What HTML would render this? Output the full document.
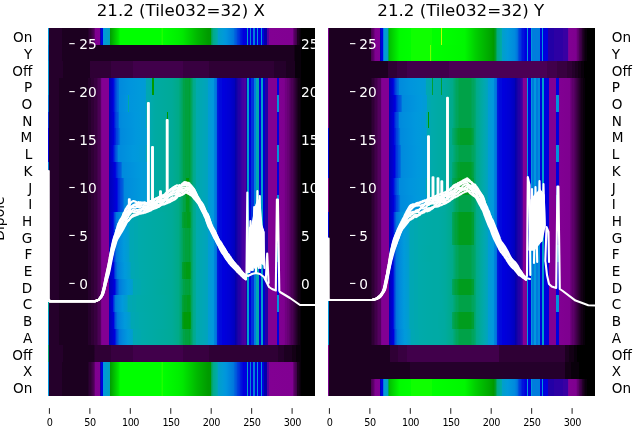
<!DOCTYPE html><html><head><meta charset="utf-8"><style>html,body{margin:0;padding:0;background:#fff;width:640px;height:440px;overflow:hidden;position:relative}#hm div{position:absolute}svg{position:absolute;left:0;top:0;display:block}text{font-family:"DejaVu Sans","Liberation Sans",sans-serif}</style></head><body>
<div id="hm"><div style="left:47.90px;top:28.00px;width:267.10px;height:17.00px;background:linear-gradient(90deg,#0098dd 0.00px,#0098dd 0.75px,#25002b 1.00px,#25002b 14.00px,#1c0020 14.25px,#1c0020 40.25px,#25002b 40.50px,#25002b 41.00px,#2f0035 41.25px,#2f0035 42.50px,#380040 42.75px,#380040 44.00px,#41004b 44.25px,#41004b 45.00px,#4b0055 45.25px,#4b0055 45.50px,#540060 45.75px,#540060 46.00px,#5d006b 46.25px,#5d006b 46.50px,#700080 47.00px,#700080 47.25px,#7f0090 47.50px,#820093 51.50px,#870098 51.75px,#3800a3 52.00px,#2300a6 52.25px,#0d00a8 52.75px,#0000c1 53.00px,#0000dd 53.25px,#0000dd 54.75px,#0078dd 55.00px,#0098dd 55.25px,#00a0c7 60.00px,#00a3bf 61.50px,#00a668 61.75px,#009a00 62.00px,#00e700 70.75px,#00ff00 72.25px,#00ff00 113.25px,#1dff00 113.75px,#1dff00 114.50px,#00ff00 115.00px,#00ef00 130.75px,#00e700 135.00px,#00b700 149.25px,#009a00 160.25px,#009a00 163.00px,#009a08 163.25px,#00a353 163.50px,#00a668 164.00px,#00a668 164.25px,#00aa88 165.00px,#00aaa8 169.25px,#00a8af 169.50px,#009fcb 169.75px,#009fcb 171.00px,#009ecf 172.00px,#009bd7 175.00px,#0095dd 178.00px,#0078dd 185.50px,#0070dd 185.75px,#0070dd 186.25px,#0067dd 186.50px,#0067dd 187.00px,#005ddd 187.25px,#005ddd 187.75px,#0054dd 188.00px,#0054dd 188.50px,#004bdd 188.75px,#004bdd 189.25px,#0041dd 189.50px,#0041dd 190.00px,#0038dd 190.25px,#0038dd 190.75px,#002fdd 191.00px,#002fdd 191.50px,#0025dd 191.75px,#0025dd 192.25px,#001cdd 192.50px,#001cdd 193.00px,#0013dd 193.25px,#0013dd 194.00px,#0009dd 194.25px,#0009dd 194.75px,#0000dd 195.00px,#0000dd 198.75px,#009fcb 199.00px,#009fcb 199.50px,#0000dd 199.75px,#0000dd 202.25px,#0085dd 202.50px,#0085dd 203.00px,#0000dd 203.25px,#0000dd 205.00px,#007ddd 205.25px,#007ddd 206.50px,#0000dd 206.75px,#0000dd 208.50px,#0098dd 208.75px,#0098dd 210.00px,#0000dd 210.25px,#0000dd 212.75px,#0098dd 213.00px,#0098dd 214.25px,#0000dd 214.50px,#0000dd 216.25px,#0300aa 216.50px,#0300aa 219.25px,#58009f 219.50px,#58009f 220.50px,#820093 220.75px,#810092 244.50px,#770088 245.00px,#670075 245.25px,#670075 245.50px,#5d006b 245.75px,#5d006b 246.25px,#540060 246.50px,#540060 247.00px,#4b0055 247.25px,#4b0055 248.00px,#41004b 248.25px,#41004b 248.75px,#1c0020 249.25px,#1c0020 250.50px,#130015 250.75px,#130015 252.00px,#09000b 252.25px,#09000b 253.00px,#000000 253.25px,#000000 267.00px)"></div><div style="left:47.90px;top:44.70px;width:267.10px;height:17.00px;background:linear-gradient(90deg,#008add 0.00px,#008add 0.75px,#25002b 1.00px,#25002b 14.00px,#1c0020 14.25px,#1c0020 246.00px,#130015 246.25px,#130015 246.50px,#09000b 246.75px,#09000b 253.00px,#000000 253.25px,#000000 267.00px)"></div><div style="left:47.90px;top:61.41px;width:267.10px;height:17.00px;background:linear-gradient(90deg,#0098dd 0.00px,#0098dd 0.75px,#25002b 1.00px,#25002b 14.50px,#1c0020 14.75px,#1c0020 42.00px,#2f0035 42.25px,#2f0035 62.50px,#380040 62.75px,#380040 84.50px,#41004b 84.75px,#41004b 134.50px,#380040 134.75px,#380040 160.75px,#2f0035 161.00px,#2f0035 225.50px,#25002b 225.75px,#25002b 238.00px,#1c0020 238.25px,#1c0020 246.50px,#09000b 247.00px,#09000b 253.00px,#000000 253.25px,#000000 267.00px)"></div><div style="left:47.90px;top:78.11px;width:267.10px;height:17.00px;background:linear-gradient(90deg,#0098dd 0.00px,#0098dd 0.75px,#25002b 1.00px,#25002b 11.00px,#1c0020 11.25px,#1c0020 40.00px,#25002b 40.25px,#25002b 43.25px,#2f0035 43.50px,#2f0035 46.25px,#380040 46.50px,#380040 48.75px,#41004b 49.00px,#41004b 50.25px,#4b0055 50.50px,#4b0055 52.00px,#540060 52.25px,#540060 53.25px,#7a008b 53.50px,#820093 53.75px,#820093 61.00px,#78009b 61.25px,#0000b9 61.50px,#0000d5 64.50px,#0000dd 65.25px,#0013dd 65.75px,#0013dd 66.00px,#0038dd 67.00px,#0038dd 67.25px,#0041dd 67.50px,#0041dd 67.75px,#004bdd 68.00px,#004bdd 68.25px,#0054dd 68.50px,#0054dd 68.75px,#005ddd 69.00px,#005ddd 69.25px,#0067dd 69.50px,#0067dd 70.00px,#0070dd 70.25px,#0070dd 70.50px,#0085dd 70.75px,#008add 71.25px,#0095dd 82.50px,#009adb 91.75px,#009bd7 92.75px,#009bd7 96.25px,#009cd3 97.25px,#009ecf 98.00px,#00a7b3 98.25px,#00a7b3 100.25px,#00a8af 101.25px,#00a8af 102.50px,#00aaab 103.50px,#00aaab 104.25px,#009a00 104.50px,#009a00 105.75px,#00aaa3 106.00px,#00aa98 124.00px,#00aa88 130.25px,#00aa88 130.50px,#00a97d 130.75px,#00a97d 131.75px,#00a773 132.00px,#00a773 133.00px,#00a668 133.25px,#00a668 133.75px,#00a55d 134.00px,#00a55d 134.50px,#00a353 134.75px,#00a353 135.25px,#00a248 135.50px,#00a248 136.75px,#00a13d 137.00px,#00a13d 141.00px,#009f33 141.25px,#009f33 141.50px,#00a13d 141.75px,#00a13d 142.00px,#00a248 142.25px,#00a248 142.50px,#00a353 142.75px,#00a353 143.00px,#00a55d 143.25px,#00a55d 143.50px,#00a668 143.75px,#00a668 144.00px,#00a773 144.25px,#00a773 144.50px,#00aa88 145.00px,#00aa95 147.50px,#00aaa5 147.75px,#00aaab 148.25px,#00a8af 151.50px,#00a7b3 152.50px,#00a7b3 153.75px,#00a6b7 154.75px,#00a6b7 156.00px,#00a4bb 157.00px,#00a4bb 158.25px,#00a3bf 159.25px,#00a3bf 159.50px,#009cd3 160.00px,#009bd7 162.75px,#009adb 163.75px,#0098dd 165.50px,#0085dd 165.75px,#0078dd 168.00px,#0070dd 168.25px,#0070dd 168.50px,#0067dd 168.75px,#0067dd 169.00px,#005ddd 169.25px,#001cdd 169.50px,#0013dd 169.75px,#0013dd 171.25px,#0009dd 171.50px,#0009dd 173.75px,#0000dd 174.00px,#0000dd 176.25px,#0000d9 177.25px,#0000d9 178.75px,#0000d5 179.75px,#0000d5 181.00px,#0000d1 182.00px,#0000bd 187.00px,#0300aa 187.25px,#0300aa 187.50px,#0d00a8 187.75px,#0d00a8 189.00px,#1800a7 189.25px,#1800a7 190.25px,#2300a6 190.50px,#2300a6 191.50px,#2d00a4 191.75px,#2d00a4 192.75px,#3800a3 193.00px,#3800a3 194.25px,#4300a2 194.50px,#4300a2 196.00px,#4d00a0 196.25px,#4d00a0 197.75px,#58009f 198.00px,#58009f 198.25px,#2300a6 198.50px,#2300a6 199.25px,#009fcb 199.50px,#009fcb 201.00px,#0000dd 201.25px,#0000dd 203.00px,#002fdd 203.25px,#002fdd 205.75px,#007ddd 206.00px,#007ddd 208.25px,#00a7b3 208.50px,#00a7b3 210.50px,#0000dd 210.75px,#0000dd 212.50px,#009fcb 212.75px,#009fcb 214.50px,#0000d1 214.75px,#0000d1 217.25px,#2300a6 217.50px,#2300a6 220.00px,#820093 220.25px,#820093 228.50px,#0000dd 228.75px,#0000dd 230.75px,#810092 231.00px,#7e008f 236.25px,#770088 237.00px,#700080 237.25px,#700080 238.75px,#670075 239.00px,#670075 240.50px,#5d006b 240.75px,#5d006b 242.25px,#540060 242.50px,#540060 243.25px,#4b0055 243.50px,#4b0055 244.50px,#41004b 244.75px,#41004b 245.50px,#380040 245.75px,#380040 246.50px,#2f0035 246.75px,#2f0035 247.75px,#25002b 248.00px,#25002b 249.00px,#1c0020 249.25px,#1c0020 250.00px,#130015 250.25px,#130015 251.50px,#09000b 251.75px,#09000b 253.00px,#000000 253.25px,#000000 267.00px)"></div><div style="left:47.90px;top:94.82px;width:267.10px;height:17.00px;background:linear-gradient(90deg,#0078dd 0.00px,#0078dd 0.75px,#25002b 1.00px,#25002b 11.00px,#1c0020 11.25px,#1c0020 40.00px,#25002b 40.25px,#25002b 43.25px,#2f0035 43.50px,#2f0035 46.25px,#380040 46.50px,#380040 48.75px,#41004b 49.00px,#41004b 50.25px,#4b0055 50.50px,#4b0055 52.00px,#540060 52.25px,#540060 53.25px,#7a008b 53.50px,#820093 53.75px,#820093 61.00px,#78009b 61.25px,#0000b9 61.50px,#0000d5 64.50px,#0000dd 65.25px,#0013dd 65.75px,#0013dd 66.00px,#0038dd 67.00px,#0038dd 67.25px,#0041dd 67.50px,#0041dd 67.75px,#004bdd 68.00px,#004bdd 68.25px,#0054dd 68.50px,#0054dd 68.75px,#005ddd 69.00px,#005ddd 69.25px,#0067dd 69.50px,#0067dd 70.00px,#0070dd 70.25px,#0070dd 70.50px,#0085dd 70.75px,#008add 71.25px,#0095dd 79.75px,#00aaa3 80.00px,#00aaa3 81.25px,#0095dd 81.50px,#009adb 91.75px,#009bd7 92.75px,#009bd7 96.25px,#009cd3 97.25px,#009ecf 98.00px,#00a7b3 98.25px,#00a7b3 100.25px,#00a8af 101.25px,#00a8af 102.50px,#00aaab 103.50px,#00aaa3 107.00px,#00aa98 124.00px,#00aa88 130.25px,#00aa88 130.50px,#00a97d 130.75px,#00a97d 131.75px,#00a773 132.00px,#00a773 133.00px,#00a668 133.25px,#00a668 133.75px,#00a55d 134.00px,#00a55d 134.50px,#00a353 134.75px,#00a353 135.25px,#00a248 135.50px,#00a248 136.75px,#00a13d 137.00px,#00a13d 141.00px,#009f33 141.25px,#009f33 141.50px,#00a13d 141.75px,#00a13d 142.00px,#00a248 142.25px,#00a248 142.50px,#00a353 142.75px,#00a353 143.00px,#00a55d 143.25px,#00a55d 143.50px,#00a668 143.75px,#00a668 144.00px,#00a773 144.25px,#00a773 144.50px,#00aa88 145.00px,#00aa95 147.50px,#00aaa5 147.75px,#00aaab 148.25px,#00a8af 151.50px,#00a7b3 152.50px,#00a7b3 153.75px,#00a6b7 154.75px,#00a6b7 156.00px,#00a4bb 157.00px,#00a4bb 158.25px,#00a3bf 159.25px,#00a3bf 159.50px,#009cd3 160.00px,#009bd7 162.75px,#009adb 163.75px,#0098dd 165.50px,#0085dd 165.75px,#0078dd 168.00px,#0070dd 168.25px,#0070dd 168.50px,#0067dd 168.75px,#0067dd 169.00px,#005ddd 169.25px,#001cdd 169.50px,#0013dd 169.75px,#0013dd 171.25px,#0009dd 171.50px,#0009dd 173.75px,#0000dd 174.00px,#0000dd 176.25px,#0000d9 177.25px,#0000d9 178.75px,#0000d5 179.75px,#0000d5 181.00px,#0000d1 182.00px,#0000bd 187.00px,#0300aa 187.25px,#0300aa 187.50px,#0d00a8 187.75px,#0d00a8 189.00px,#1800a7 189.25px,#1800a7 190.25px,#2300a6 190.50px,#2300a6 191.50px,#2d00a4 191.75px,#2d00a4 192.75px,#3800a3 193.00px,#3800a3 194.25px,#4300a2 194.50px,#4300a2 196.00px,#4d00a0 196.25px,#4d00a0 197.75px,#58009f 198.00px,#58009f 198.25px,#2300a6 198.50px,#2300a6 199.25px,#009fcb 199.50px,#009fcb 201.00px,#0000dd 201.25px,#0000dd 203.00px,#002fdd 203.25px,#002fdd 205.75px,#007ddd 206.00px,#007ddd 208.25px,#00a7b3 208.50px,#00a7b3 210.50px,#0000dd 210.75px,#0000dd 212.50px,#009fcb 212.75px,#009fcb 214.50px,#0000d1 214.75px,#0000d1 217.25px,#2300a6 217.50px,#2300a6 220.00px,#820093 220.25px,#820093 228.50px,#0092dd 228.75px,#0092dd 230.75px,#810092 231.00px,#7e008f 236.25px,#770088 237.00px,#700080 237.25px,#700080 238.75px,#670075 239.00px,#670075 240.50px,#5d006b 240.75px,#5d006b 242.25px,#540060 242.50px,#540060 243.25px,#4b0055 243.50px,#4b0055 244.50px,#41004b 244.75px,#41004b 245.50px,#380040 245.75px,#380040 246.50px,#2f0035 246.75px,#2f0035 247.75px,#25002b 248.00px,#25002b 249.00px,#1c0020 249.25px,#1c0020 250.00px,#130015 250.25px,#130015 251.50px,#09000b 251.75px,#09000b 253.00px,#000000 253.25px,#000000 267.00px)"></div><div style="left:47.90px;top:111.52px;width:267.10px;height:17.00px;background:linear-gradient(90deg,#002fdd 0.00px,#002fdd 0.75px,#25002b 1.00px,#25002b 11.00px,#1c0020 11.25px,#1c0020 40.00px,#25002b 40.25px,#25002b 43.25px,#2f0035 43.50px,#2f0035 46.25px,#380040 46.50px,#380040 48.75px,#41004b 49.00px,#41004b 50.25px,#4b0055 50.50px,#4b0055 52.00px,#540060 52.25px,#540060 53.25px,#7a008b 53.50px,#820093 53.75px,#820093 61.00px,#78009b 61.25px,#0000b9 61.50px,#0000d5 64.75px,#0000dd 65.75px,#0025dd 66.75px,#0025dd 67.00px,#0038dd 67.50px,#0038dd 67.75px,#0041dd 68.00px,#0041dd 68.25px,#004bdd 68.50px,#004bdd 68.75px,#0054dd 69.00px,#0054dd 69.50px,#005ddd 69.75px,#005ddd 70.00px,#0067dd 70.25px,#0067dd 70.50px,#0070dd 70.75px,#0070dd 71.25px,#0088dd 71.50px,#008ddd 74.00px,#0098dd 87.75px,#009adb 92.50px,#009bd7 93.50px,#009bd7 96.50px,#009cd3 97.50px,#009cd3 98.25px,#00a7b3 98.50px,#00a7b3 100.50px,#00a8af 101.50px,#00a8af 102.50px,#00aaab 103.50px,#00aaa3 107.00px,#00aa9d 118.50px,#009a00 118.75px,#009a00 119.75px,#00aa9b 120.00px,#00aa98 124.00px,#00aa88 130.25px,#00aa88 130.50px,#00a97d 130.75px,#00a97d 131.75px,#00a773 132.00px,#00a773 133.00px,#00a668 133.25px,#00a668 133.75px,#00a55d 134.00px,#00a55d 134.50px,#00a353 134.75px,#00a353 135.25px,#00a248 135.50px,#00a248 136.75px,#00a13d 137.00px,#00a13d 141.00px,#009f33 141.25px,#009f33 141.50px,#00a13d 141.75px,#00a13d 142.00px,#00a248 142.25px,#00a248 142.50px,#00a353 142.75px,#00a353 143.00px,#00a55d 143.25px,#00a55d 143.50px,#00a668 143.75px,#00a668 144.00px,#00a773 144.25px,#00a773 144.50px,#00aa88 145.00px,#00aa95 147.50px,#00aaa5 147.75px,#00aaab 148.25px,#00a8af 151.50px,#00a7b3 152.50px,#00a7b3 153.75px,#00a6b7 154.75px,#00a6b7 156.00px,#00a4bb 157.00px,#00a4bb 158.25px,#00a3bf 159.25px,#00a3bf 159.50px,#009cd3 160.00px,#009bd7 162.75px,#009adb 163.75px,#0098dd 165.50px,#0085dd 165.75px,#0078dd 168.00px,#0070dd 168.25px,#0070dd 168.50px,#0067dd 168.75px,#0067dd 169.00px,#005ddd 169.25px,#001cdd 169.50px,#0013dd 169.75px,#0013dd 171.25px,#0009dd 171.50px,#0009dd 173.75px,#0000dd 174.00px,#0000dd 176.25px,#0000d9 177.25px,#0000d9 178.75px,#0000d5 179.75px,#0000d5 181.00px,#0000d1 182.00px,#0000bd 187.00px,#0300aa 187.25px,#0300aa 187.50px,#0d00a8 187.75px,#0d00a8 189.00px,#1800a7 189.25px,#1800a7 190.25px,#2300a6 190.50px,#2300a6 191.50px,#2d00a4 191.75px,#2d00a4 192.75px,#3800a3 193.00px,#3800a3 194.25px,#4300a2 194.50px,#4300a2 196.00px,#4d00a0 196.25px,#4d00a0 197.75px,#58009f 198.00px,#58009f 198.25px,#2300a6 198.50px,#2300a6 199.25px,#009fcb 199.50px,#009fcb 201.00px,#0000dd 201.25px,#0000dd 203.00px,#002fdd 203.25px,#002fdd 205.75px,#007ddd 206.00px,#007ddd 208.25px,#00a7b3 208.50px,#00a7b3 210.50px,#0000dd 210.75px,#0000dd 212.50px,#009fcb 212.75px,#009fcb 214.50px,#0000d1 214.75px,#0000d1 217.25px,#2300a6 217.50px,#2300a6 220.00px,#820093 220.25px,#820093 228.50px,#0000dd 228.75px,#0000dd 230.75px,#810092 231.00px,#7e008f 236.25px,#770088 237.00px,#700080 237.25px,#700080 238.75px,#670075 239.00px,#670075 240.50px,#5d006b 240.75px,#5d006b 242.25px,#540060 242.50px,#540060 243.25px,#4b0055 243.50px,#4b0055 244.50px,#41004b 244.75px,#41004b 245.50px,#380040 245.75px,#380040 246.50px,#2f0035 246.75px,#2f0035 247.75px,#25002b 248.00px,#25002b 249.00px,#1c0020 249.25px,#1c0020 250.00px,#130015 250.25px,#130015 251.50px,#09000b 251.75px,#09000b 253.00px,#000000 253.25px,#000000 267.00px)"></div><div style="left:47.90px;top:128.23px;width:267.10px;height:17.00px;background:linear-gradient(90deg,#0000dd 0.00px,#0000dd 0.75px,#25002b 1.00px,#25002b 11.00px,#1c0020 11.25px,#1c0020 40.00px,#25002b 40.25px,#25002b 43.25px,#2f0035 43.50px,#2f0035 46.25px,#380040 46.50px,#380040 48.75px,#41004b 49.00px,#41004b 50.25px,#4b0055 50.50px,#4b0055 52.00px,#540060 52.25px,#540060 53.25px,#7a008b 53.50px,#820093 53.75px,#820093 61.00px,#78009b 61.25px,#0000b9 61.50px,#0000dd 66.00px,#0013dd 66.50px,#0013dd 66.75px,#0025dd 67.25px,#0025dd 67.50px,#0038dd 68.00px,#0038dd 68.25px,#0041dd 68.50px,#0041dd 68.75px,#004bdd 69.00px,#004bdd 69.50px,#0054dd 69.75px,#0054dd 70.00px,#005ddd 70.25px,#005ddd 70.75px,#0067dd 71.00px,#0067dd 71.25px,#0070dd 71.50px,#0070dd 72.00px,#0085dd 72.25px,#008add 72.75px,#0098dd 88.00px,#009adb 93.00px,#009bd7 94.00px,#009bd7 97.00px,#009cd3 98.00px,#009ecf 98.50px,#00a7b3 98.75px,#00a7b3 100.50px,#00a8af 101.50px,#00a8af 102.50px,#00aaab 103.50px,#00aaa3 107.00px,#00aa98 124.00px,#00aa88 130.25px,#00aa88 130.50px,#00a97d 130.75px,#00a97d 131.75px,#00a773 132.00px,#00a773 133.00px,#00a668 133.25px,#00a668 133.75px,#00a55d 134.00px,#00a55d 134.50px,#00a353 134.75px,#00a353 135.25px,#00a248 135.50px,#00a248 136.75px,#00a13d 137.00px,#00a13d 141.00px,#009f33 141.25px,#009f33 141.50px,#00a13d 141.75px,#00a13d 142.00px,#00a248 142.25px,#00a248 142.50px,#00a353 142.75px,#00a353 143.00px,#00a55d 143.25px,#00a55d 143.50px,#00a668 143.75px,#00a668 144.00px,#00a773 144.25px,#00a773 144.50px,#00aa88 145.00px,#00aa95 147.50px,#00aaa5 147.75px,#00aaab 148.25px,#00a8af 151.50px,#00a7b3 152.50px,#00a7b3 153.75px,#00a6b7 154.75px,#00a6b7 156.00px,#00a4bb 157.00px,#00a4bb 158.25px,#00a3bf 159.25px,#00a3bf 159.50px,#009cd3 160.00px,#009bd7 162.75px,#009adb 163.75px,#0098dd 165.50px,#0085dd 165.75px,#0078dd 168.00px,#0070dd 168.25px,#0070dd 168.50px,#0067dd 168.75px,#0067dd 169.00px,#005ddd 169.25px,#001cdd 169.50px,#0013dd 169.75px,#0013dd 171.25px,#0009dd 171.50px,#0009dd 173.75px,#0000dd 174.00px,#0000dd 176.25px,#0000d9 177.25px,#0000d9 178.75px,#0000d5 179.75px,#0000d5 181.00px,#0000d1 182.00px,#0000bd 187.00px,#0300aa 187.25px,#0300aa 187.50px,#0d00a8 187.75px,#0d00a8 189.00px,#1800a7 189.25px,#1800a7 190.25px,#2300a6 190.50px,#2300a6 191.50px,#2d00a4 191.75px,#2d00a4 192.75px,#3800a3 193.00px,#3800a3 194.25px,#4300a2 194.50px,#4300a2 196.00px,#4d00a0 196.25px,#4d00a0 197.75px,#58009f 198.00px,#58009f 198.25px,#2300a6 198.50px,#2300a6 199.25px,#009fcb 199.50px,#009fcb 201.00px,#0000dd 201.25px,#0000dd 203.00px,#002fdd 203.25px,#002fdd 205.75px,#007ddd 206.00px,#007ddd 208.25px,#00a7b3 208.50px,#00a7b3 210.50px,#0000dd 210.75px,#0000dd 212.50px,#009fcb 212.75px,#009fcb 214.50px,#0000d1 214.75px,#0000d1 217.25px,#2300a6 217.50px,#2300a6 220.00px,#820093 220.25px,#820093 228.50px,#0000dd 228.75px,#0000dd 230.75px,#810092 231.00px,#7e008f 236.25px,#770088 237.00px,#700080 237.25px,#700080 238.75px,#670075 239.00px,#670075 240.50px,#5d006b 240.75px,#5d006b 242.25px,#540060 242.50px,#540060 243.25px,#4b0055 243.50px,#4b0055 244.50px,#41004b 244.75px,#41004b 245.50px,#380040 245.75px,#380040 246.50px,#2f0035 246.75px,#2f0035 247.75px,#25002b 248.00px,#25002b 249.00px,#1c0020 249.25px,#1c0020 250.00px,#130015 250.25px,#130015 251.50px,#09000b 251.75px,#09000b 253.00px,#000000 253.25px,#000000 267.00px)"></div><div style="left:47.90px;top:144.93px;width:267.10px;height:17.00px;background:linear-gradient(90deg,#0000dd 0.00px,#0000dd 0.75px,#25002b 1.00px,#25002b 11.00px,#1c0020 11.25px,#1c0020 40.00px,#25002b 40.25px,#25002b 43.25px,#2f0035 43.50px,#2f0035 46.25px,#380040 46.50px,#380040 48.75px,#41004b 49.00px,#41004b 50.25px,#4b0055 50.50px,#4b0055 52.00px,#540060 52.25px,#540060 53.25px,#7a008b 53.50px,#820093 53.75px,#820093 61.00px,#78009b 61.25px,#0000b9 61.50px,#0000dd 65.00px,#0025dd 66.00px,#0025dd 66.25px,#0041dd 67.00px,#0041dd 67.25px,#004bdd 67.50px,#004bdd 67.75px,#0054dd 68.00px,#0054dd 68.25px,#005ddd 68.50px,#005ddd 68.75px,#0067dd 69.00px,#0067dd 69.25px,#0070dd 69.50px,#0070dd 69.75px,#008add 70.25px,#0098dd 85.00px,#009adb 91.00px,#009bd7 92.00px,#009bd7 95.75px,#009cd3 96.75px,#009cd3 97.50px,#009fcb 97.75px,#00a7b3 98.00px,#00a7b3 100.25px,#00a8af 101.25px,#00a8af 102.50px,#00aaab 103.50px,#00aaa3 107.00px,#00aa98 124.00px,#00aa88 130.25px,#00aa88 130.50px,#00a97d 130.75px,#00a97d 131.75px,#00a773 132.00px,#00a773 133.00px,#00a668 133.25px,#00a668 133.75px,#00a55d 134.00px,#00a55d 134.50px,#00a353 134.75px,#00a353 135.25px,#00a248 135.50px,#00a248 136.75px,#00a13d 137.00px,#00a13d 141.00px,#009f33 141.25px,#009f33 141.50px,#00a13d 141.75px,#00a13d 142.00px,#00a248 142.25px,#00a248 142.50px,#00a353 142.75px,#00a353 143.00px,#00a55d 143.25px,#00a55d 143.50px,#00a668 143.75px,#00a668 144.00px,#00a773 144.25px,#00a773 144.50px,#00aa88 145.00px,#00aa95 147.50px,#00aaa5 147.75px,#00aaab 148.25px,#00a8af 151.50px,#00a7b3 152.50px,#00a7b3 153.75px,#00a6b7 154.75px,#00a6b7 156.00px,#00a4bb 157.00px,#00a4bb 158.25px,#00a3bf 159.25px,#00a3bf 159.50px,#009cd3 160.00px,#009bd7 162.75px,#009adb 163.75px,#0098dd 165.50px,#0085dd 165.75px,#0078dd 168.00px,#0070dd 168.25px,#0070dd 168.50px,#0067dd 168.75px,#0067dd 169.00px,#005ddd 169.25px,#001cdd 169.50px,#0013dd 169.75px,#0013dd 171.25px,#0009dd 171.50px,#0009dd 173.75px,#0000dd 174.00px,#0000dd 176.25px,#0000d9 177.25px,#0000d9 178.75px,#0000d5 179.75px,#0000d5 181.00px,#0000d1 182.00px,#0000bd 187.00px,#0300aa 187.25px,#0300aa 187.50px,#0d00a8 187.75px,#0d00a8 189.00px,#1800a7 189.25px,#1800a7 190.25px,#2300a6 190.50px,#2300a6 191.50px,#2d00a4 191.75px,#2d00a4 192.75px,#3800a3 193.00px,#3800a3 194.25px,#4300a2 194.50px,#4300a2 196.00px,#4d00a0 196.25px,#4d00a0 197.75px,#58009f 198.00px,#58009f 198.25px,#2300a6 198.50px,#2300a6 199.25px,#009fcb 199.50px,#009fcb 201.00px,#0000dd 201.25px,#0000dd 203.00px,#002fdd 203.25px,#002fdd 205.75px,#007ddd 206.00px,#007ddd 208.25px,#00a7b3 208.50px,#00a7b3 210.50px,#0000dd 210.75px,#0000dd 212.50px,#009fcb 212.75px,#009fcb 214.50px,#0000d1 214.75px,#0000d1 217.25px,#2300a6 217.50px,#2300a6 220.00px,#820093 220.25px,#820093 228.50px,#0092dd 228.75px,#0092dd 230.75px,#810092 231.00px,#7e008f 236.25px,#770088 237.00px,#700080 237.25px,#700080 238.75px,#670075 239.00px,#670075 240.50px,#5d006b 240.75px,#5d006b 242.25px,#540060 242.50px,#540060 243.25px,#4b0055 243.50px,#4b0055 244.50px,#41004b 244.75px,#41004b 245.50px,#380040 245.75px,#380040 246.50px,#2f0035 246.75px,#2f0035 247.75px,#25002b 248.00px,#25002b 249.00px,#1c0020 249.25px,#1c0020 250.00px,#130015 250.25px,#130015 251.50px,#09000b 251.75px,#09000b 253.00px,#000000 253.25px,#000000 267.00px)"></div><div style="left:47.90px;top:161.64px;width:267.10px;height:17.00px;background:linear-gradient(90deg,#0078dd 0.00px,#0078dd 0.75px,#25002b 1.00px,#25002b 11.00px,#1c0020 11.25px,#1c0020 40.00px,#25002b 40.25px,#25002b 43.25px,#2f0035 43.50px,#2f0035 46.25px,#380040 46.50px,#380040 48.75px,#41004b 49.00px,#41004b 50.25px,#4b0055 50.50px,#4b0055 52.00px,#540060 52.25px,#540060 53.25px,#7a008b 53.50px,#820093 53.75px,#820093 61.00px,#78009b 61.25px,#0000b9 61.50px,#0000d9 66.50px,#0000dd 67.00px,#0009dd 67.25px,#0009dd 67.50px,#001cdd 68.00px,#001cdd 68.25px,#0025dd 68.50px,#0025dd 68.75px,#0038dd 69.25px,#0038dd 69.50px,#0041dd 69.75px,#0041dd 70.25px,#004bdd 70.50px,#004bdd 71.00px,#0054dd 71.25px,#0054dd 71.75px,#005ddd 72.00px,#005ddd 72.50px,#0067dd 72.75px,#0067dd 73.00px,#0070dd 73.25px,#0070dd 73.75px,#008add 74.25px,#0098dd 90.00px,#009adb 94.00px,#009bd7 95.00px,#009bd7 97.50px,#009cd3 98.50px,#009cd3 98.75px,#00a4bb 99.00px,#00a7b3 99.25px,#00a7b3 100.50px,#00a8af 101.50px,#00a8af 102.50px,#00aaab 103.50px,#00aaa3 107.00px,#00aa98 124.00px,#00aa88 130.25px,#00aa88 130.50px,#00a97d 130.75px,#00a97d 131.75px,#00a773 132.00px,#00a773 133.00px,#00a668 133.25px,#00a668 133.75px,#00a55d 134.00px,#00a55d 134.50px,#00a353 134.75px,#00a353 135.25px,#00a248 135.50px,#00a248 136.75px,#00a13d 137.00px,#00a13d 141.00px,#009f33 141.25px,#009f33 141.50px,#00a13d 141.75px,#00a13d 142.00px,#00a248 142.25px,#00a248 142.50px,#00a353 142.75px,#00a353 143.00px,#00a55d 143.25px,#00a55d 143.50px,#00a668 143.75px,#00a668 144.00px,#00a773 144.25px,#00a773 144.50px,#00aa88 145.00px,#00aa95 147.50px,#00aaa5 147.75px,#00aaab 148.25px,#00a8af 151.50px,#00a7b3 152.50px,#00a7b3 153.75px,#00a6b7 154.75px,#00a6b7 156.00px,#00a4bb 157.00px,#00a4bb 158.25px,#00a3bf 159.25px,#00a3bf 159.50px,#009cd3 160.00px,#009bd7 162.75px,#009adb 163.75px,#0098dd 165.50px,#0085dd 165.75px,#0078dd 168.00px,#0070dd 168.25px,#0070dd 168.50px,#0067dd 168.75px,#0067dd 169.00px,#005ddd 169.25px,#001cdd 169.50px,#0013dd 169.75px,#0013dd 171.25px,#0009dd 171.50px,#0009dd 173.75px,#0000dd 174.00px,#0000dd 176.25px,#0000d9 177.25px,#0000d9 178.75px,#0000d5 179.75px,#0000d5 181.00px,#0000d1 182.00px,#0000bd 187.00px,#0300aa 187.25px,#0300aa 187.50px,#0d00a8 187.75px,#0d00a8 189.00px,#1800a7 189.25px,#1800a7 190.25px,#2300a6 190.50px,#2300a6 191.50px,#2d00a4 191.75px,#2d00a4 192.75px,#3800a3 193.00px,#3800a3 194.25px,#4300a2 194.50px,#4300a2 196.00px,#4d00a0 196.25px,#4d00a0 197.75px,#58009f 198.00px,#58009f 198.25px,#2300a6 198.50px,#2300a6 199.25px,#009fcb 199.50px,#009fcb 201.00px,#0000dd 201.25px,#0000dd 203.00px,#002fdd 203.25px,#002fdd 205.75px,#007ddd 206.00px,#007ddd 208.25px,#00a7b3 208.50px,#00a7b3 210.50px,#0000dd 210.75px,#0000dd 212.50px,#009fcb 212.75px,#009fcb 214.50px,#0000d1 214.75px,#0000d1 217.25px,#2300a6 217.50px,#2300a6 220.00px,#820093 220.25px,#820093 228.50px,#0000dd 228.75px,#0000dd 230.75px,#810092 231.00px,#7e008f 236.25px,#770088 237.00px,#700080 237.25px,#700080 238.75px,#670075 239.00px,#670075 240.50px,#5d006b 240.75px,#5d006b 242.25px,#540060 242.50px,#540060 243.25px,#4b0055 243.50px,#4b0055 244.50px,#41004b 244.75px,#41004b 245.50px,#380040 245.75px,#380040 246.50px,#2f0035 246.75px,#2f0035 247.75px,#25002b 248.00px,#25002b 249.00px,#1c0020 249.25px,#1c0020 250.00px,#130015 250.25px,#130015 251.50px,#09000b 251.75px,#09000b 253.00px,#000000 253.25px,#000000 267.00px)"></div><div style="left:47.90px;top:178.34px;width:267.10px;height:17.00px;background:linear-gradient(90deg,#0098dd 0.00px,#0098dd 0.75px,#25002b 1.00px,#25002b 11.00px,#1c0020 11.25px,#1c0020 40.00px,#25002b 40.25px,#25002b 43.25px,#2f0035 43.50px,#2f0035 46.25px,#380040 46.50px,#380040 48.75px,#41004b 49.00px,#41004b 50.25px,#4b0055 50.50px,#4b0055 52.00px,#540060 52.25px,#540060 53.25px,#7a008b 53.50px,#820093 53.75px,#820093 61.00px,#78009b 61.25px,#0000b9 61.50px,#0000dd 68.50px,#0009dd 68.75px,#0009dd 69.00px,#0013dd 69.25px,#0013dd 69.50px,#001cdd 69.75px,#001cdd 70.00px,#002fdd 70.50px,#002fdd 70.75px,#0038dd 71.00px,#0038dd 71.50px,#0041dd 71.75px,#0041dd 72.25px,#004bdd 72.50px,#004bdd 73.00px,#0054dd 73.25px,#0054dd 73.75px,#005ddd 74.00px,#005ddd 74.50px,#0067dd 74.75px,#0067dd 75.25px,#0070dd 75.50px,#0070dd 76.00px,#0088dd 76.25px,#008ddd 79.25px,#009adb 93.75px,#009adb 94.75px,#009bd7 95.75px,#009bd7 98.00px,#009cd3 99.00px,#00a3bf 99.25px,#00a7b3 99.50px,#00a7b3 100.75px,#00a8af 101.75px,#00aaa8 105.00px,#00aaa3 106.75px,#00aa98 124.00px,#00aa88 130.25px,#00aa88 130.50px,#00a97d 130.75px,#00a97d 131.75px,#00a773 132.00px,#00a773 133.00px,#00a668 133.25px,#00a668 133.75px,#00a55d 134.00px,#00a55d 134.50px,#00a353 134.75px,#00a353 135.25px,#00a248 135.50px,#00a248 136.75px,#00a13d 137.00px,#00a13d 138.00px,#009a00 138.25px,#009a00 140.75px,#00a13d 141.00px,#009f33 141.25px,#009f33 141.50px,#00a13d 141.75px,#00a13d 142.00px,#00a248 142.25px,#00a248 142.50px,#00a353 142.75px,#00a353 143.00px,#00a55d 143.25px,#00a55d 143.50px,#00a668 143.75px,#00a668 144.00px,#00a773 144.25px,#00a773 144.50px,#00aa88 145.00px,#00aa95 147.50px,#00aaa5 147.75px,#00aaab 148.25px,#00a8af 151.50px,#00a7b3 152.50px,#00a7b3 153.75px,#00a6b7 154.75px,#00a6b7 156.00px,#00a4bb 157.00px,#00a4bb 158.25px,#00a3bf 159.25px,#00a3bf 159.50px,#009cd3 160.00px,#009bd7 162.75px,#009adb 163.75px,#0098dd 165.50px,#0085dd 165.75px,#0078dd 168.00px,#0070dd 168.25px,#0070dd 168.50px,#0067dd 168.75px,#0067dd 169.00px,#005ddd 169.25px,#001cdd 169.50px,#0013dd 169.75px,#0013dd 171.25px,#0009dd 171.50px,#0009dd 173.75px,#0000dd 174.00px,#0000dd 176.25px,#0000d9 177.25px,#0000d9 178.75px,#0000d5 179.75px,#0000d5 181.00px,#0000d1 182.00px,#0000bd 187.00px,#0300aa 187.25px,#0300aa 187.50px,#0d00a8 187.75px,#0d00a8 189.00px,#1800a7 189.25px,#1800a7 190.25px,#2300a6 190.50px,#2300a6 191.50px,#2d00a4 191.75px,#2d00a4 192.75px,#3800a3 193.00px,#3800a3 194.25px,#4300a2 194.50px,#4300a2 196.00px,#4d00a0 196.25px,#4d00a0 197.75px,#58009f 198.00px,#58009f 198.25px,#2300a6 198.50px,#2300a6 199.25px,#009fcb 199.50px,#009fcb 201.00px,#0000dd 201.25px,#0000dd 203.00px,#002fdd 203.25px,#002fdd 205.75px,#007ddd 206.00px,#007ddd 208.25px,#00a7b3 208.50px,#00a7b3 210.50px,#0000dd 210.75px,#0000dd 212.50px,#009fcb 212.75px,#009fcb 214.50px,#0000d1 214.75px,#0000d1 217.25px,#2300a6 217.50px,#2300a6 220.00px,#820093 220.25px,#820093 228.50px,#0000dd 228.75px,#0000dd 230.75px,#810092 231.00px,#7e008f 236.25px,#770088 237.00px,#700080 237.25px,#700080 238.75px,#670075 239.00px,#670075 240.50px,#5d006b 240.75px,#5d006b 242.25px,#540060 242.50px,#540060 243.25px,#4b0055 243.50px,#4b0055 244.50px,#41004b 244.75px,#41004b 245.50px,#380040 245.75px,#380040 246.50px,#2f0035 246.75px,#2f0035 247.75px,#25002b 248.00px,#25002b 249.00px,#1c0020 249.25px,#1c0020 250.00px,#130015 250.25px,#130015 251.50px,#09000b 251.75px,#09000b 253.00px,#000000 253.25px,#000000 267.00px)"></div><div style="left:47.90px;top:195.05px;width:267.10px;height:17.00px;background:linear-gradient(90deg,#0098dd 0.00px,#0098dd 0.75px,#25002b 1.00px,#25002b 11.00px,#1c0020 11.25px,#1c0020 40.00px,#25002b 40.25px,#25002b 43.25px,#2f0035 43.50px,#2f0035 46.25px,#380040 46.50px,#380040 48.75px,#41004b 49.00px,#41004b 50.25px,#4b0055 50.50px,#4b0055 52.00px,#540060 52.25px,#540060 53.25px,#7a008b 53.50px,#820093 53.75px,#820093 61.00px,#78009b 61.25px,#0000b9 61.50px,#0000dd 68.50px,#0009dd 68.75px,#0009dd 69.00px,#0013dd 69.25px,#0013dd 69.50px,#001cdd 69.75px,#001cdd 70.00px,#002fdd 70.50px,#002fdd 70.75px,#0038dd 71.00px,#0038dd 71.50px,#0041dd 71.75px,#0041dd 72.25px,#004bdd 72.50px,#004bdd 73.00px,#0054dd 73.25px,#0054dd 73.75px,#005ddd 74.00px,#005ddd 74.50px,#0067dd 74.75px,#0067dd 75.25px,#0070dd 75.50px,#0070dd 76.00px,#0088dd 76.25px,#008ddd 79.25px,#009adb 93.75px,#009adb 94.75px,#009bd7 95.75px,#009bd7 98.00px,#009cd3 99.00px,#00a3bf 99.25px,#00a7b3 99.50px,#00a7b3 100.75px,#00a8af 101.75px,#00aaa8 105.00px,#00aaa3 106.75px,#00aa98 124.00px,#00aa88 130.25px,#00aa88 130.50px,#00a97d 130.75px,#00a97d 131.75px,#00a773 132.00px,#00a773 133.00px,#00a668 133.25px,#00a668 133.75px,#00a55d 134.00px,#00a55d 134.50px,#00a353 134.75px,#00a353 135.25px,#00a248 135.50px,#00a248 136.75px,#00a13d 137.00px,#00a13d 138.00px,#009d1d 138.25px,#009d1d 140.75px,#00a13d 141.00px,#009f33 141.25px,#009f33 141.50px,#00a13d 141.75px,#00a13d 142.00px,#00a248 142.25px,#00a248 142.50px,#00a353 142.75px,#00a353 143.00px,#00a55d 143.25px,#00a55d 143.50px,#00a668 143.75px,#00a668 144.00px,#00a773 144.25px,#00a773 144.50px,#00aa88 145.00px,#00aa95 147.50px,#00aaa5 147.75px,#00aaab 148.25px,#00a8af 151.50px,#00a7b3 152.50px,#00a7b3 153.75px,#00a6b7 154.75px,#00a6b7 156.00px,#00a4bb 157.00px,#00a4bb 158.25px,#00a3bf 159.25px,#00a3bf 159.50px,#009cd3 160.00px,#009bd7 162.75px,#009adb 163.75px,#0098dd 165.50px,#0085dd 165.75px,#0078dd 168.00px,#0070dd 168.25px,#0070dd 168.50px,#0067dd 168.75px,#0067dd 169.00px,#005ddd 169.25px,#001cdd 169.50px,#0013dd 169.75px,#0013dd 171.25px,#0009dd 171.50px,#0009dd 173.75px,#0000dd 174.00px,#0000dd 176.25px,#0000d9 177.25px,#0000d9 178.75px,#0000d5 179.75px,#0000d5 181.00px,#0000d1 182.00px,#0000bd 187.00px,#0300aa 187.25px,#0300aa 187.50px,#0d00a8 187.75px,#0d00a8 189.00px,#1800a7 189.25px,#1800a7 190.25px,#2300a6 190.50px,#2300a6 191.50px,#2d00a4 191.75px,#2d00a4 192.75px,#3800a3 193.00px,#3800a3 194.25px,#4300a2 194.50px,#4300a2 196.00px,#4d00a0 196.25px,#4d00a0 197.75px,#58009f 198.00px,#58009f 198.25px,#2300a6 198.50px,#2300a6 199.25px,#009fcb 199.50px,#009fcb 201.00px,#0000dd 201.25px,#0000dd 203.00px,#002fdd 203.25px,#002fdd 205.75px,#007ddd 206.00px,#007ddd 208.25px,#00a7b3 208.50px,#00a7b3 210.50px,#0000dd 210.75px,#0000dd 212.50px,#009fcb 212.75px,#009fcb 214.50px,#0000d1 214.75px,#0000d1 217.25px,#2300a6 217.50px,#2300a6 220.00px,#820093 220.25px,#820093 228.50px,#0092dd 228.75px,#0092dd 230.75px,#810092 231.00px,#7e008f 236.25px,#770088 237.00px,#700080 237.25px,#700080 238.75px,#670075 239.00px,#670075 240.50px,#5d006b 240.75px,#5d006b 242.25px,#540060 242.50px,#540060 243.25px,#4b0055 243.50px,#4b0055 244.50px,#41004b 244.75px,#41004b 245.50px,#380040 245.75px,#380040 246.50px,#2f0035 246.75px,#2f0035 247.75px,#25002b 248.00px,#25002b 249.00px,#1c0020 249.25px,#1c0020 250.00px,#130015 250.25px,#130015 251.50px,#09000b 251.75px,#09000b 253.00px,#000000 253.25px,#000000 267.00px)"></div><div style="left:47.90px;top:211.75px;width:267.10px;height:17.00px;background:linear-gradient(90deg,#0000dd 0.00px,#0000dd 0.75px,#25002b 1.00px,#25002b 11.00px,#1c0020 11.25px,#1c0020 40.00px,#25002b 40.25px,#25002b 43.25px,#2f0035 43.50px,#2f0035 46.25px,#380040 46.50px,#380040 48.75px,#41004b 49.00px,#41004b 50.25px,#4b0055 50.50px,#4b0055 52.00px,#540060 52.25px,#540060 53.25px,#7a008b 53.50px,#820093 53.75px,#820093 61.00px,#78009b 61.25px,#0000b9 61.50px,#0000d1 64.00px,#0000dd 65.25px,#0013dd 65.50px,#0025dd 66.00px,#0038dd 66.25px,#0054dd 67.00px,#0054dd 67.25px,#0067dd 67.75px,#0067dd 68.00px,#0078dd 68.50px,#008add 71.50px,#009adb 76.00px,#009cd3 79.00px,#009fcb 81.00px,#009fcb 81.25px,#00a7b3 81.75px,#00a7b3 85.50px,#00a8af 86.50px,#00a8af 89.50px,#00aaab 90.50px,#00aaa0 114.00px,#00aa98 124.00px,#00aa88 130.25px,#00aa88 130.50px,#00a97d 130.75px,#00a97d 131.75px,#00a773 132.00px,#00a773 133.00px,#00a668 133.25px,#00a668 133.75px,#00a55d 134.00px,#00a248 134.25px,#00a13d 134.50px,#00a13d 135.00px,#009f33 135.25px,#009f33 135.75px,#009e28 136.00px,#009e28 138.75px,#009d1d 139.00px,#009d1d 141.75px,#009e28 142.00px,#009e28 142.25px,#009f33 142.50px,#009f33 142.75px,#00a13d 143.00px,#00a55d 143.25px,#00a55d 143.50px,#00a668 143.75px,#00a668 144.00px,#00a773 144.25px,#00a773 144.50px,#00aa88 145.00px,#00aa95 147.50px,#00aaa5 147.75px,#00aaab 148.25px,#00a8af 151.50px,#00a7b3 152.50px,#00a7b3 153.75px,#00a6b7 154.75px,#00a6b7 156.00px,#00a4bb 157.00px,#00a4bb 158.25px,#00a3bf 159.25px,#00a3bf 159.50px,#009cd3 160.00px,#009bd7 162.75px,#009adb 163.75px,#0098dd 165.50px,#0085dd 165.75px,#0078dd 168.00px,#0070dd 168.25px,#0070dd 168.50px,#0067dd 168.75px,#0067dd 169.00px,#005ddd 169.25px,#001cdd 169.50px,#0013dd 169.75px,#0013dd 171.25px,#0009dd 171.50px,#0009dd 173.75px,#0000dd 174.00px,#0000dd 176.25px,#0000d9 177.25px,#0000d9 178.75px,#0000d5 179.75px,#0000d5 181.00px,#0000d1 182.00px,#0000bd 187.00px,#0300aa 187.25px,#0300aa 187.50px,#0d00a8 187.75px,#0d00a8 189.00px,#1800a7 189.25px,#1800a7 190.25px,#2300a6 190.50px,#2300a6 191.50px,#2d00a4 191.75px,#2d00a4 192.75px,#3800a3 193.00px,#3800a3 194.25px,#4300a2 194.50px,#4300a2 196.00px,#4d00a0 196.25px,#4d00a0 197.75px,#58009f 198.00px,#58009f 198.25px,#2300a6 198.50px,#2300a6 199.25px,#009fcb 199.50px,#009fcb 201.00px,#0000dd 201.25px,#0000dd 203.00px,#002fdd 203.25px,#002fdd 205.75px,#007ddd 206.00px,#007ddd 208.25px,#00a7b3 208.50px,#00a7b3 210.50px,#0000dd 210.75px,#0000dd 212.50px,#009fcb 212.75px,#009fcb 214.50px,#0000d1 214.75px,#0000d1 217.25px,#2300a6 217.50px,#2300a6 220.00px,#820093 220.25px,#820093 228.50px,#0000dd 228.75px,#0000dd 230.75px,#810092 231.00px,#7e008f 236.25px,#770088 237.00px,#700080 237.25px,#700080 238.75px,#670075 239.00px,#670075 240.50px,#5d006b 240.75px,#5d006b 242.25px,#540060 242.50px,#540060 243.25px,#4b0055 243.50px,#4b0055 244.50px,#41004b 244.75px,#41004b 245.50px,#380040 245.75px,#380040 246.50px,#2f0035 246.75px,#2f0035 247.75px,#25002b 248.00px,#25002b 249.00px,#1c0020 249.25px,#1c0020 250.00px,#130015 250.25px,#130015 251.50px,#09000b 251.75px,#09000b 253.00px,#000000 253.25px,#000000 267.00px)"></div><div style="left:47.90px;top:228.45px;width:267.10px;height:17.00px;background:linear-gradient(90deg,#0000dd 0.00px,#0000dd 0.75px,#25002b 1.00px,#25002b 11.00px,#1c0020 11.25px,#1c0020 40.00px,#25002b 40.25px,#25002b 43.25px,#2f0035 43.50px,#2f0035 46.25px,#380040 46.50px,#380040 48.75px,#41004b 49.00px,#41004b 50.25px,#4b0055 50.50px,#4b0055 52.00px,#540060 52.25px,#540060 53.25px,#7a008b 53.50px,#820093 53.75px,#820093 61.00px,#78009b 61.25px,#0000b9 61.50px,#0000d1 64.00px,#0000dd 65.25px,#0013dd 65.50px,#0025dd 66.00px,#0038dd 66.25px,#0054dd 67.00px,#0054dd 67.25px,#0067dd 67.75px,#0067dd 68.00px,#0078dd 68.50px,#008add 71.50px,#009adb 76.00px,#009cd3 79.00px,#009fcb 81.00px,#009fcb 81.25px,#00a7b3 81.75px,#00a7b3 85.50px,#00a8af 86.50px,#00a8af 89.50px,#00aaab 90.50px,#00aaa0 114.00px,#00aa98 124.00px,#00aa88 130.25px,#00aa88 130.50px,#00a97d 130.75px,#00a97d 131.75px,#00a773 132.00px,#00a773 133.00px,#00a668 133.25px,#00a668 133.75px,#00a55d 134.00px,#00a55d 134.50px,#00a353 134.75px,#00a353 135.25px,#00a248 135.50px,#00a248 136.75px,#00a13d 137.00px,#00a13d 141.00px,#009f33 141.25px,#009f33 141.50px,#00a13d 141.75px,#00a13d 142.00px,#00a248 142.25px,#00a248 142.50px,#00a353 142.75px,#00a353 143.00px,#00a55d 143.25px,#00a55d 143.50px,#00a668 143.75px,#00a668 144.00px,#00a773 144.25px,#00a773 144.50px,#00aa88 145.00px,#00aa95 147.50px,#00aaa5 147.75px,#00aaab 148.25px,#00a8af 151.50px,#00a7b3 152.50px,#00a7b3 153.75px,#00a6b7 154.75px,#00a6b7 156.00px,#00a4bb 157.00px,#00a4bb 158.25px,#00a3bf 159.25px,#00a3bf 159.50px,#009cd3 160.00px,#009bd7 162.75px,#009adb 163.75px,#0098dd 165.50px,#0085dd 165.75px,#0078dd 168.00px,#0070dd 168.25px,#0070dd 168.50px,#0067dd 168.75px,#0067dd 169.00px,#005ddd 169.25px,#001cdd 169.50px,#0013dd 169.75px,#0013dd 171.25px,#0009dd 171.50px,#0009dd 173.75px,#0000dd 174.00px,#0000dd 176.25px,#0000d9 177.25px,#0000d9 178.75px,#0000d5 179.75px,#0000d5 181.00px,#0000d1 182.00px,#0000bd 187.00px,#0300aa 187.25px,#0300aa 187.50px,#0d00a8 187.75px,#0d00a8 189.00px,#1800a7 189.25px,#1800a7 190.25px,#2300a6 190.50px,#2300a6 191.50px,#2d00a4 191.75px,#2d00a4 192.75px,#3800a3 193.00px,#3800a3 194.25px,#4300a2 194.50px,#4300a2 196.00px,#4d00a0 196.25px,#4d00a0 197.75px,#58009f 198.00px,#58009f 198.25px,#2300a6 198.50px,#2300a6 199.25px,#009fcb 199.50px,#009fcb 201.00px,#0000dd 201.25px,#0000dd 203.00px,#002fdd 203.25px,#002fdd 205.75px,#007ddd 206.00px,#007ddd 208.25px,#00a7b3 208.50px,#00a7b3 210.50px,#0000dd 210.75px,#0000dd 212.50px,#009fcb 212.75px,#009fcb 214.50px,#0000d1 214.75px,#0000d1 217.25px,#2300a6 217.50px,#2300a6 220.00px,#820093 220.25px,#820093 228.50px,#0000dd 228.75px,#0000dd 230.75px,#810092 231.00px,#7e008f 236.25px,#770088 237.00px,#700080 237.25px,#700080 238.75px,#670075 239.00px,#670075 240.50px,#5d006b 240.75px,#5d006b 242.25px,#540060 242.50px,#540060 243.25px,#4b0055 243.50px,#4b0055 244.50px,#41004b 244.75px,#41004b 245.50px,#380040 245.75px,#380040 246.50px,#2f0035 246.75px,#2f0035 247.75px,#25002b 248.00px,#25002b 249.00px,#1c0020 249.25px,#1c0020 250.00px,#130015 250.25px,#130015 251.50px,#09000b 251.75px,#09000b 253.00px,#000000 253.25px,#000000 267.00px)"></div><div style="left:47.90px;top:245.16px;width:267.10px;height:17.00px;background:linear-gradient(90deg,#0078dd 0.00px,#0078dd 0.75px,#25002b 1.00px,#25002b 11.00px,#1c0020 11.25px,#1c0020 40.00px,#25002b 40.25px,#25002b 43.25px,#2f0035 43.50px,#2f0035 46.25px,#380040 46.50px,#380040 48.75px,#41004b 49.00px,#41004b 50.25px,#4b0055 50.50px,#4b0055 52.00px,#540060 52.25px,#540060 53.25px,#7a008b 53.50px,#820093 53.75px,#820093 61.00px,#78009b 61.25px,#0000b9 61.50px,#0000d1 64.00px,#0000dd 65.25px,#0013dd 65.50px,#0025dd 66.00px,#0038dd 66.25px,#0054dd 67.00px,#0054dd 67.25px,#0067dd 67.75px,#0067dd 68.00px,#0078dd 68.50px,#008add 71.50px,#009adb 76.00px,#009cd3 79.00px,#009fcb 81.00px,#009fcb 81.25px,#00a7b3 81.75px,#00a7b3 85.50px,#00a8af 86.50px,#00a8af 89.50px,#00aaab 90.50px,#00aaa0 114.00px,#00aa98 124.00px,#00aa88 130.25px,#00aa88 130.50px,#00a97d 130.75px,#00a97d 131.75px,#00a773 132.00px,#00a773 133.00px,#00a668 133.25px,#00a668 133.75px,#00a55d 134.00px,#00a55d 134.50px,#00a353 134.75px,#00a353 135.25px,#00a248 135.50px,#00a248 136.75px,#00a13d 137.00px,#00a13d 141.00px,#009f33 141.25px,#009f33 141.50px,#00a13d 141.75px,#00a13d 142.00px,#00a248 142.25px,#00a248 142.50px,#00a353 142.75px,#00a353 143.00px,#00a55d 143.25px,#00a55d 143.50px,#00a668 143.75px,#00a668 144.00px,#00a773 144.25px,#00a773 144.50px,#00aa88 145.00px,#00aa95 147.50px,#00aaa5 147.75px,#00aaab 148.25px,#00a8af 151.50px,#00a7b3 152.50px,#00a7b3 153.75px,#00a6b7 154.75px,#00a6b7 156.00px,#00a4bb 157.00px,#00a4bb 158.25px,#00a3bf 159.25px,#00a3bf 159.50px,#009cd3 160.00px,#009bd7 162.75px,#009adb 163.75px,#0098dd 165.50px,#0085dd 165.75px,#0078dd 168.00px,#0070dd 168.25px,#0070dd 168.50px,#0067dd 168.75px,#0067dd 169.00px,#005ddd 169.25px,#001cdd 169.50px,#0013dd 169.75px,#0013dd 171.25px,#0009dd 171.50px,#0009dd 173.75px,#0000dd 174.00px,#0000dd 176.25px,#0000d9 177.25px,#0000d9 178.75px,#0000d5 179.75px,#0000d5 181.00px,#0000d1 182.00px,#0000bd 187.00px,#0300aa 187.25px,#0300aa 187.50px,#0d00a8 187.75px,#0d00a8 189.00px,#1800a7 189.25px,#1800a7 190.25px,#2300a6 190.50px,#2300a6 191.50px,#2d00a4 191.75px,#2d00a4 192.75px,#3800a3 193.00px,#3800a3 194.25px,#4300a2 194.50px,#4300a2 196.00px,#4d00a0 196.25px,#4d00a0 197.75px,#58009f 198.00px,#58009f 198.25px,#2300a6 198.50px,#2300a6 199.25px,#009fcb 199.50px,#009fcb 201.00px,#0000dd 201.25px,#0000dd 203.00px,#002fdd 203.25px,#002fdd 205.75px,#007ddd 206.00px,#007ddd 208.25px,#00a7b3 208.50px,#00a7b3 210.50px,#0000dd 210.75px,#0000dd 212.50px,#009fcb 212.75px,#009fcb 214.50px,#0000d1 214.75px,#0000d1 217.25px,#2300a6 217.50px,#2300a6 220.00px,#820093 220.25px,#820093 228.50px,#0092dd 228.75px,#0092dd 230.75px,#810092 231.00px,#7e008f 236.25px,#770088 237.00px,#700080 237.25px,#700080 238.75px,#670075 239.00px,#670075 240.50px,#5d006b 240.75px,#5d006b 242.25px,#540060 242.50px,#540060 243.25px,#4b0055 243.50px,#4b0055 244.50px,#41004b 244.75px,#41004b 245.50px,#380040 245.75px,#380040 246.50px,#2f0035 246.75px,#2f0035 247.75px,#25002b 248.00px,#25002b 249.00px,#1c0020 249.25px,#1c0020 250.00px,#130015 250.25px,#130015 251.50px,#09000b 251.75px,#09000b 253.00px,#000000 253.25px,#000000 267.00px)"></div><div style="left:47.90px;top:261.86px;width:267.10px;height:17.00px;background:linear-gradient(90deg,#0098dd 0.00px,#0098dd 0.75px,#25002b 1.00px,#25002b 11.00px,#1c0020 11.25px,#1c0020 40.00px,#25002b 40.25px,#25002b 43.25px,#2f0035 43.50px,#2f0035 46.25px,#380040 46.50px,#380040 48.75px,#41004b 49.00px,#41004b 50.25px,#4b0055 50.50px,#4b0055 52.00px,#540060 52.25px,#540060 53.25px,#7a008b 53.50px,#820093 53.75px,#820093 61.00px,#78009b 61.25px,#0000b9 61.50px,#0000d1 64.25px,#0000dd 65.50px,#0009dd 65.75px,#001cdd 66.00px,#0054dd 67.50px,#0054dd 67.75px,#0067dd 68.25px,#0067dd 68.50px,#0078dd 69.00px,#0088dd 71.75px,#009adb 76.75px,#009bd7 78.75px,#009cd3 79.75px,#009fcb 82.00px,#009fcb 82.25px,#00a7b3 82.75px,#00a7b3 86.25px,#00a8af 87.25px,#00a8af 90.25px,#00aaab 91.25px,#00aaa0 114.00px,#00aa98 124.00px,#00aa88 130.25px,#00aa88 130.50px,#00a97d 130.75px,#00a97d 131.75px,#00a773 132.00px,#00a773 133.00px,#00a668 133.25px,#00a668 133.75px,#00a55d 134.00px,#009f33 134.25px,#009f33 134.75px,#009e28 135.00px,#009e28 135.50px,#009d1d 135.75px,#009d1d 137.50px,#009b13 137.75px,#009b13 141.75px,#009d1d 142.00px,#009d1d 142.25px,#009e28 142.50px,#009e28 142.75px,#009f33 143.00px,#00a55d 143.25px,#00a55d 143.50px,#00a668 143.75px,#00a668 144.00px,#00a773 144.25px,#00a773 144.50px,#00aa88 145.00px,#00aa95 147.50px,#00aaa5 147.75px,#00aaab 148.25px,#00a8af 151.50px,#00a7b3 152.50px,#00a7b3 153.75px,#00a6b7 154.75px,#00a6b7 156.00px,#00a4bb 157.00px,#00a4bb 158.25px,#00a3bf 159.25px,#00a3bf 159.50px,#009cd3 160.00px,#009bd7 162.75px,#009adb 163.75px,#0098dd 165.50px,#0085dd 165.75px,#0078dd 168.00px,#0070dd 168.25px,#0070dd 168.50px,#0067dd 168.75px,#0067dd 169.00px,#005ddd 169.25px,#001cdd 169.50px,#0013dd 169.75px,#0013dd 171.25px,#0009dd 171.50px,#0009dd 173.75px,#0000dd 174.00px,#0000dd 176.25px,#0000d9 177.25px,#0000d9 178.75px,#0000d5 179.75px,#0000d5 181.00px,#0000d1 182.00px,#0000bd 187.00px,#0300aa 187.25px,#0300aa 187.50px,#0d00a8 187.75px,#0d00a8 189.00px,#1800a7 189.25px,#1800a7 190.25px,#2300a6 190.50px,#2300a6 191.50px,#2d00a4 191.75px,#2d00a4 192.75px,#3800a3 193.00px,#3800a3 194.25px,#4300a2 194.50px,#4300a2 196.00px,#4d00a0 196.25px,#4d00a0 197.75px,#58009f 198.00px,#58009f 198.25px,#2300a6 198.50px,#2300a6 199.25px,#009fcb 199.50px,#009fcb 201.00px,#0000dd 201.25px,#0000dd 203.00px,#002fdd 203.25px,#002fdd 205.75px,#007ddd 206.00px,#007ddd 208.25px,#00a7b3 208.50px,#00a7b3 210.50px,#0000dd 210.75px,#0000dd 212.50px,#009fcb 212.75px,#009fcb 214.50px,#0000d1 214.75px,#0000d1 217.25px,#2300a6 217.50px,#2300a6 220.00px,#820093 220.25px,#820093 228.50px,#0000dd 228.75px,#0000dd 230.75px,#810092 231.00px,#7e008f 236.25px,#770088 237.00px,#700080 237.25px,#700080 238.75px,#670075 239.00px,#670075 240.50px,#5d006b 240.75px,#5d006b 242.25px,#540060 242.50px,#540060 243.25px,#4b0055 243.50px,#4b0055 244.50px,#41004b 244.75px,#41004b 245.50px,#380040 245.75px,#380040 246.50px,#2f0035 246.75px,#2f0035 247.75px,#25002b 248.00px,#25002b 249.00px,#1c0020 249.25px,#1c0020 250.00px,#130015 250.25px,#130015 251.50px,#09000b 251.75px,#09000b 253.00px,#000000 253.25px,#000000 267.00px)"></div><div style="left:47.90px;top:278.57px;width:267.10px;height:17.00px;background:linear-gradient(90deg,#0098dd 0.00px,#0098dd 0.75px,#25002b 1.00px,#25002b 11.00px,#1c0020 11.25px,#1c0020 40.00px,#25002b 40.25px,#25002b 43.25px,#2f0035 43.50px,#2f0035 46.25px,#380040 46.50px,#380040 48.75px,#41004b 49.00px,#41004b 50.25px,#4b0055 50.50px,#4b0055 52.00px,#540060 52.25px,#540060 53.25px,#7a008b 53.50px,#820093 53.75px,#820093 61.00px,#78009b 61.25px,#0000b9 61.50px,#0000d1 65.25px,#0000d9 66.25px,#0000dd 66.75px,#0041dd 68.50px,#0041dd 68.75px,#0054dd 69.25px,#0054dd 69.50px,#005ddd 69.75px,#005ddd 70.00px,#0067dd 70.25px,#0067dd 70.50px,#0070dd 70.75px,#0070dd 71.00px,#007add 71.50px,#0088dd 74.50px,#009adb 80.00px,#009ecf 84.00px,#00a0c7 85.25px,#00a7b3 85.50px,#00a7b3 88.75px,#00a8af 89.75px,#00a8af 92.25px,#00aaab 93.25px,#00aa98 124.00px,#00aa88 130.25px,#00aa88 130.50px,#00a97d 130.75px,#00a97d 131.75px,#00a773 132.00px,#00a773 133.00px,#00a668 133.25px,#00a668 133.75px,#00a55d 134.00px,#00a55d 134.50px,#00a353 134.75px,#00a353 135.25px,#00a248 135.50px,#00a248 136.75px,#00a13d 137.00px,#00a13d 141.00px,#009f33 141.25px,#009f33 141.50px,#00a13d 141.75px,#00a13d 142.00px,#00a248 142.25px,#00a248 142.50px,#00a353 142.75px,#00a353 143.00px,#00a55d 143.25px,#00a55d 143.50px,#00a668 143.75px,#00a668 144.00px,#00a773 144.25px,#00a773 144.50px,#00aa88 145.00px,#00aa95 147.50px,#00aaa5 147.75px,#00aaab 148.25px,#00a8af 151.50px,#00a7b3 152.50px,#00a7b3 153.75px,#00a6b7 154.75px,#00a6b7 156.00px,#00a4bb 157.00px,#00a4bb 158.25px,#00a3bf 159.25px,#00a3bf 159.50px,#009cd3 160.00px,#009bd7 162.75px,#009adb 163.75px,#0098dd 165.50px,#0085dd 165.75px,#0078dd 168.00px,#0070dd 168.25px,#0070dd 168.50px,#0067dd 168.75px,#0067dd 169.00px,#005ddd 169.25px,#001cdd 169.50px,#0013dd 169.75px,#0013dd 171.25px,#0009dd 171.50px,#0009dd 173.75px,#0000dd 174.00px,#0000dd 176.25px,#0000d9 177.25px,#0000d9 178.75px,#0000d5 179.75px,#0000d5 181.00px,#0000d1 182.00px,#0000bd 187.00px,#0300aa 187.25px,#0300aa 187.50px,#0d00a8 187.75px,#0d00a8 189.00px,#1800a7 189.25px,#1800a7 190.25px,#2300a6 190.50px,#2300a6 191.50px,#2d00a4 191.75px,#2d00a4 192.75px,#3800a3 193.00px,#3800a3 194.25px,#4300a2 194.50px,#4300a2 196.00px,#4d00a0 196.25px,#4d00a0 197.75px,#58009f 198.00px,#58009f 198.25px,#2300a6 198.50px,#2300a6 199.25px,#009fcb 199.50px,#009fcb 201.00px,#0000dd 201.25px,#0000dd 203.00px,#002fdd 203.25px,#002fdd 205.75px,#007ddd 206.00px,#007ddd 208.25px,#00a7b3 208.50px,#00a7b3 210.50px,#0000dd 210.75px,#0000dd 212.50px,#009fcb 212.75px,#009fcb 214.50px,#0000d1 214.75px,#0000d1 217.25px,#2300a6 217.50px,#2300a6 220.00px,#820093 220.25px,#820093 228.50px,#0000dd 228.75px,#0000dd 230.75px,#810092 231.00px,#7e008f 236.25px,#770088 237.00px,#700080 237.25px,#700080 238.75px,#670075 239.00px,#670075 240.50px,#5d006b 240.75px,#5d006b 242.25px,#540060 242.50px,#540060 243.25px,#4b0055 243.50px,#4b0055 244.50px,#41004b 244.75px,#41004b 245.50px,#380040 245.75px,#380040 246.50px,#2f0035 246.75px,#2f0035 247.75px,#25002b 248.00px,#25002b 249.00px,#1c0020 249.25px,#1c0020 250.00px,#130015 250.25px,#130015 251.50px,#09000b 251.75px,#09000b 253.00px,#000000 253.25px,#000000 267.00px)"></div><div style="left:47.90px;top:295.27px;width:267.10px;height:17.00px;background:linear-gradient(90deg,#00aaab 0.00px,#00aaab 0.75px,#25002b 1.00px,#25002b 11.00px,#1c0020 11.25px,#1c0020 40.00px,#25002b 40.25px,#25002b 43.25px,#2f0035 43.50px,#2f0035 46.25px,#380040 46.50px,#380040 48.75px,#41004b 49.00px,#41004b 50.25px,#4b0055 50.50px,#4b0055 52.00px,#540060 52.25px,#540060 53.25px,#7a008b 53.50px,#820093 53.75px,#820093 61.00px,#78009b 61.25px,#0000b9 61.50px,#0000d5 64.00px,#0000dd 64.75px,#0013dd 65.00px,#001cdd 65.25px,#002fdd 65.50px,#0038dd 65.75px,#004bdd 66.00px,#004bdd 66.25px,#0078dd 67.50px,#0085dd 69.25px,#009adb 74.50px,#009cd3 76.75px,#009fcb 79.25px,#00a2c3 79.50px,#00a7b3 79.75px,#00a7b3 83.50px,#00a8af 84.50px,#00a8af 87.75px,#00aaab 88.75px,#00aaa0 114.00px,#00aa98 124.00px,#00aa88 130.25px,#00aa88 130.50px,#00a97d 130.75px,#00a97d 131.75px,#00a773 132.00px,#00a773 133.00px,#00a668 133.25px,#00a668 133.75px,#00a55d 134.00px,#00a248 134.25px,#00a13d 134.50px,#00a13d 135.00px,#009f33 135.25px,#009f33 135.75px,#009e28 136.00px,#009e28 138.75px,#009d1d 139.00px,#009d1d 141.75px,#009e28 142.00px,#009e28 142.25px,#009f33 142.50px,#009f33 142.75px,#00a13d 143.00px,#00a55d 143.25px,#00a55d 143.50px,#00a668 143.75px,#00a668 144.00px,#00a773 144.25px,#00a773 144.50px,#00aa88 145.00px,#00aa95 147.50px,#00aaa5 147.75px,#00aaab 148.25px,#00a8af 151.50px,#00a7b3 152.50px,#00a7b3 153.75px,#00a6b7 154.75px,#00a6b7 156.00px,#00a4bb 157.00px,#00a4bb 158.25px,#00a3bf 159.25px,#00a3bf 159.50px,#009cd3 160.00px,#009bd7 162.75px,#009adb 163.75px,#0098dd 165.50px,#0085dd 165.75px,#0078dd 168.00px,#0070dd 168.25px,#0070dd 168.50px,#0067dd 168.75px,#0067dd 169.00px,#005ddd 169.25px,#001cdd 169.50px,#0013dd 169.75px,#0013dd 171.25px,#0009dd 171.50px,#0009dd 173.75px,#0000dd 174.00px,#0000dd 176.25px,#0000d9 177.25px,#0000d9 178.75px,#0000d5 179.75px,#0000d5 181.00px,#0000d1 182.00px,#0000bd 187.00px,#0300aa 187.25px,#0300aa 187.50px,#0d00a8 187.75px,#0d00a8 189.00px,#1800a7 189.25px,#1800a7 190.25px,#2300a6 190.50px,#2300a6 191.50px,#2d00a4 191.75px,#2d00a4 192.75px,#3800a3 193.00px,#3800a3 194.25px,#4300a2 194.50px,#4300a2 196.00px,#4d00a0 196.25px,#4d00a0 197.75px,#58009f 198.00px,#58009f 198.25px,#2300a6 198.50px,#2300a6 199.25px,#009fcb 199.50px,#009fcb 201.00px,#0000dd 201.25px,#0000dd 203.00px,#002fdd 203.25px,#002fdd 205.75px,#007ddd 206.00px,#007ddd 208.25px,#00a7b3 208.50px,#00a7b3 210.50px,#0000dd 210.75px,#0000dd 212.50px,#009fcb 212.75px,#009fcb 214.50px,#0000d1 214.75px,#0000d1 217.25px,#2300a6 217.50px,#2300a6 220.00px,#820093 220.25px,#820093 228.50px,#0092dd 228.75px,#0092dd 230.75px,#810092 231.00px,#7e008f 236.25px,#770088 237.00px,#700080 237.25px,#700080 238.75px,#670075 239.00px,#670075 240.50px,#5d006b 240.75px,#5d006b 242.25px,#540060 242.50px,#540060 243.25px,#4b0055 243.50px,#4b0055 244.50px,#41004b 244.75px,#41004b 245.50px,#380040 245.75px,#380040 246.50px,#2f0035 246.75px,#2f0035 247.75px,#25002b 248.00px,#25002b 249.00px,#1c0020 249.25px,#1c0020 250.00px,#130015 250.25px,#130015 251.50px,#09000b 251.75px,#09000b 253.00px,#000000 253.25px,#000000 267.00px)"></div><div style="left:47.90px;top:311.98px;width:267.10px;height:17.00px;background:linear-gradient(90deg,#009fcb 0.00px,#009fcb 0.75px,#25002b 1.00px,#25002b 11.00px,#1c0020 11.25px,#1c0020 40.00px,#25002b 40.25px,#25002b 43.25px,#2f0035 43.50px,#2f0035 46.25px,#380040 46.50px,#380040 48.75px,#41004b 49.00px,#41004b 50.25px,#4b0055 50.50px,#4b0055 52.00px,#540060 52.25px,#540060 53.25px,#7a008b 53.50px,#820093 53.75px,#820093 61.00px,#78009b 61.25px,#0000b9 61.50px,#0000d1 64.25px,#0000dd 65.50px,#0009dd 65.75px,#001cdd 66.00px,#0054dd 67.50px,#0054dd 67.75px,#0067dd 68.25px,#0067dd 68.50px,#0078dd 69.00px,#0088dd 71.75px,#009adb 76.75px,#009bd7 78.75px,#009cd3 79.75px,#009fcb 82.00px,#009fcb 82.25px,#00a7b3 82.75px,#00a7b3 86.25px,#00a8af 87.25px,#00a8af 90.25px,#00aaab 91.25px,#00aaa0 114.00px,#00aa98 124.00px,#00aa88 130.25px,#00aa88 130.50px,#00a97d 130.75px,#00a97d 131.75px,#00a773 132.00px,#00a773 133.00px,#00a668 133.25px,#00a668 133.75px,#00a55d 134.00px,#009e28 134.25px,#009e28 134.50px,#009d1d 134.75px,#009d1d 135.25px,#009b13 135.50px,#009b13 136.25px,#009a08 136.50px,#009a08 140.50px,#009a00 140.75px,#009a00 141.50px,#009a08 141.75px,#009a08 142.00px,#009b13 142.25px,#009b13 142.50px,#009d1d 142.75px,#009d1d 143.00px,#00a55d 143.25px,#00a55d 143.50px,#00a668 143.75px,#00a668 144.00px,#00a773 144.25px,#00a773 144.50px,#00aa88 145.00px,#00aa95 147.50px,#00aaa5 147.75px,#00aaab 148.25px,#00a8af 151.50px,#00a7b3 152.50px,#00a7b3 153.75px,#00a6b7 154.75px,#00a6b7 156.00px,#00a4bb 157.00px,#00a4bb 158.25px,#00a3bf 159.25px,#00a3bf 159.50px,#009cd3 160.00px,#009bd7 162.75px,#009adb 163.75px,#0098dd 165.50px,#0085dd 165.75px,#0078dd 168.00px,#0070dd 168.25px,#0070dd 168.50px,#0067dd 168.75px,#0067dd 169.00px,#005ddd 169.25px,#001cdd 169.50px,#0013dd 169.75px,#0013dd 171.25px,#0009dd 171.50px,#0009dd 173.75px,#0000dd 174.00px,#0000dd 176.25px,#0000d9 177.25px,#0000d9 178.75px,#0000d5 179.75px,#0000d5 181.00px,#0000d1 182.00px,#0000bd 187.00px,#0300aa 187.25px,#0300aa 187.50px,#0d00a8 187.75px,#0d00a8 189.00px,#1800a7 189.25px,#1800a7 190.25px,#2300a6 190.50px,#2300a6 191.50px,#2d00a4 191.75px,#2d00a4 192.75px,#3800a3 193.00px,#3800a3 194.25px,#4300a2 194.50px,#4300a2 196.00px,#4d00a0 196.25px,#4d00a0 197.75px,#58009f 198.00px,#58009f 198.25px,#2300a6 198.50px,#2300a6 199.25px,#009fcb 199.50px,#009fcb 201.00px,#0000dd 201.25px,#0000dd 203.00px,#002fdd 203.25px,#002fdd 205.75px,#007ddd 206.00px,#007ddd 208.25px,#00a7b3 208.50px,#00a7b3 210.50px,#0000dd 210.75px,#0000dd 212.50px,#009fcb 212.75px,#009fcb 214.50px,#0000d1 214.75px,#0000d1 217.25px,#2300a6 217.50px,#2300a6 220.00px,#820093 220.25px,#820093 228.50px,#0000dd 228.75px,#0000dd 230.75px,#810092 231.00px,#7e008f 236.25px,#770088 237.00px,#700080 237.25px,#700080 238.75px,#670075 239.00px,#670075 240.50px,#5d006b 240.75px,#5d006b 242.25px,#540060 242.50px,#540060 243.25px,#4b0055 243.50px,#4b0055 244.50px,#41004b 244.75px,#41004b 245.50px,#380040 245.75px,#380040 246.50px,#2f0035 246.75px,#2f0035 247.75px,#25002b 248.00px,#25002b 249.00px,#1c0020 249.25px,#1c0020 250.00px,#130015 250.25px,#130015 251.50px,#09000b 251.75px,#09000b 253.00px,#000000 253.25px,#000000 267.00px)"></div><div style="left:47.90px;top:328.68px;width:267.10px;height:17.00px;background:linear-gradient(90deg,#0098dd 0.00px,#0098dd 0.75px,#25002b 1.00px,#25002b 11.00px,#1c0020 11.25px,#1c0020 40.00px,#25002b 40.25px,#25002b 43.25px,#2f0035 43.50px,#2f0035 46.25px,#380040 46.50px,#380040 48.75px,#41004b 49.00px,#41004b 50.25px,#4b0055 50.50px,#4b0055 52.00px,#540060 52.25px,#540060 53.25px,#7a008b 53.50px,#820093 53.75px,#820093 61.00px,#78009b 61.25px,#0000b9 61.50px,#0000d1 65.25px,#0000d9 66.25px,#0000dd 66.75px,#0041dd 68.50px,#0041dd 68.75px,#0054dd 69.25px,#0054dd 69.50px,#005ddd 69.75px,#005ddd 70.00px,#0067dd 70.25px,#0067dd 70.50px,#0070dd 70.75px,#0070dd 71.00px,#007add 71.50px,#0088dd 74.50px,#009adb 80.00px,#009ecf 84.00px,#00a0c7 85.25px,#00a7b3 85.50px,#00a7b3 88.75px,#00a8af 89.75px,#00a8af 92.25px,#00aaab 93.25px,#00aa98 124.00px,#00aa88 130.25px,#00aa88 130.50px,#00a97d 130.75px,#00a97d 131.75px,#00a773 132.00px,#00a773 133.00px,#00a668 133.25px,#00a668 133.75px,#00a55d 134.00px,#00a55d 134.50px,#00a353 134.75px,#00a353 135.25px,#00a248 135.50px,#00a248 136.75px,#00a13d 137.00px,#00a13d 141.00px,#009f33 141.25px,#009f33 141.50px,#00a13d 141.75px,#00a13d 142.00px,#00a248 142.25px,#00a248 142.50px,#00a353 142.75px,#00a353 143.00px,#00a55d 143.25px,#00a55d 143.50px,#00a668 143.75px,#00a668 144.00px,#00a773 144.25px,#00a773 144.50px,#00aa88 145.00px,#00aa95 147.50px,#00aaa5 147.75px,#00aaab 148.25px,#00a8af 151.50px,#00a7b3 152.50px,#00a7b3 153.75px,#00a6b7 154.75px,#00a6b7 156.00px,#00a4bb 157.00px,#00a4bb 158.25px,#00a3bf 159.25px,#00a3bf 159.50px,#009cd3 160.00px,#009bd7 162.75px,#009adb 163.75px,#0098dd 165.50px,#0085dd 165.75px,#0078dd 168.00px,#0070dd 168.25px,#0070dd 168.50px,#0067dd 168.75px,#0067dd 169.00px,#005ddd 169.25px,#001cdd 169.50px,#0013dd 169.75px,#0013dd 171.25px,#0009dd 171.50px,#0009dd 173.75px,#0000dd 174.00px,#0000dd 176.25px,#0000d9 177.25px,#0000d9 178.75px,#0000d5 179.75px,#0000d5 181.00px,#0000d1 182.00px,#0000bd 187.00px,#0300aa 187.25px,#0300aa 187.50px,#0d00a8 187.75px,#0d00a8 189.00px,#1800a7 189.25px,#1800a7 190.25px,#2300a6 190.50px,#2300a6 191.50px,#2d00a4 191.75px,#2d00a4 192.75px,#3800a3 193.00px,#3800a3 194.25px,#4300a2 194.50px,#4300a2 196.00px,#4d00a0 196.25px,#4d00a0 197.75px,#58009f 198.00px,#58009f 198.25px,#2300a6 198.50px,#2300a6 199.25px,#009fcb 199.50px,#009fcb 201.00px,#0000dd 201.25px,#0000dd 203.00px,#002fdd 203.25px,#002fdd 205.75px,#007ddd 206.00px,#007ddd 208.25px,#00a7b3 208.50px,#00a7b3 210.50px,#0000dd 210.75px,#0000dd 212.50px,#009fcb 212.75px,#009fcb 214.50px,#0000d1 214.75px,#0000d1 217.25px,#2300a6 217.50px,#2300a6 220.00px,#820093 220.25px,#820093 228.50px,#0000dd 228.75px,#0000dd 230.75px,#810092 231.00px,#7e008f 236.25px,#770088 237.00px,#700080 237.25px,#700080 238.75px,#670075 239.00px,#670075 240.50px,#5d006b 240.75px,#5d006b 242.25px,#540060 242.50px,#540060 243.25px,#4b0055 243.50px,#4b0055 244.50px,#41004b 244.75px,#41004b 245.50px,#380040 245.75px,#380040 246.50px,#2f0035 246.75px,#2f0035 247.75px,#25002b 248.00px,#25002b 249.00px,#1c0020 249.25px,#1c0020 250.00px,#130015 250.25px,#130015 251.50px,#09000b 251.75px,#09000b 253.00px,#000000 253.25px,#000000 267.00px)"></div><div style="left:47.90px;top:345.39px;width:267.10px;height:17.00px;background:linear-gradient(90deg,#00aa88 0.00px,#00aa88 0.75px,#25002b 1.00px,#25002b 14.50px,#1c0020 14.75px,#1c0020 46.25px,#2f0035 46.75px,#2f0035 62.50px,#380040 62.75px,#380040 84.50px,#41004b 84.75px,#41004b 134.50px,#380040 134.75px,#380040 160.75px,#2f0035 161.00px,#2f0035 229.75px,#25002b 230.00px,#25002b 235.50px,#1c0020 235.75px,#1c0020 244.25px,#130015 244.50px,#130015 248.25px,#09000b 248.50px,#09000b 252.50px,#000000 252.75px,#000000 267.00px)"></div><div style="left:47.90px;top:362.09px;width:267.10px;height:17.00px;background:linear-gradient(90deg,#0098dd 0.00px,#0098dd 0.75px,#25002b 1.00px,#25002b 14.00px,#1c0020 14.25px,#1c0020 40.25px,#25002b 40.50px,#25002b 41.00px,#2f0035 41.25px,#2f0035 42.50px,#380040 42.75px,#380040 44.00px,#41004b 44.25px,#41004b 45.00px,#4b0055 45.25px,#4b0055 45.50px,#540060 45.75px,#540060 46.00px,#5d006b 46.25px,#5d006b 46.50px,#700080 47.00px,#700080 47.25px,#7f0090 47.50px,#820093 51.50px,#870098 51.75px,#3800a3 52.00px,#2300a6 52.25px,#0d00a8 52.75px,#0000c1 53.00px,#0000dd 53.25px,#0000dd 54.75px,#0078dd 55.00px,#0098dd 55.25px,#00a0c7 60.00px,#00a3bf 61.50px,#00a668 61.75px,#009a00 62.00px,#00e700 70.75px,#00ff00 72.25px,#00ff00 113.25px,#1dff00 113.75px,#1dff00 114.50px,#00ff00 115.00px,#00ef00 130.75px,#00e700 135.00px,#00b700 149.25px,#009a00 160.25px,#009a00 163.00px,#009a08 163.25px,#00a353 163.50px,#00a668 164.00px,#00a668 164.25px,#00aa88 165.00px,#00aaa8 169.25px,#00a8af 169.50px,#009fcb 169.75px,#009fcb 171.00px,#009ecf 172.00px,#009bd7 175.00px,#0095dd 178.00px,#0078dd 185.50px,#0070dd 185.75px,#0070dd 186.25px,#0067dd 186.50px,#0067dd 187.00px,#005ddd 187.25px,#005ddd 187.75px,#0054dd 188.00px,#0054dd 188.50px,#004bdd 188.75px,#004bdd 189.25px,#0041dd 189.50px,#0041dd 190.00px,#0038dd 190.25px,#0038dd 190.75px,#002fdd 191.00px,#002fdd 191.50px,#0025dd 191.75px,#0025dd 192.25px,#001cdd 192.50px,#001cdd 193.00px,#0013dd 193.25px,#0013dd 194.00px,#0009dd 194.25px,#0009dd 194.75px,#0000dd 195.00px,#0000dd 198.75px,#009fcb 199.00px,#009fcb 199.50px,#0000dd 199.75px,#0000dd 202.25px,#0085dd 202.50px,#0085dd 203.00px,#0000dd 203.25px,#0000dd 205.00px,#007ddd 205.25px,#007ddd 206.50px,#0000dd 206.75px,#0000dd 208.50px,#0098dd 208.75px,#0098dd 210.00px,#0000dd 210.25px,#0000dd 212.75px,#0098dd 213.00px,#0098dd 214.25px,#0000dd 214.50px,#0000dd 216.25px,#0300aa 216.50px,#0300aa 219.25px,#58009f 219.50px,#58009f 220.50px,#820093 220.75px,#810092 244.50px,#770088 245.00px,#670075 245.25px,#670075 245.50px,#5d006b 245.75px,#5d006b 246.25px,#540060 246.50px,#540060 247.00px,#4b0055 247.25px,#4b0055 248.00px,#41004b 248.25px,#41004b 248.75px,#1c0020 249.25px,#1c0020 250.50px,#130015 250.75px,#130015 252.00px,#09000b 252.25px,#09000b 253.00px,#000000 253.25px,#000000 267.00px)"></div><div style="left:47.90px;top:378.80px;width:267.10px;height:17.00px;background:linear-gradient(90deg,#0098dd 0.00px,#0098dd 0.75px,#25002b 1.00px,#25002b 14.00px,#1c0020 14.25px,#1c0020 40.25px,#25002b 40.50px,#25002b 41.00px,#2f0035 41.25px,#2f0035 42.50px,#380040 42.75px,#380040 44.00px,#41004b 44.25px,#41004b 45.00px,#4b0055 45.25px,#4b0055 45.50px,#540060 45.75px,#540060 46.00px,#5d006b 46.25px,#5d006b 46.50px,#700080 47.00px,#700080 47.25px,#7f0090 47.50px,#820093 51.50px,#870098 51.75px,#3800a3 52.00px,#2300a6 52.25px,#0d00a8 52.75px,#0000c1 53.00px,#0000dd 53.25px,#0000dd 54.75px,#0078dd 55.00px,#0098dd 55.25px,#00a0c7 60.00px,#00a3bf 61.50px,#00a668 61.75px,#009a00 62.00px,#00e700 70.75px,#00ff00 72.25px,#00ff00 113.25px,#1dff00 113.75px,#1dff00 114.50px,#00ff00 115.00px,#00ef00 130.75px,#00e700 135.00px,#00b700 149.25px,#009a00 160.25px,#009a00 163.00px,#009a08 163.25px,#00a353 163.50px,#00a668 164.00px,#00a668 164.25px,#00aa88 165.00px,#00aaa8 169.25px,#00a8af 169.50px,#009fcb 169.75px,#009fcb 171.00px,#009ecf 172.00px,#009bd7 175.00px,#0095dd 178.00px,#0078dd 185.50px,#0070dd 185.75px,#0070dd 186.25px,#0067dd 186.50px,#0067dd 187.00px,#005ddd 187.25px,#005ddd 187.75px,#0054dd 188.00px,#0054dd 188.50px,#004bdd 188.75px,#004bdd 189.25px,#0041dd 189.50px,#0041dd 190.00px,#0038dd 190.25px,#0038dd 190.75px,#002fdd 191.00px,#002fdd 191.50px,#0025dd 191.75px,#0025dd 192.25px,#001cdd 192.50px,#001cdd 193.00px,#0013dd 193.25px,#0013dd 194.00px,#0009dd 194.25px,#0009dd 194.75px,#0000dd 195.00px,#0000dd 198.75px,#009fcb 199.00px,#009fcb 199.50px,#0000dd 199.75px,#0000dd 202.25px,#0085dd 202.50px,#0085dd 203.00px,#0000dd 203.25px,#0000dd 205.00px,#007ddd 205.25px,#007ddd 206.50px,#0000dd 206.75px,#0000dd 208.50px,#0098dd 208.75px,#0098dd 210.00px,#0000dd 210.25px,#0000dd 212.75px,#0098dd 213.00px,#0098dd 214.25px,#0000dd 214.50px,#0000dd 216.25px,#0300aa 216.50px,#0300aa 219.25px,#58009f 219.50px,#58009f 220.50px,#820093 220.75px,#810092 244.50px,#770088 245.00px,#670075 245.25px,#670075 245.50px,#5d006b 245.75px,#5d006b 246.25px,#540060 246.50px,#540060 247.00px,#4b0055 247.25px,#4b0055 248.00px,#41004b 248.25px,#41004b 248.75px,#1c0020 249.25px,#1c0020 250.50px,#130015 250.75px,#130015 252.00px,#09000b 252.25px,#09000b 253.00px,#000000 253.25px,#000000 267.00px)"></div><div style="left:327.90px;top:28.00px;width:267.10px;height:17.00px;background:linear-gradient(90deg,#7a008b 0.00px,#7a008b 0.75px,#540060 1.00px,#1c0020 1.25px,#1c0020 43.00px,#41004b 43.25px,#4b0055 43.50px,#4b0055 44.00px,#540060 44.25px,#540060 44.75px,#5d006b 45.00px,#5d006b 45.50px,#670075 45.75px,#670075 46.00px,#700080 46.25px,#700080 46.75px,#7f0090 47.00px,#830094 51.50px,#3800a3 51.75px,#1800a7 52.00px,#0000b1 52.25px,#0000dd 53.25px,#0000dd 55.25px,#0078dd 55.50px,#009adb 55.75px,#009bd7 56.75px,#00a2c3 59.75px,#00a3bf 60.25px,#00a55d 60.50px,#00bc00 60.75px,#00fa00 71.50px,#00ff00 82.50px,#0fff00 82.75px,#0fff00 104.25px,#00ff00 104.50px,#00ff00 112.50px,#bcff00 112.75px,#bcff00 113.50px,#00ff00 113.75px,#00f700 136.75px,#00cf00 147.50px,#00c200 151.75px,#00a400 162.75px,#009a00 165.50px,#009a08 165.75px,#009a08 166.00px,#009b13 166.25px,#009b13 166.75px,#009d1d 167.00px,#009d1d 167.25px,#009e28 167.50px,#00a13d 167.75px,#00aa88 169.50px,#00aaa8 173.75px,#00a8af 174.00px,#009fcb 174.25px,#009fcb 175.25px,#009ecf 176.25px,#009adb 179.75px,#008add 186.75px,#0078dd 189.00px,#0070dd 189.25px,#0070dd 189.50px,#005ddd 190.00px,#005ddd 190.25px,#0054dd 190.50px,#0054dd 190.75px,#004bdd 191.00px,#004bdd 191.25px,#0041dd 191.50px,#0041dd 191.75px,#0038dd 192.00px,#0038dd 192.50px,#002fdd 192.75px,#002fdd 193.00px,#0025dd 193.25px,#0025dd 193.50px,#001cdd 193.75px,#001cdd 194.00px,#0013dd 194.25px,#0013dd 195.50px,#0009dd 195.75px,#0009dd 197.25px,#0000dd 197.50px,#0000dd 198.50px,#0098dd 198.75px,#0098dd 199.75px,#0000dd 200.00px,#0000dd 203.00px,#0098dd 203.25px,#0098dd 204.00px,#007ddd 204.25px,#007ddd 211.75px,#0000dd 212.00px,#0000dd 214.00px,#0098dd 214.25px,#0098dd 215.00px,#0000dd 215.25px,#0000dd 219.50px,#2300a6 219.75px,#2300a6 226.25px,#2d00a4 226.50px,#2d00a4 234.50px,#3800a3 234.75px,#3800a3 240.25px,#78009b 240.50px,#820093 240.75px,#7e008f 248.25px,#700080 248.75px,#700080 249.00px,#670075 249.25px,#670075 249.75px,#5d006b 250.00px,#5d006b 250.50px,#540060 250.75px,#540060 251.00px,#4b0055 251.25px,#4b0055 251.75px,#41004b 252.00px,#41004b 252.50px,#380040 252.75px,#380040 253.50px,#2f0035 253.75px,#2f0035 254.25px,#25002b 254.50px,#25002b 255.00px,#1c0020 255.25px,#1c0020 256.00px,#130015 256.25px,#130015 257.25px,#09000b 257.50px,#09000b 258.75px,#000000 259.00px,#000000 267.00px)"></div><div style="left:327.90px;top:44.70px;width:267.10px;height:17.00px;background:linear-gradient(90deg,#7a008b 0.00px,#7a008b 0.75px,#540060 1.00px,#1c0020 1.25px,#1c0020 43.00px,#41004b 43.25px,#4b0055 43.50px,#4b0055 44.00px,#540060 44.25px,#540060 44.75px,#5d006b 45.00px,#5d006b 45.50px,#670075 45.75px,#670075 46.00px,#700080 46.25px,#700080 46.75px,#7f0090 47.00px,#830094 51.50px,#3800a3 51.75px,#1800a7 52.00px,#0000b1 52.25px,#0000dd 53.25px,#0000dd 55.25px,#0078dd 55.50px,#009adb 55.75px,#009bd7 56.75px,#00a2c3 59.75px,#00a3bf 60.25px,#00a55d 60.50px,#00bc00 60.75px,#00fa00 71.50px,#00ff00 82.50px,#0fff00 82.75px,#0fff00 102.00px,#75ff00 102.25px,#75ff00 103.00px,#0fff00 103.25px,#0fff00 104.25px,#00ff00 104.50px,#00f700 136.75px,#00cf00 147.50px,#00c200 151.75px,#00a400 162.75px,#009a00 165.50px,#009a08 165.75px,#009a08 166.00px,#009b13 166.25px,#009b13 166.75px,#009d1d 167.00px,#009d1d 167.25px,#009e28 167.50px,#00a13d 167.75px,#00aa88 169.50px,#00aaa8 173.75px,#00a8af 174.00px,#009fcb 174.25px,#009fcb 175.25px,#009ecf 176.25px,#009adb 179.75px,#008add 186.75px,#0078dd 189.00px,#0070dd 189.25px,#0070dd 189.50px,#005ddd 190.00px,#005ddd 190.25px,#0054dd 190.50px,#0054dd 190.75px,#004bdd 191.00px,#004bdd 191.25px,#0041dd 191.50px,#0041dd 191.75px,#0038dd 192.00px,#0038dd 192.50px,#002fdd 192.75px,#002fdd 193.00px,#0025dd 193.25px,#0025dd 193.50px,#001cdd 193.75px,#001cdd 194.00px,#0013dd 194.25px,#0013dd 195.50px,#0009dd 195.75px,#0009dd 197.25px,#0000dd 197.50px,#0000dd 198.50px,#0098dd 198.75px,#0098dd 199.75px,#0000dd 200.00px,#0000dd 203.00px,#0098dd 203.25px,#0098dd 204.00px,#007ddd 204.25px,#007ddd 211.75px,#0000dd 212.00px,#0000dd 214.00px,#0098dd 214.25px,#0098dd 215.00px,#0000dd 215.25px,#0000dd 219.50px,#2300a6 219.75px,#2300a6 226.25px,#2d00a4 226.50px,#2d00a4 234.50px,#3800a3 234.75px,#3800a3 240.25px,#78009b 240.50px,#820093 240.75px,#7e008f 248.25px,#700080 248.75px,#700080 249.00px,#670075 249.25px,#670075 249.75px,#5d006b 250.00px,#5d006b 250.50px,#540060 250.75px,#540060 251.00px,#4b0055 251.25px,#4b0055 251.75px,#41004b 252.00px,#41004b 252.50px,#380040 252.75px,#380040 253.50px,#2f0035 253.75px,#2f0035 254.25px,#25002b 254.50px,#25002b 255.00px,#1c0020 255.25px,#1c0020 256.00px,#130015 256.25px,#130015 257.25px,#09000b 257.50px,#09000b 258.75px,#000000 259.00px,#000000 267.00px)"></div><div style="left:327.90px;top:61.41px;width:267.10px;height:17.00px;background:linear-gradient(90deg,#7a008b 0.00px,#7a008b 0.75px,#540060 1.00px,#1c0020 1.25px,#1c0020 60.00px,#2f0035 60.25px,#2f0035 69.00px,#380040 69.25px,#380040 79.00px,#41004b 79.25px,#41004b 120.50px,#4b0055 120.75px,#4b0055 218.75px,#41004b 219.00px,#41004b 228.50px,#380040 228.75px,#380040 238.50px,#2f0035 238.75px,#2f0035 244.00px,#25002b 244.25px,#25002b 247.00px,#1c0020 247.25px,#1c0020 250.25px,#130015 250.50px,#130015 253.00px,#09000b 253.25px,#09000b 256.00px,#000000 256.25px,#000000 267.00px)"></div><div style="left:327.90px;top:78.11px;width:267.10px;height:17.00px;background:linear-gradient(90deg,#7a008b 0.00px,#7a008b 0.75px,#78009b 1.00px,#1c0020 1.25px,#1c0020 42.50px,#25002b 42.75px,#25002b 44.00px,#2f0035 44.25px,#2f0035 45.50px,#380040 45.75px,#380040 47.00px,#41004b 47.25px,#41004b 48.50px,#4b0055 48.75px,#4b0055 50.00px,#540060 50.25px,#540060 52.75px,#5d006b 53.00px,#5d006b 53.25px,#7b008c 53.50px,#820093 53.75px,#820093 61.00px,#78009b 61.25px,#0000b9 61.50px,#0000d5 64.50px,#0000dd 65.25px,#0013dd 65.75px,#0013dd 66.00px,#0038dd 67.00px,#0038dd 67.25px,#0041dd 67.50px,#0041dd 67.75px,#004bdd 68.00px,#004bdd 68.25px,#0054dd 68.50px,#0054dd 68.75px,#005ddd 69.00px,#005ddd 69.25px,#0067dd 69.50px,#0067dd 70.00px,#0070dd 70.25px,#0070dd 70.50px,#0085dd 70.75px,#008add 71.25px,#0095dd 82.50px,#009adb 91.75px,#009bd7 92.75px,#009bd7 96.25px,#009cd3 97.25px,#009ecf 98.00px,#00a7b3 98.25px,#00a7b3 100.25px,#00a8af 101.25px,#00a8af 102.50px,#00aaab 103.50px,#00aaab 104.00px,#009f33 104.25px,#009f33 104.75px,#00aaa8 105.00px,#00aaa3 113.00px,#009f33 113.25px,#009f33 113.75px,#00aaa3 114.00px,#00aa98 119.25px,#00aa88 125.00px,#00a97d 125.25px,#00a97d 126.00px,#00a773 126.25px,#00a773 127.00px,#00a668 127.25px,#00a668 128.25px,#00a55d 128.50px,#00a55d 129.75px,#00a353 130.00px,#00a353 131.00px,#00a248 131.25px,#00a248 143.00px,#00a353 143.25px,#00a353 144.25px,#00a55d 144.50px,#00a55d 145.50px,#00a668 145.75px,#00a668 147.00px,#00a773 147.25px,#00a773 147.50px,#00a97d 147.75px,#00a97d 148.00px,#00aa88 148.25px,#00a8af 156.25px,#00a3bf 159.50px,#009cd3 160.00px,#009bd7 162.75px,#009adb 163.75px,#0098dd 165.50px,#0085dd 165.75px,#0078dd 168.00px,#0070dd 168.25px,#0070dd 168.50px,#0067dd 168.75px,#0067dd 169.00px,#005ddd 169.25px,#001cdd 169.50px,#0013dd 169.75px,#0013dd 171.25px,#0009dd 171.50px,#0009dd 173.75px,#0000dd 174.00px,#0000dd 176.25px,#0000d9 177.25px,#0000d9 178.75px,#0000d5 179.75px,#0000d5 181.00px,#0000d1 182.00px,#0000bd 187.00px,#0300aa 187.25px,#0300aa 187.50px,#0d00a8 187.75px,#0d00a8 189.00px,#1800a7 189.25px,#1800a7 190.25px,#2300a6 190.50px,#2300a6 191.50px,#2d00a4 191.75px,#2d00a4 192.75px,#3800a3 193.00px,#3800a3 193.75px,#83009a 194.00px,#4d00a0 194.25px,#4d00a0 194.75px,#58009f 195.00px,#58009f 195.25px,#850096 195.50px,#820093 198.50px,#0098dd 198.75px,#0098dd 199.75px,#0000dd 200.00px,#0000dd 203.00px,#0098dd 203.25px,#0098dd 204.00px,#0078dd 204.25px,#0078dd 206.00px,#0098dd 206.25px,#0098dd 207.50px,#0078dd 207.75px,#0078dd 209.50px,#008add 209.75px,#008add 211.75px,#0000dd 212.00px,#0000dd 214.00px,#009fcb 214.25px,#009fcb 216.25px,#0000dd 216.50px,#0000dd 220.50px,#820093 220.75px,#820093 228.25px,#0000dd 228.50px,#0000dd 230.50px,#820093 230.75px,#7e008f 241.75px,#700080 242.25px,#700080 243.00px,#670075 243.25px,#670075 244.25px,#5d006b 244.50px,#5d006b 245.50px,#540060 245.75px,#540060 246.75px,#4b0055 247.00px,#4b0055 247.50px,#41004b 247.75px,#41004b 248.50px,#380040 248.75px,#380040 249.50px,#2f0035 249.75px,#2f0035 250.50px,#25002b 250.75px,#25002b 252.00px,#1c0020 252.25px,#1c0020 253.25px,#130015 253.50px,#130015 255.00px,#09000b 255.25px,#09000b 256.50px,#000000 256.75px,#000000 267.00px)"></div><div style="left:327.90px;top:94.82px;width:267.10px;height:17.00px;background:linear-gradient(90deg,#7a008b 0.00px,#7a008b 0.75px,#78009b 1.00px,#1c0020 1.25px,#1c0020 42.50px,#25002b 42.75px,#25002b 44.00px,#2f0035 44.25px,#2f0035 45.50px,#380040 45.75px,#380040 47.00px,#41004b 47.25px,#41004b 48.50px,#4b0055 48.75px,#4b0055 50.00px,#540060 50.25px,#540060 52.75px,#5d006b 53.00px,#5d006b 53.25px,#7b008c 53.50px,#820093 53.75px,#820093 61.00px,#78009b 61.25px,#0000b9 61.50px,#0000d9 66.50px,#0000dd 67.00px,#0009dd 67.25px,#0009dd 67.50px,#001cdd 68.00px,#001cdd 68.25px,#0025dd 68.50px,#0025dd 68.75px,#0038dd 69.25px,#0038dd 69.50px,#0041dd 69.75px,#0041dd 70.25px,#004bdd 70.50px,#004bdd 71.00px,#0054dd 71.25px,#0054dd 71.75px,#005ddd 72.00px,#005ddd 72.50px,#0067dd 72.75px,#0067dd 73.00px,#0070dd 73.25px,#0070dd 73.75px,#008add 74.25px,#0098dd 90.00px,#009adb 94.00px,#009bd7 95.00px,#009bd7 97.50px,#009cd3 98.50px,#009cd3 98.75px,#00a4bb 99.00px,#00a7b3 99.25px,#00a7b3 100.50px,#00a8af 101.50px,#00a8af 102.50px,#00aaab 103.50px,#00aaa5 109.50px,#00aaa0 116.50px,#00aa88 125.00px,#00a97d 125.25px,#00a97d 126.00px,#00a773 126.25px,#00a773 127.00px,#00a668 127.25px,#00a668 128.25px,#00a55d 128.50px,#00a55d 129.75px,#00a353 130.00px,#00a353 131.00px,#00a248 131.25px,#00a248 143.00px,#00a353 143.25px,#00a353 144.25px,#00a55d 144.50px,#00a55d 145.50px,#00a668 145.75px,#00a668 147.00px,#00a773 147.25px,#00a773 147.50px,#00a97d 147.75px,#00a97d 148.00px,#00aa88 148.25px,#00a8af 156.25px,#00a3bf 159.50px,#009cd3 160.00px,#009bd7 162.75px,#009adb 163.75px,#0098dd 165.50px,#0085dd 165.75px,#0078dd 168.00px,#0070dd 168.25px,#0070dd 168.50px,#0067dd 168.75px,#0067dd 169.00px,#005ddd 169.25px,#001cdd 169.50px,#0013dd 169.75px,#0013dd 171.25px,#0009dd 171.50px,#0009dd 173.75px,#0000dd 174.00px,#0000dd 176.25px,#0000d9 177.25px,#0000d9 178.75px,#0000d5 179.75px,#0000d5 181.00px,#0000d1 182.00px,#0000bd 187.00px,#0300aa 187.25px,#0300aa 187.50px,#0d00a8 187.75px,#0d00a8 189.00px,#1800a7 189.25px,#1800a7 190.25px,#2300a6 190.50px,#2300a6 191.50px,#2d00a4 191.75px,#2d00a4 192.75px,#3800a3 193.00px,#3800a3 193.75px,#83009a 194.00px,#4d00a0 194.25px,#4d00a0 194.75px,#58009f 195.00px,#58009f 195.25px,#850096 195.50px,#820093 198.50px,#0098dd 198.75px,#0098dd 199.75px,#0000dd 200.00px,#0000dd 203.00px,#0098dd 203.25px,#0098dd 204.00px,#0078dd 204.25px,#0078dd 206.00px,#0098dd 206.25px,#0098dd 207.50px,#0078dd 207.75px,#0078dd 209.50px,#008add 209.75px,#008add 211.75px,#0000dd 212.00px,#0000dd 214.00px,#009fcb 214.25px,#009fcb 216.25px,#0000dd 216.50px,#0000dd 220.50px,#820093 220.75px,#820093 228.25px,#0092dd 228.50px,#0092dd 230.50px,#820093 230.75px,#7e008f 241.75px,#700080 242.25px,#700080 243.00px,#670075 243.25px,#670075 244.25px,#5d006b 244.50px,#5d006b 245.50px,#540060 245.75px,#540060 246.75px,#4b0055 247.00px,#4b0055 247.50px,#41004b 247.75px,#41004b 248.50px,#380040 248.75px,#380040 249.50px,#2f0035 249.75px,#2f0035 250.50px,#25002b 250.75px,#25002b 252.00px,#1c0020 252.25px,#1c0020 253.25px,#130015 253.50px,#130015 255.00px,#09000b 255.25px,#09000b 256.50px,#000000 256.75px,#000000 267.00px)"></div><div style="left:327.90px;top:111.52px;width:267.10px;height:17.00px;background:linear-gradient(90deg,#7a008b 0.00px,#7a008b 0.75px,#78009b 1.00px,#1c0020 1.25px,#1c0020 42.50px,#25002b 42.75px,#25002b 44.00px,#2f0035 44.25px,#2f0035 45.50px,#380040 45.75px,#380040 47.00px,#41004b 47.25px,#41004b 48.50px,#4b0055 48.75px,#4b0055 50.00px,#540060 50.25px,#540060 52.75px,#5d006b 53.00px,#5d006b 53.25px,#7b008c 53.50px,#820093 53.75px,#820093 61.00px,#78009b 61.25px,#0000b9 61.50px,#0000d5 64.75px,#0000dd 65.75px,#0025dd 66.75px,#0025dd 67.00px,#0038dd 67.50px,#0038dd 67.75px,#0041dd 68.00px,#0041dd 68.25px,#004bdd 68.50px,#004bdd 68.75px,#0054dd 69.00px,#0054dd 69.50px,#005ddd 69.75px,#005ddd 70.00px,#0067dd 70.25px,#0067dd 70.50px,#0070dd 70.75px,#0070dd 71.25px,#0088dd 71.50px,#008ddd 74.00px,#0098dd 87.75px,#009adb 92.50px,#009bd7 93.50px,#009bd7 96.50px,#009cd3 97.50px,#009cd3 98.25px,#00a7b3 98.50px,#00a7b3 100.00px,#009a00 100.25px,#009a00 100.75px,#00a8af 101.00px,#00a8af 102.50px,#00aaab 103.50px,#00aaa5 109.50px,#00aaa0 116.50px,#00aa88 125.00px,#00a97d 125.25px,#00a97d 126.00px,#00a773 126.25px,#00a773 127.00px,#00a668 127.25px,#00a668 128.25px,#00a55d 128.50px,#00a55d 129.75px,#00a353 130.00px,#00a353 131.00px,#00a248 131.25px,#00a248 143.00px,#00a353 143.25px,#00a353 144.25px,#00a55d 144.50px,#00a55d 145.50px,#00a668 145.75px,#00a668 147.00px,#00a773 147.25px,#00a773 147.50px,#00a97d 147.75px,#00a97d 148.00px,#00aa88 148.25px,#00a8af 156.25px,#00a3bf 159.50px,#009cd3 160.00px,#009bd7 162.75px,#009adb 163.75px,#0098dd 165.50px,#0085dd 165.75px,#0078dd 168.00px,#0070dd 168.25px,#0070dd 168.50px,#0067dd 168.75px,#0067dd 169.00px,#005ddd 169.25px,#001cdd 169.50px,#0013dd 169.75px,#0013dd 171.25px,#0009dd 171.50px,#0009dd 173.75px,#0000dd 174.00px,#0000dd 176.25px,#0000d9 177.25px,#0000d9 178.75px,#0000d5 179.75px,#0000d5 181.00px,#0000d1 182.00px,#0000bd 187.00px,#0300aa 187.25px,#0300aa 187.50px,#0d00a8 187.75px,#0d00a8 189.00px,#1800a7 189.25px,#1800a7 190.25px,#2300a6 190.50px,#2300a6 191.50px,#2d00a4 191.75px,#2d00a4 192.75px,#3800a3 193.00px,#3800a3 193.75px,#83009a 194.00px,#4d00a0 194.25px,#4d00a0 194.75px,#58009f 195.00px,#58009f 195.25px,#850096 195.50px,#820093 198.50px,#0098dd 198.75px,#0098dd 199.75px,#0000dd 200.00px,#0000dd 203.00px,#0098dd 203.25px,#0098dd 204.00px,#0078dd 204.25px,#0078dd 206.00px,#0098dd 206.25px,#0098dd 207.50px,#0078dd 207.75px,#0078dd 209.50px,#008add 209.75px,#008add 211.75px,#0000dd 212.00px,#0000dd 214.00px,#009fcb 214.25px,#009fcb 216.25px,#0000dd 216.50px,#0000dd 220.50px,#820093 220.75px,#820093 228.25px,#0000dd 228.50px,#0000dd 230.50px,#820093 230.75px,#7e008f 241.75px,#700080 242.25px,#700080 243.00px,#670075 243.25px,#670075 244.25px,#5d006b 244.50px,#5d006b 245.50px,#540060 245.75px,#540060 246.75px,#4b0055 247.00px,#4b0055 247.50px,#41004b 247.75px,#41004b 248.50px,#380040 248.75px,#380040 249.50px,#2f0035 249.75px,#2f0035 250.50px,#25002b 250.75px,#25002b 252.00px,#1c0020 252.25px,#1c0020 253.25px,#130015 253.50px,#130015 255.00px,#09000b 255.25px,#09000b 256.50px,#000000 256.75px,#000000 267.00px)"></div><div style="left:327.90px;top:128.23px;width:267.10px;height:17.00px;background:linear-gradient(90deg,#0000dd 0.00px,#0000dd 0.75px,#78009b 1.00px,#1c0020 1.25px,#1c0020 42.50px,#25002b 42.75px,#25002b 44.00px,#2f0035 44.25px,#2f0035 45.50px,#380040 45.75px,#380040 47.00px,#41004b 47.25px,#41004b 48.50px,#4b0055 48.75px,#4b0055 50.00px,#540060 50.25px,#540060 52.75px,#5d006b 53.00px,#5d006b 53.25px,#7b008c 53.50px,#820093 53.75px,#820093 61.00px,#78009b 61.25px,#0000b9 61.50px,#0000dd 66.00px,#0013dd 66.50px,#0013dd 66.75px,#0025dd 67.25px,#0025dd 67.50px,#0038dd 68.00px,#0038dd 68.25px,#0041dd 68.50px,#0041dd 68.75px,#004bdd 69.00px,#004bdd 69.50px,#0054dd 69.75px,#0054dd 70.00px,#005ddd 70.25px,#005ddd 70.75px,#0067dd 71.00px,#0067dd 71.25px,#0070dd 71.50px,#0070dd 72.00px,#0085dd 72.25px,#008add 72.75px,#0098dd 88.00px,#009adb 93.00px,#009bd7 94.00px,#009bd7 97.00px,#009cd3 98.00px,#009ecf 98.50px,#00a7b3 98.75px,#00a7b3 100.50px,#00a8af 101.50px,#00a8af 102.50px,#00aaab 103.50px,#00aaa5 109.50px,#00aaa0 116.50px,#00aa8b 124.00px,#00a773 124.25px,#00a773 124.50px,#00a668 124.75px,#00a668 125.50px,#00a55d 125.75px,#00a55d 126.50px,#00a353 126.75px,#00a353 127.50px,#00a248 127.75px,#00a248 129.00px,#00a13d 129.25px,#00a13d 130.25px,#009f33 130.50px,#009f33 131.50px,#009e28 131.75px,#009e28 142.50px,#009f33 142.75px,#009f33 143.75px,#00a13d 144.00px,#00a13d 145.00px,#00a248 145.25px,#00a248 146.00px,#00a668 146.25px,#00a668 147.00px,#00a773 147.25px,#00a773 147.50px,#00a97d 147.75px,#00a97d 148.00px,#00aa88 148.25px,#00a8af 156.25px,#00a3bf 159.50px,#009cd3 160.00px,#009bd7 162.75px,#009adb 163.75px,#0098dd 165.50px,#0085dd 165.75px,#0078dd 168.00px,#0070dd 168.25px,#0070dd 168.50px,#0067dd 168.75px,#0067dd 169.00px,#005ddd 169.25px,#001cdd 169.50px,#0013dd 169.75px,#0013dd 171.25px,#0009dd 171.50px,#0009dd 173.75px,#0000dd 174.00px,#0000dd 176.25px,#0000d9 177.25px,#0000d9 178.75px,#0000d5 179.75px,#0000d5 181.00px,#0000d1 182.00px,#0000bd 187.00px,#0300aa 187.25px,#0300aa 187.50px,#0d00a8 187.75px,#0d00a8 189.00px,#1800a7 189.25px,#1800a7 190.25px,#2300a6 190.50px,#2300a6 191.50px,#2d00a4 191.75px,#2d00a4 192.75px,#3800a3 193.00px,#3800a3 193.75px,#83009a 194.00px,#4d00a0 194.25px,#4d00a0 194.75px,#58009f 195.00px,#58009f 195.25px,#850096 195.50px,#820093 198.50px,#0098dd 198.75px,#0098dd 199.75px,#0000dd 200.00px,#0000dd 203.00px,#0098dd 203.25px,#0098dd 204.00px,#0078dd 204.25px,#0078dd 206.00px,#0098dd 206.25px,#0098dd 207.50px,#0078dd 207.75px,#0078dd 209.50px,#008add 209.75px,#008add 211.75px,#0000dd 212.00px,#0000dd 214.00px,#009fcb 214.25px,#009fcb 216.25px,#0000dd 216.50px,#0000dd 220.50px,#820093 220.75px,#820093 228.25px,#0000dd 228.50px,#0000dd 230.50px,#820093 230.75px,#7e008f 241.75px,#700080 242.25px,#700080 243.00px,#670075 243.25px,#670075 244.25px,#5d006b 244.50px,#5d006b 245.50px,#540060 245.75px,#540060 246.75px,#4b0055 247.00px,#4b0055 247.50px,#41004b 247.75px,#41004b 248.50px,#380040 248.75px,#380040 249.50px,#2f0035 249.75px,#2f0035 250.50px,#25002b 250.75px,#25002b 252.00px,#1c0020 252.25px,#1c0020 253.25px,#130015 253.50px,#130015 255.00px,#09000b 255.25px,#09000b 256.50px,#000000 256.75px,#000000 267.00px)"></div><div style="left:327.90px;top:144.93px;width:267.10px;height:17.00px;background:linear-gradient(90deg,#0000dd 0.00px,#0000dd 0.75px,#78009b 1.00px,#1c0020 1.25px,#1c0020 42.50px,#25002b 42.75px,#25002b 44.00px,#2f0035 44.25px,#2f0035 45.50px,#380040 45.75px,#380040 47.00px,#41004b 47.25px,#41004b 48.50px,#4b0055 48.75px,#4b0055 50.00px,#540060 50.25px,#540060 52.75px,#5d006b 53.00px,#5d006b 53.25px,#7b008c 53.50px,#820093 53.75px,#820093 61.00px,#78009b 61.25px,#0000b9 61.50px,#0000d5 65.50px,#0000dd 66.50px,#0013dd 67.00px,#0013dd 67.25px,#0025dd 67.75px,#0025dd 68.00px,#0038dd 68.50px,#0038dd 68.75px,#0041dd 69.00px,#0041dd 69.50px,#004bdd 69.75px,#004bdd 70.25px,#0054dd 70.50px,#0054dd 70.75px,#005ddd 71.00px,#005ddd 71.50px,#0067dd 71.75px,#0067dd 72.25px,#0070dd 72.50px,#0070dd 72.75px,#008add 73.25px,#0098dd 89.25px,#009adb 93.50px,#009bd7 94.50px,#009bd7 97.25px,#009cd3 98.25px,#009cd3 98.50px,#00a0c7 98.75px,#00a7b3 99.00px,#00a7b3 100.50px,#00a8af 101.50px,#00a8af 102.50px,#00aaab 103.50px,#00aaa5 109.50px,#00aaa0 116.50px,#00aa88 125.00px,#00a97d 125.25px,#00a97d 126.00px,#00a773 126.25px,#00a773 127.00px,#00a668 127.25px,#00a668 128.25px,#00a55d 128.50px,#00a55d 129.75px,#00a353 130.00px,#00a353 131.00px,#00a248 131.25px,#00a248 143.00px,#00a353 143.25px,#00a353 144.25px,#00a55d 144.50px,#00a55d 145.50px,#00a668 145.75px,#00a668 147.00px,#00a773 147.25px,#00a773 147.50px,#00a97d 147.75px,#00a97d 148.00px,#00aa88 148.25px,#00a8af 156.25px,#00a3bf 159.50px,#009cd3 160.00px,#009bd7 162.75px,#009adb 163.75px,#0098dd 165.50px,#0085dd 165.75px,#0078dd 168.00px,#0070dd 168.25px,#0070dd 168.50px,#0067dd 168.75px,#0067dd 169.00px,#005ddd 169.25px,#001cdd 169.50px,#0013dd 169.75px,#0013dd 171.25px,#0009dd 171.50px,#0009dd 173.75px,#0000dd 174.00px,#0000dd 176.25px,#0000d9 177.25px,#0000d9 178.75px,#0000d5 179.75px,#0000d5 181.00px,#0000d1 182.00px,#0000bd 187.00px,#0300aa 187.25px,#0300aa 187.50px,#0d00a8 187.75px,#0d00a8 189.00px,#1800a7 189.25px,#1800a7 190.25px,#2300a6 190.50px,#2300a6 191.50px,#2d00a4 191.75px,#2d00a4 192.75px,#3800a3 193.00px,#3800a3 193.75px,#83009a 194.00px,#4d00a0 194.25px,#4d00a0 194.75px,#58009f 195.00px,#58009f 195.25px,#850096 195.50px,#820093 198.50px,#0098dd 198.75px,#0098dd 199.75px,#0000dd 200.00px,#0000dd 203.00px,#0098dd 203.25px,#0098dd 204.00px,#0078dd 204.25px,#0078dd 206.00px,#0098dd 206.25px,#0098dd 207.50px,#0078dd 207.75px,#0078dd 209.50px,#008add 209.75px,#008add 211.75px,#0000dd 212.00px,#0000dd 214.00px,#009fcb 214.25px,#009fcb 216.25px,#0000dd 216.50px,#0000dd 220.50px,#820093 220.75px,#820093 228.25px,#0092dd 228.50px,#0092dd 230.50px,#820093 230.75px,#7e008f 241.75px,#700080 242.25px,#700080 243.00px,#670075 243.25px,#670075 244.25px,#5d006b 244.50px,#5d006b 245.50px,#540060 245.75px,#540060 246.75px,#4b0055 247.00px,#4b0055 247.50px,#41004b 247.75px,#41004b 248.50px,#380040 248.75px,#380040 249.50px,#2f0035 249.75px,#2f0035 250.50px,#25002b 250.75px,#25002b 252.00px,#1c0020 252.25px,#1c0020 253.25px,#130015 253.50px,#130015 255.00px,#09000b 255.25px,#09000b 256.50px,#000000 256.75px,#000000 267.00px)"></div><div style="left:327.90px;top:161.64px;width:267.10px;height:17.00px;background:linear-gradient(90deg,#0000dd 0.00px,#0000dd 0.75px,#78009b 1.00px,#1c0020 1.25px,#1c0020 42.50px,#25002b 42.75px,#25002b 44.00px,#2f0035 44.25px,#2f0035 45.50px,#380040 45.75px,#380040 47.00px,#41004b 47.25px,#41004b 48.50px,#4b0055 48.75px,#4b0055 50.00px,#540060 50.25px,#540060 52.75px,#5d006b 53.00px,#5d006b 53.25px,#7b008c 53.50px,#820093 53.75px,#820093 61.00px,#78009b 61.25px,#0000b9 61.50px,#0000d5 65.50px,#0000dd 66.50px,#0013dd 67.00px,#0013dd 67.25px,#0025dd 67.75px,#0025dd 68.00px,#0038dd 68.50px,#0038dd 68.75px,#0041dd 69.00px,#0041dd 69.50px,#004bdd 69.75px,#004bdd 70.25px,#0054dd 70.50px,#0054dd 70.75px,#005ddd 71.00px,#005ddd 71.50px,#0067dd 71.75px,#0067dd 72.25px,#0070dd 72.50px,#0070dd 72.75px,#008add 73.25px,#0098dd 89.25px,#009adb 93.50px,#009bd7 94.50px,#009bd7 97.25px,#009cd3 98.25px,#009cd3 98.50px,#00a0c7 98.75px,#00a7b3 99.00px,#00a7b3 100.50px,#00a8af 101.50px,#00a8af 102.50px,#00aaab 103.50px,#00aaa5 109.50px,#00aaa0 116.50px,#00aa8b 124.00px,#00a773 124.25px,#00a773 124.50px,#00a668 124.75px,#00a668 125.50px,#00a55d 125.75px,#00a55d 126.50px,#00a353 126.75px,#00a353 127.50px,#00a248 127.75px,#00a248 129.00px,#00a13d 129.25px,#00a13d 130.25px,#009f33 130.50px,#009f33 131.50px,#009e28 131.75px,#009e28 142.50px,#009f33 142.75px,#009f33 143.75px,#00a13d 144.00px,#00a13d 145.00px,#00a248 145.25px,#00a248 146.00px,#00a668 146.25px,#00a668 147.00px,#00a773 147.25px,#00a773 147.50px,#00a97d 147.75px,#00a97d 148.00px,#00aa88 148.25px,#00a8af 156.25px,#00a3bf 159.50px,#009cd3 160.00px,#009bd7 162.75px,#009adb 163.75px,#0098dd 165.50px,#0085dd 165.75px,#0078dd 168.00px,#0070dd 168.25px,#0070dd 168.50px,#0067dd 168.75px,#0067dd 169.00px,#005ddd 169.25px,#001cdd 169.50px,#0013dd 169.75px,#0013dd 171.25px,#0009dd 171.50px,#0009dd 173.75px,#0000dd 174.00px,#0000dd 176.25px,#0000d9 177.25px,#0000d9 178.75px,#0000d5 179.75px,#0000d5 181.00px,#0000d1 182.00px,#0000bd 187.00px,#0300aa 187.25px,#0300aa 187.50px,#0d00a8 187.75px,#0d00a8 189.00px,#1800a7 189.25px,#1800a7 190.25px,#2300a6 190.50px,#2300a6 191.50px,#2d00a4 191.75px,#2d00a4 192.75px,#3800a3 193.00px,#3800a3 193.75px,#83009a 194.00px,#4d00a0 194.25px,#4d00a0 194.75px,#58009f 195.00px,#58009f 195.25px,#850096 195.50px,#820093 198.50px,#0098dd 198.75px,#0098dd 199.75px,#0000dd 200.00px,#0000dd 203.00px,#0098dd 203.25px,#0098dd 204.00px,#0078dd 204.25px,#0078dd 206.00px,#0098dd 206.25px,#0098dd 207.50px,#0078dd 207.75px,#0078dd 209.50px,#008add 209.75px,#008add 211.75px,#0000dd 212.00px,#0000dd 214.00px,#009fcb 214.25px,#009fcb 216.25px,#0000dd 216.50px,#0000dd 220.50px,#820093 220.75px,#820093 228.25px,#0000dd 228.50px,#0000dd 230.50px,#820093 230.75px,#7e008f 241.75px,#700080 242.25px,#700080 243.00px,#670075 243.25px,#670075 244.25px,#5d006b 244.50px,#5d006b 245.50px,#540060 245.75px,#540060 246.75px,#4b0055 247.00px,#4b0055 247.50px,#41004b 247.75px,#41004b 248.50px,#380040 248.75px,#380040 249.50px,#2f0035 249.75px,#2f0035 250.50px,#25002b 250.75px,#25002b 252.00px,#1c0020 252.25px,#1c0020 253.25px,#130015 253.50px,#130015 255.00px,#09000b 255.25px,#09000b 256.50px,#000000 256.75px,#000000 267.00px)"></div><div style="left:327.90px;top:178.34px;width:267.10px;height:17.00px;background:linear-gradient(90deg,#7a008b 0.00px,#7a008b 0.75px,#78009b 1.00px,#1c0020 1.25px,#1c0020 42.50px,#25002b 42.75px,#25002b 44.00px,#2f0035 44.25px,#2f0035 45.50px,#380040 45.75px,#380040 47.00px,#41004b 47.25px,#41004b 48.50px,#4b0055 48.75px,#4b0055 50.00px,#540060 50.25px,#540060 52.75px,#5d006b 53.00px,#5d006b 53.25px,#7b008c 53.50px,#820093 53.75px,#820093 61.00px,#78009b 61.25px,#0000b9 61.50px,#0000d5 64.50px,#0000dd 65.25px,#0013dd 65.75px,#0013dd 66.00px,#0038dd 67.00px,#0038dd 67.25px,#0041dd 67.50px,#0041dd 67.75px,#004bdd 68.00px,#004bdd 68.25px,#0054dd 68.50px,#0054dd 68.75px,#005ddd 69.00px,#005ddd 69.25px,#0067dd 69.50px,#0067dd 70.00px,#0070dd 70.25px,#0070dd 70.50px,#0085dd 70.75px,#008add 71.25px,#0095dd 82.50px,#009adb 91.75px,#009bd7 92.75px,#009bd7 96.25px,#009cd3 97.25px,#009ecf 98.00px,#00a7b3 98.25px,#00a7b3 100.25px,#00a8af 101.25px,#00a8af 102.50px,#00aaab 103.50px,#00aaa5 109.50px,#00aaa0 116.50px,#00aa8b 124.00px,#00a668 124.25px,#00a55d 124.50px,#00a55d 125.25px,#00a353 125.50px,#00a353 126.25px,#00a248 126.50px,#00a248 127.25px,#00a13d 127.50px,#00a13d 128.50px,#009f33 128.75px,#009f33 129.75px,#009e28 130.00px,#009e28 131.25px,#009d1d 131.50px,#009d1d 142.75px,#009e28 143.00px,#009e28 144.00px,#009f33 144.25px,#009f33 145.50px,#00a13d 145.75px,#00a13d 146.00px,#00a668 146.25px,#00a668 147.00px,#00a773 147.25px,#00a773 147.50px,#00a97d 147.75px,#00a97d 148.00px,#00aa88 148.25px,#00a8af 156.25px,#00a3bf 159.50px,#009cd3 160.00px,#009bd7 162.75px,#009adb 163.75px,#0098dd 165.50px,#0085dd 165.75px,#0078dd 168.00px,#0070dd 168.25px,#0070dd 168.50px,#0067dd 168.75px,#0067dd 169.00px,#005ddd 169.25px,#001cdd 169.50px,#0013dd 169.75px,#0013dd 171.25px,#0009dd 171.50px,#0009dd 173.75px,#0000dd 174.00px,#0000dd 176.25px,#0000d9 177.25px,#0000d9 178.75px,#0000d5 179.75px,#0000d5 181.00px,#0000d1 182.00px,#0000bd 187.00px,#0300aa 187.25px,#0300aa 187.50px,#0d00a8 187.75px,#0d00a8 189.00px,#1800a7 189.25px,#1800a7 190.25px,#2300a6 190.50px,#2300a6 191.50px,#2d00a4 191.75px,#2d00a4 192.75px,#3800a3 193.00px,#3800a3 193.75px,#83009a 194.00px,#4d00a0 194.25px,#4d00a0 194.75px,#58009f 195.00px,#58009f 195.25px,#850096 195.50px,#820093 198.50px,#0098dd 198.75px,#0098dd 199.75px,#0000dd 200.00px,#0000dd 203.00px,#0098dd 203.25px,#0098dd 204.00px,#0078dd 204.25px,#0078dd 206.00px,#0098dd 206.25px,#0098dd 207.50px,#0078dd 207.75px,#0078dd 209.50px,#008add 209.75px,#008add 211.75px,#0000dd 212.00px,#0000dd 214.00px,#009fcb 214.25px,#009fcb 216.25px,#0000dd 216.50px,#0000dd 220.50px,#820093 220.75px,#820093 228.25px,#0000dd 228.50px,#0000dd 230.50px,#820093 230.75px,#7e008f 241.75px,#700080 242.25px,#700080 243.00px,#670075 243.25px,#670075 244.25px,#5d006b 244.50px,#5d006b 245.50px,#540060 245.75px,#540060 246.75px,#4b0055 247.00px,#4b0055 247.50px,#41004b 247.75px,#41004b 248.50px,#380040 248.75px,#380040 249.50px,#2f0035 249.75px,#2f0035 250.50px,#25002b 250.75px,#25002b 252.00px,#1c0020 252.25px,#1c0020 253.25px,#130015 253.50px,#130015 255.00px,#09000b 255.25px,#09000b 256.50px,#000000 256.75px,#000000 267.00px)"></div><div style="left:327.90px;top:195.05px;width:267.10px;height:17.00px;background:linear-gradient(90deg,#7a008b 0.00px,#7a008b 0.75px,#78009b 1.00px,#1c0020 1.25px,#1c0020 42.50px,#25002b 42.75px,#25002b 44.00px,#2f0035 44.25px,#2f0035 45.50px,#380040 45.75px,#380040 47.00px,#41004b 47.25px,#41004b 48.50px,#4b0055 48.75px,#4b0055 50.00px,#540060 50.25px,#540060 52.75px,#5d006b 53.00px,#5d006b 53.25px,#7b008c 53.50px,#820093 53.75px,#820093 61.00px,#78009b 61.25px,#0000b9 61.50px,#0000dd 66.00px,#0013dd 66.50px,#0013dd 66.75px,#0025dd 67.25px,#0025dd 67.50px,#0038dd 68.00px,#0038dd 68.25px,#0041dd 68.50px,#0041dd 68.75px,#004bdd 69.00px,#004bdd 69.50px,#0054dd 69.75px,#0054dd 70.00px,#005ddd 70.25px,#005ddd 70.75px,#0067dd 71.00px,#0067dd 71.25px,#0070dd 71.50px,#0070dd 72.00px,#0085dd 72.25px,#008add 72.75px,#0098dd 88.00px,#009adb 93.00px,#009bd7 94.00px,#009bd7 97.00px,#009cd3 98.00px,#009ecf 98.50px,#00a7b3 98.75px,#00a7b3 100.50px,#00a8af 101.50px,#00a8af 102.50px,#00aaab 103.50px,#00aaa5 109.50px,#00aaa0 116.50px,#00aa88 125.00px,#00a97d 125.25px,#00a97d 126.00px,#00a773 126.25px,#00a773 127.00px,#00a668 127.25px,#00a668 128.25px,#00a55d 128.50px,#00a55d 129.75px,#00a353 130.00px,#00a353 131.00px,#00a248 131.25px,#00a248 143.00px,#00a353 143.25px,#00a353 144.25px,#00a55d 144.50px,#00a55d 145.50px,#00a668 145.75px,#00a668 147.00px,#00a773 147.25px,#00a773 147.50px,#00a97d 147.75px,#00a97d 148.00px,#00aa88 148.25px,#00a8af 156.25px,#00a3bf 159.50px,#009cd3 160.00px,#009bd7 162.75px,#009adb 163.75px,#0098dd 165.50px,#0085dd 165.75px,#0078dd 168.00px,#0070dd 168.25px,#0070dd 168.50px,#0067dd 168.75px,#0067dd 169.00px,#005ddd 169.25px,#001cdd 169.50px,#0013dd 169.75px,#0013dd 171.25px,#0009dd 171.50px,#0009dd 173.75px,#0000dd 174.00px,#0000dd 176.25px,#0000d9 177.25px,#0000d9 178.75px,#0000d5 179.75px,#0000d5 181.00px,#0000d1 182.00px,#0000bd 187.00px,#0300aa 187.25px,#0300aa 187.50px,#0d00a8 187.75px,#0d00a8 189.00px,#1800a7 189.25px,#1800a7 190.25px,#2300a6 190.50px,#2300a6 191.50px,#2d00a4 191.75px,#2d00a4 192.75px,#3800a3 193.00px,#3800a3 193.75px,#83009a 194.00px,#4d00a0 194.25px,#4d00a0 194.75px,#58009f 195.00px,#58009f 195.25px,#850096 195.50px,#820093 198.50px,#0098dd 198.75px,#0098dd 199.75px,#0000dd 200.00px,#0000dd 203.00px,#0098dd 203.25px,#0098dd 204.00px,#0078dd 204.25px,#0078dd 206.00px,#0098dd 206.25px,#0098dd 207.50px,#0078dd 207.75px,#0078dd 209.50px,#008add 209.75px,#008add 211.75px,#0000dd 212.00px,#0000dd 214.00px,#009fcb 214.25px,#009fcb 216.25px,#0000dd 216.50px,#0000dd 220.50px,#820093 220.75px,#820093 228.25px,#0092dd 228.50px,#0092dd 230.50px,#820093 230.75px,#7e008f 241.75px,#700080 242.25px,#700080 243.00px,#670075 243.25px,#670075 244.25px,#5d006b 244.50px,#5d006b 245.50px,#540060 245.75px,#540060 246.75px,#4b0055 247.00px,#4b0055 247.50px,#41004b 247.75px,#41004b 248.50px,#380040 248.75px,#380040 249.50px,#2f0035 249.75px,#2f0035 250.50px,#25002b 250.75px,#25002b 252.00px,#1c0020 252.25px,#1c0020 253.25px,#130015 253.50px,#130015 255.00px,#09000b 255.25px,#09000b 256.50px,#000000 256.75px,#000000 267.00px)"></div><div style="left:327.90px;top:211.75px;width:267.10px;height:17.00px;background:linear-gradient(90deg,#0000dd 0.00px,#0000dd 0.75px,#78009b 1.00px,#1c0020 1.25px,#1c0020 42.50px,#25002b 42.75px,#25002b 44.00px,#2f0035 44.25px,#2f0035 45.50px,#380040 45.75px,#380040 47.00px,#41004b 47.25px,#41004b 48.50px,#4b0055 48.75px,#4b0055 50.00px,#540060 50.25px,#540060 52.75px,#5d006b 53.00px,#5d006b 53.25px,#7b008c 53.50px,#820093 53.75px,#820093 61.00px,#78009b 61.25px,#0000b9 61.50px,#0000d1 64.00px,#0000dd 65.25px,#0013dd 65.50px,#0025dd 66.00px,#0038dd 66.25px,#0054dd 67.00px,#0054dd 67.25px,#0067dd 67.75px,#0067dd 68.00px,#0078dd 68.50px,#008add 71.50px,#009adb 76.00px,#009cd3 79.00px,#009fcb 81.00px,#009fcb 81.25px,#00a7b3 81.75px,#00a7b3 85.50px,#00a8af 86.50px,#00a8af 89.50px,#00aaab 90.50px,#00aaa5 105.50px,#00aaa5 110.25px,#00aa9d 117.50px,#00aa8b 124.00px,#00a668 124.25px,#00a55d 124.50px,#00a55d 125.25px,#00a353 125.50px,#00a353 126.25px,#00a248 126.50px,#00a248 127.25px,#00a13d 127.50px,#00a13d 128.50px,#009f33 128.75px,#009f33 129.75px,#009e28 130.00px,#009e28 131.25px,#009d1d 131.50px,#009d1d 142.75px,#009e28 143.00px,#009e28 144.00px,#009f33 144.25px,#009f33 145.50px,#00a13d 145.75px,#00a13d 146.00px,#00a668 146.25px,#00a668 147.00px,#00a773 147.25px,#00a773 147.50px,#00a97d 147.75px,#00a97d 148.00px,#00aa88 148.25px,#00a8af 156.25px,#00a3bf 159.50px,#009cd3 160.00px,#009bd7 162.75px,#009adb 163.75px,#0098dd 165.50px,#0085dd 165.75px,#0078dd 168.00px,#0070dd 168.25px,#0070dd 168.50px,#0067dd 168.75px,#0067dd 169.00px,#005ddd 169.25px,#001cdd 169.50px,#0013dd 169.75px,#0013dd 171.25px,#0009dd 171.50px,#0009dd 173.75px,#0000dd 174.00px,#0000dd 176.25px,#0000d9 177.25px,#0000d9 178.75px,#0000d5 179.75px,#0000d5 181.00px,#0000d1 182.00px,#0000bd 187.00px,#0300aa 187.25px,#0300aa 187.50px,#0d00a8 187.75px,#0d00a8 189.00px,#1800a7 189.25px,#1800a7 190.25px,#2300a6 190.50px,#2300a6 191.50px,#2d00a4 191.75px,#2d00a4 192.75px,#3800a3 193.00px,#3800a3 193.75px,#83009a 194.00px,#4d00a0 194.25px,#4d00a0 194.75px,#58009f 195.00px,#58009f 195.25px,#850096 195.50px,#820093 198.50px,#0098dd 198.75px,#0098dd 199.75px,#0000dd 200.00px,#0000dd 203.00px,#0098dd 203.25px,#0098dd 204.00px,#0078dd 204.25px,#0078dd 206.00px,#0098dd 206.25px,#0098dd 207.50px,#0078dd 207.75px,#0078dd 209.50px,#008add 209.75px,#008add 211.75px,#0000dd 212.00px,#0000dd 214.00px,#009fcb 214.25px,#009fcb 216.25px,#0000dd 216.50px,#0000dd 220.50px,#820093 220.75px,#820093 228.25px,#0000dd 228.50px,#0000dd 230.50px,#820093 230.75px,#7e008f 241.75px,#700080 242.25px,#700080 243.00px,#670075 243.25px,#670075 244.25px,#5d006b 244.50px,#5d006b 245.50px,#540060 245.75px,#540060 246.75px,#4b0055 247.00px,#4b0055 247.50px,#41004b 247.75px,#41004b 248.50px,#380040 248.75px,#380040 249.50px,#2f0035 249.75px,#2f0035 250.50px,#25002b 250.75px,#25002b 252.00px,#1c0020 252.25px,#1c0020 253.25px,#130015 253.50px,#130015 255.00px,#09000b 255.25px,#09000b 256.50px,#000000 256.75px,#000000 267.00px)"></div><div style="left:327.90px;top:228.45px;width:267.10px;height:17.00px;background:linear-gradient(90deg,#0000dd 0.00px,#0000dd 0.75px,#78009b 1.00px,#1c0020 1.25px,#1c0020 42.50px,#25002b 42.75px,#25002b 44.00px,#2f0035 44.25px,#2f0035 45.50px,#380040 45.75px,#380040 47.00px,#41004b 47.25px,#41004b 48.50px,#4b0055 48.75px,#4b0055 50.00px,#540060 50.25px,#540060 52.75px,#5d006b 53.00px,#5d006b 53.25px,#7b008c 53.50px,#820093 53.75px,#820093 61.00px,#78009b 61.25px,#0000b9 61.50px,#0000d1 64.00px,#0000dd 65.25px,#0013dd 65.50px,#0025dd 66.00px,#0038dd 66.25px,#0054dd 67.00px,#0054dd 67.25px,#0067dd 67.75px,#0067dd 68.00px,#0078dd 68.50px,#008add 71.50px,#009adb 76.00px,#009cd3 79.00px,#009fcb 81.00px,#009fcb 81.25px,#00a7b3 81.75px,#00a7b3 85.50px,#00a8af 86.50px,#00a8af 89.50px,#00aaab 90.50px,#00aaa5 105.50px,#00aaa5 110.25px,#00aa9d 117.50px,#00aa8b 124.00px,#00a668 124.25px,#00a55d 124.50px,#00a55d 125.25px,#00a353 125.50px,#00a353 126.25px,#00a248 126.50px,#00a248 127.25px,#00a13d 127.50px,#00a13d 128.50px,#009f33 128.75px,#009f33 129.75px,#009e28 130.00px,#009e28 131.25px,#009d1d 131.50px,#009d1d 142.75px,#009e28 143.00px,#009e28 144.00px,#009f33 144.25px,#009f33 145.50px,#00a13d 145.75px,#00a13d 146.00px,#00a668 146.25px,#00a668 147.00px,#00a773 147.25px,#00a773 147.50px,#00a97d 147.75px,#00a97d 148.00px,#00aa88 148.25px,#00a8af 156.25px,#00a3bf 159.50px,#009cd3 160.00px,#009bd7 162.75px,#009adb 163.75px,#0098dd 165.50px,#0085dd 165.75px,#0078dd 168.00px,#0070dd 168.25px,#0070dd 168.50px,#0067dd 168.75px,#0067dd 169.00px,#005ddd 169.25px,#001cdd 169.50px,#0013dd 169.75px,#0013dd 171.25px,#0009dd 171.50px,#0009dd 173.75px,#0000dd 174.00px,#0000dd 176.25px,#0000d9 177.25px,#0000d9 178.75px,#0000d5 179.75px,#0000d5 181.00px,#0000d1 182.00px,#0000bd 187.00px,#0300aa 187.25px,#0300aa 187.50px,#0d00a8 187.75px,#0d00a8 189.00px,#1800a7 189.25px,#1800a7 190.25px,#2300a6 190.50px,#2300a6 191.50px,#2d00a4 191.75px,#2d00a4 192.75px,#3800a3 193.00px,#3800a3 193.75px,#83009a 194.00px,#4d00a0 194.25px,#4d00a0 194.75px,#58009f 195.00px,#58009f 195.25px,#850096 195.50px,#820093 198.50px,#0098dd 198.75px,#0098dd 199.75px,#0000dd 200.00px,#0000dd 203.00px,#0098dd 203.25px,#0098dd 204.00px,#0078dd 204.25px,#0078dd 206.00px,#0098dd 206.25px,#0098dd 207.50px,#0078dd 207.75px,#0078dd 209.50px,#008add 209.75px,#008add 211.75px,#0000dd 212.00px,#0000dd 214.00px,#009fcb 214.25px,#009fcb 216.25px,#0000dd 216.50px,#0000dd 220.50px,#820093 220.75px,#820093 228.25px,#0000dd 228.50px,#0000dd 230.50px,#820093 230.75px,#7e008f 241.75px,#700080 242.25px,#700080 243.00px,#670075 243.25px,#670075 244.25px,#5d006b 244.50px,#5d006b 245.50px,#540060 245.75px,#540060 246.75px,#4b0055 247.00px,#4b0055 247.50px,#41004b 247.75px,#41004b 248.50px,#380040 248.75px,#380040 249.50px,#2f0035 249.75px,#2f0035 250.50px,#25002b 250.75px,#25002b 252.00px,#1c0020 252.25px,#1c0020 253.25px,#130015 253.50px,#130015 255.00px,#09000b 255.25px,#09000b 256.50px,#000000 256.75px,#000000 267.00px)"></div><div style="left:327.90px;top:245.16px;width:267.10px;height:17.00px;background:linear-gradient(90deg,#008add 0.00px,#008add 0.75px,#78009b 1.00px,#1c0020 1.25px,#1c0020 42.50px,#25002b 42.75px,#25002b 44.00px,#2f0035 44.25px,#2f0035 45.50px,#380040 45.75px,#380040 47.00px,#41004b 47.25px,#41004b 48.50px,#4b0055 48.75px,#4b0055 50.00px,#540060 50.25px,#540060 52.75px,#5d006b 53.00px,#5d006b 53.25px,#7b008c 53.50px,#820093 53.75px,#820093 61.00px,#78009b 61.25px,#0000b9 61.50px,#0000d1 64.00px,#0000dd 65.25px,#0013dd 65.50px,#0025dd 66.00px,#0038dd 66.25px,#0054dd 67.00px,#0054dd 67.25px,#0067dd 67.75px,#0067dd 68.00px,#0078dd 68.50px,#008add 71.50px,#009adb 76.00px,#009cd3 79.00px,#009fcb 81.00px,#009fcb 81.25px,#00a7b3 81.75px,#00a7b3 85.50px,#00a8af 86.50px,#00a8af 89.50px,#00aaab 90.50px,#00aaa5 101.50px,#009f33 101.75px,#009f33 102.25px,#00aaa5 102.50px,#00aaa5 105.50px,#00aaa5 110.25px,#00aa9d 117.50px,#00aa88 125.00px,#00a97d 125.25px,#00a97d 126.00px,#00a773 126.25px,#00a773 127.00px,#00a668 127.25px,#00a668 128.25px,#00a55d 128.50px,#00a55d 129.75px,#00a353 130.00px,#00a353 131.00px,#00a248 131.25px,#00a248 143.00px,#00a353 143.25px,#00a353 144.25px,#00a55d 144.50px,#00a55d 145.50px,#00a668 145.75px,#00a668 147.00px,#00a773 147.25px,#00a773 147.50px,#00a97d 147.75px,#00a97d 148.00px,#00aa88 148.25px,#00a8af 156.25px,#00a3bf 159.50px,#009cd3 160.00px,#009bd7 162.75px,#009adb 163.75px,#0098dd 165.50px,#0085dd 165.75px,#0078dd 168.00px,#0070dd 168.25px,#0070dd 168.50px,#0067dd 168.75px,#0067dd 169.00px,#005ddd 169.25px,#001cdd 169.50px,#0013dd 169.75px,#0013dd 171.25px,#0009dd 171.50px,#0009dd 173.75px,#0000dd 174.00px,#0000dd 176.25px,#0000d9 177.25px,#0000d9 178.75px,#0000d5 179.75px,#0000d5 181.00px,#0000d1 182.00px,#0000bd 187.00px,#0300aa 187.25px,#0300aa 187.50px,#0d00a8 187.75px,#0d00a8 189.00px,#1800a7 189.25px,#1800a7 190.25px,#2300a6 190.50px,#2300a6 191.50px,#2d00a4 191.75px,#2d00a4 192.75px,#3800a3 193.00px,#3800a3 193.75px,#83009a 194.00px,#4d00a0 194.25px,#4d00a0 194.75px,#58009f 195.00px,#58009f 195.25px,#850096 195.50px,#820093 198.50px,#0098dd 198.75px,#0098dd 199.75px,#0000dd 200.00px,#0000dd 203.00px,#0098dd 203.25px,#0098dd 204.00px,#0078dd 204.25px,#0078dd 206.00px,#0098dd 206.25px,#0098dd 207.50px,#0078dd 207.75px,#0078dd 209.50px,#008add 209.75px,#008add 211.75px,#0000dd 212.00px,#0000dd 214.00px,#009fcb 214.25px,#009fcb 216.25px,#0000dd 216.50px,#0000dd 220.50px,#820093 220.75px,#820093 228.25px,#0092dd 228.50px,#0092dd 230.50px,#820093 230.75px,#7e008f 241.75px,#700080 242.25px,#700080 243.00px,#670075 243.25px,#670075 244.25px,#5d006b 244.50px,#5d006b 245.50px,#540060 245.75px,#540060 246.75px,#4b0055 247.00px,#4b0055 247.50px,#41004b 247.75px,#41004b 248.50px,#380040 248.75px,#380040 249.50px,#2f0035 249.75px,#2f0035 250.50px,#25002b 250.75px,#25002b 252.00px,#1c0020 252.25px,#1c0020 253.25px,#130015 253.50px,#130015 255.00px,#09000b 255.25px,#09000b 256.50px,#000000 256.75px,#000000 267.00px)"></div><div style="left:327.90px;top:261.86px;width:267.10px;height:17.00px;background:linear-gradient(90deg,#0098dd 0.00px,#0098dd 0.75px,#78009b 1.00px,#1c0020 1.25px,#1c0020 42.50px,#25002b 42.75px,#25002b 44.00px,#2f0035 44.25px,#2f0035 45.50px,#380040 45.75px,#380040 47.00px,#41004b 47.25px,#41004b 48.50px,#4b0055 48.75px,#4b0055 50.00px,#540060 50.25px,#540060 52.75px,#5d006b 53.00px,#5d006b 53.25px,#7b008c 53.50px,#820093 53.75px,#820093 61.00px,#78009b 61.25px,#0000b9 61.50px,#0000d1 64.00px,#0000dd 65.25px,#0013dd 65.50px,#0025dd 66.00px,#0038dd 66.25px,#0054dd 67.00px,#0054dd 67.25px,#0067dd 67.75px,#0067dd 68.00px,#0078dd 68.50px,#008add 71.50px,#009adb 76.00px,#009cd3 79.00px,#009fcb 81.00px,#009fcb 81.25px,#00a7b3 81.75px,#00a7b3 85.50px,#00a8af 86.50px,#00a8af 89.50px,#00aaab 90.50px,#00aaa5 105.50px,#00aaa5 110.25px,#00aa9d 117.50px,#00aa88 125.00px,#00a97d 125.25px,#00a97d 126.00px,#00a773 126.25px,#00a773 127.00px,#00a668 127.25px,#00a668 128.25px,#00a55d 128.50px,#00a55d 129.75px,#00a353 130.00px,#00a353 131.00px,#00a248 131.25px,#00a248 143.00px,#00a353 143.25px,#00a353 144.25px,#00a55d 144.50px,#00a55d 145.50px,#00a668 145.75px,#00a668 147.00px,#00a773 147.25px,#00a773 147.50px,#00a97d 147.75px,#00a97d 148.00px,#00aa88 148.25px,#00a8af 156.25px,#00a3bf 159.50px,#009cd3 160.00px,#009bd7 162.75px,#009adb 163.75px,#0098dd 165.50px,#0085dd 165.75px,#0078dd 168.00px,#0070dd 168.25px,#0070dd 168.50px,#0067dd 168.75px,#0067dd 169.00px,#005ddd 169.25px,#001cdd 169.50px,#0013dd 169.75px,#0013dd 171.25px,#0009dd 171.50px,#0009dd 173.75px,#0000dd 174.00px,#0000dd 176.25px,#0000d9 177.25px,#0000d9 178.75px,#0000d5 179.75px,#0000d5 181.00px,#0000d1 182.00px,#0000bd 187.00px,#0300aa 187.25px,#0300aa 187.50px,#0d00a8 187.75px,#0d00a8 189.00px,#1800a7 189.25px,#1800a7 190.25px,#2300a6 190.50px,#2300a6 191.50px,#2d00a4 191.75px,#2d00a4 192.75px,#3800a3 193.00px,#3800a3 193.75px,#83009a 194.00px,#4d00a0 194.25px,#4d00a0 194.75px,#58009f 195.00px,#58009f 195.25px,#850096 195.50px,#820093 198.50px,#0098dd 198.75px,#0098dd 199.75px,#0000dd 200.00px,#0000dd 203.00px,#0098dd 203.25px,#0098dd 204.00px,#0078dd 204.25px,#0078dd 206.00px,#0098dd 206.25px,#0098dd 207.50px,#0078dd 207.75px,#0078dd 209.50px,#008add 209.75px,#008add 211.75px,#0000dd 212.00px,#0000dd 214.00px,#009fcb 214.25px,#009fcb 216.25px,#0000dd 216.50px,#0000dd 220.50px,#820093 220.75px,#820093 228.25px,#0000dd 228.50px,#0000dd 230.50px,#820093 230.75px,#7e008f 241.75px,#700080 242.25px,#700080 243.00px,#670075 243.25px,#670075 244.25px,#5d006b 244.50px,#5d006b 245.50px,#540060 245.75px,#540060 246.75px,#4b0055 247.00px,#4b0055 247.50px,#41004b 247.75px,#41004b 248.50px,#380040 248.75px,#380040 249.50px,#2f0035 249.75px,#2f0035 250.50px,#25002b 250.75px,#25002b 252.00px,#1c0020 252.25px,#1c0020 253.25px,#130015 253.50px,#130015 255.00px,#09000b 255.25px,#09000b 256.50px,#000000 256.75px,#000000 267.00px)"></div><div style="left:327.90px;top:278.57px;width:267.10px;height:17.00px;background:linear-gradient(90deg,#0098dd 0.00px,#0098dd 0.75px,#78009b 1.00px,#1c0020 1.25px,#1c0020 42.50px,#25002b 42.75px,#25002b 44.00px,#2f0035 44.25px,#2f0035 45.50px,#380040 45.75px,#380040 47.00px,#41004b 47.25px,#41004b 48.50px,#4b0055 48.75px,#4b0055 50.00px,#540060 50.25px,#540060 52.75px,#5d006b 53.00px,#5d006b 53.25px,#7b008c 53.50px,#820093 53.75px,#820093 61.00px,#78009b 61.25px,#0000b9 61.50px,#0000d1 64.00px,#0000dd 65.25px,#0013dd 65.50px,#0025dd 66.00px,#0038dd 66.25px,#0054dd 67.00px,#0054dd 67.25px,#0067dd 67.75px,#0067dd 68.00px,#0078dd 68.50px,#008add 71.50px,#009adb 76.00px,#009cd3 79.00px,#009fcb 81.00px,#009fcb 81.25px,#00a7b3 81.75px,#00a7b3 85.50px,#00a8af 86.50px,#00a8af 89.50px,#00aaab 90.50px,#00aaa5 105.50px,#00aaa5 110.25px,#00aa9d 117.50px,#00aa8b 124.00px,#00a668 124.25px,#00a55d 124.50px,#00a55d 125.25px,#00a353 125.50px,#00a353 126.25px,#00a248 126.50px,#00a248 127.25px,#00a13d 127.50px,#00a13d 128.50px,#009f33 128.75px,#009f33 129.75px,#009e28 130.00px,#009e28 131.25px,#009d1d 131.50px,#009d1d 142.75px,#009e28 143.00px,#009e28 144.00px,#009f33 144.25px,#009f33 145.50px,#00a13d 145.75px,#00a13d 146.00px,#00a668 146.25px,#00a668 147.00px,#00a773 147.25px,#00a773 147.50px,#00a97d 147.75px,#00a97d 148.00px,#00aa88 148.25px,#00a8af 156.25px,#00a3bf 159.50px,#009cd3 160.00px,#009bd7 162.75px,#009adb 163.75px,#0098dd 165.50px,#0085dd 165.75px,#0078dd 168.00px,#0070dd 168.25px,#0070dd 168.50px,#0067dd 168.75px,#0067dd 169.00px,#005ddd 169.25px,#001cdd 169.50px,#0013dd 169.75px,#0013dd 171.25px,#0009dd 171.50px,#0009dd 173.75px,#0000dd 174.00px,#0000dd 176.25px,#0000d9 177.25px,#0000d9 178.75px,#0000d5 179.75px,#0000d5 181.00px,#0000d1 182.00px,#0000bd 187.00px,#0300aa 187.25px,#0300aa 187.50px,#0d00a8 187.75px,#0d00a8 189.00px,#1800a7 189.25px,#1800a7 190.25px,#2300a6 190.50px,#2300a6 191.50px,#2d00a4 191.75px,#2d00a4 192.75px,#3800a3 193.00px,#3800a3 193.75px,#83009a 194.00px,#4d00a0 194.25px,#4d00a0 194.75px,#58009f 195.00px,#58009f 195.25px,#850096 195.50px,#820093 198.50px,#0098dd 198.75px,#0098dd 199.75px,#0000dd 200.00px,#0000dd 203.00px,#0098dd 203.25px,#0098dd 204.00px,#0078dd 204.25px,#0078dd 206.00px,#0098dd 206.25px,#0098dd 207.50px,#0078dd 207.75px,#0078dd 209.50px,#008add 209.75px,#008add 211.75px,#0000dd 212.00px,#0000dd 214.00px,#009fcb 214.25px,#009fcb 216.25px,#0000dd 216.50px,#0000dd 220.50px,#820093 220.75px,#820093 228.25px,#0000dd 228.50px,#0000dd 230.50px,#820093 230.75px,#7e008f 241.75px,#700080 242.25px,#700080 243.00px,#670075 243.25px,#670075 244.25px,#5d006b 244.50px,#5d006b 245.50px,#540060 245.75px,#540060 246.75px,#4b0055 247.00px,#4b0055 247.50px,#41004b 247.75px,#41004b 248.50px,#380040 248.75px,#380040 249.50px,#2f0035 249.75px,#2f0035 250.50px,#25002b 250.75px,#25002b 252.00px,#1c0020 252.25px,#1c0020 253.25px,#130015 253.50px,#130015 255.00px,#09000b 255.25px,#09000b 256.50px,#000000 256.75px,#000000 267.00px)"></div><div style="left:327.90px;top:295.27px;width:267.10px;height:17.00px;background:linear-gradient(90deg,#0098dd 0.00px,#0098dd 0.75px,#78009b 1.00px,#1c0020 1.25px,#1c0020 42.50px,#25002b 42.75px,#25002b 44.00px,#2f0035 44.25px,#2f0035 45.50px,#380040 45.75px,#380040 47.00px,#41004b 47.25px,#41004b 48.50px,#4b0055 48.75px,#4b0055 50.00px,#540060 50.25px,#540060 52.75px,#5d006b 53.00px,#5d006b 53.25px,#7b008c 53.50px,#820093 53.75px,#820093 61.00px,#78009b 61.25px,#0000b9 61.50px,#0000d1 64.00px,#0000dd 65.25px,#0013dd 65.50px,#0025dd 66.00px,#0038dd 66.25px,#0054dd 67.00px,#0054dd 67.25px,#0067dd 67.75px,#0067dd 68.00px,#0078dd 68.50px,#008add 71.50px,#009adb 76.00px,#009cd3 79.00px,#009fcb 81.00px,#009fcb 81.25px,#00a7b3 81.75px,#00a7b3 85.50px,#00a8af 86.50px,#00a8af 89.50px,#00aaab 90.50px,#00aaa5 105.50px,#00aaa5 110.25px,#00aaa3 112.50px,#009d1d 112.75px,#009d1d 113.25px,#00aaa3 113.50px,#00aa9b 118.50px,#00aa93 121.00px,#00aa88 125.00px,#00a97d 125.25px,#00a97d 126.00px,#00a773 126.25px,#00a773 127.00px,#00a668 127.25px,#00a668 128.25px,#00a55d 128.50px,#00a55d 129.75px,#00a353 130.00px,#00a353 131.00px,#00a248 131.25px,#00a248 143.00px,#00a353 143.25px,#00a353 144.25px,#00a55d 144.50px,#00a55d 145.50px,#00a668 145.75px,#00a668 147.00px,#00a773 147.25px,#00a773 147.50px,#00a97d 147.75px,#00a97d 148.00px,#00aa88 148.25px,#00a8af 156.25px,#00a3bf 159.50px,#009cd3 160.00px,#009bd7 162.75px,#009adb 163.75px,#0098dd 165.50px,#0085dd 165.75px,#0078dd 168.00px,#0070dd 168.25px,#0070dd 168.50px,#0067dd 168.75px,#0067dd 169.00px,#005ddd 169.25px,#001cdd 169.50px,#0013dd 169.75px,#0013dd 171.25px,#0009dd 171.50px,#0009dd 173.75px,#0000dd 174.00px,#0000dd 176.25px,#0000d9 177.25px,#0000d9 178.75px,#0000d5 179.75px,#0000d5 181.00px,#0000d1 182.00px,#0000bd 187.00px,#0300aa 187.25px,#0300aa 187.50px,#0d00a8 187.75px,#0d00a8 189.00px,#1800a7 189.25px,#1800a7 190.25px,#2300a6 190.50px,#2300a6 191.50px,#2d00a4 191.75px,#2d00a4 192.75px,#3800a3 193.00px,#3800a3 193.75px,#83009a 194.00px,#4d00a0 194.25px,#4d00a0 194.75px,#58009f 195.00px,#58009f 195.25px,#850096 195.50px,#820093 198.50px,#0098dd 198.75px,#0098dd 199.75px,#0000dd 200.00px,#0000dd 203.00px,#0098dd 203.25px,#0098dd 204.00px,#0078dd 204.25px,#0078dd 206.00px,#0098dd 206.25px,#0098dd 207.50px,#0078dd 207.75px,#0078dd 209.50px,#008add 209.75px,#008add 211.75px,#0000dd 212.00px,#0000dd 214.00px,#009fcb 214.25px,#009fcb 216.25px,#0000dd 216.50px,#0000dd 220.50px,#820093 220.75px,#820093 228.25px,#0092dd 228.50px,#0092dd 230.50px,#820093 230.75px,#7e008f 241.75px,#700080 242.25px,#700080 243.00px,#670075 243.25px,#670075 244.25px,#5d006b 244.50px,#5d006b 245.50px,#540060 245.75px,#540060 246.75px,#4b0055 247.00px,#4b0055 247.50px,#41004b 247.75px,#41004b 248.50px,#380040 248.75px,#380040 249.50px,#2f0035 249.75px,#2f0035 250.50px,#25002b 250.75px,#25002b 252.00px,#1c0020 252.25px,#1c0020 253.25px,#130015 253.50px,#130015 255.00px,#09000b 255.25px,#09000b 256.50px,#000000 256.75px,#000000 267.00px)"></div><div style="left:327.90px;top:311.98px;width:267.10px;height:17.00px;background:linear-gradient(90deg,#0098dd 0.00px,#0098dd 0.75px,#78009b 1.00px,#1c0020 1.25px,#1c0020 42.50px,#25002b 42.75px,#25002b 44.00px,#2f0035 44.25px,#2f0035 45.50px,#380040 45.75px,#380040 47.00px,#41004b 47.25px,#41004b 48.50px,#4b0055 48.75px,#4b0055 50.00px,#540060 50.25px,#540060 52.75px,#5d006b 53.00px,#5d006b 53.25px,#7b008c 53.50px,#820093 53.75px,#820093 61.00px,#78009b 61.25px,#0000b9 61.50px,#0000d1 64.00px,#0000dd 65.25px,#0013dd 65.50px,#0025dd 66.00px,#0038dd 66.25px,#0054dd 67.00px,#0054dd 67.25px,#0067dd 67.75px,#0067dd 68.00px,#0078dd 68.50px,#008add 71.50px,#009adb 76.00px,#009cd3 79.00px,#009fcb 81.00px,#009fcb 81.25px,#00a7b3 81.75px,#00a7b3 85.50px,#00a8af 86.50px,#00a8af 89.50px,#00aaab 90.50px,#00aaa5 105.50px,#00aaa5 109.50px,#009d1d 109.75px,#009d1d 110.25px,#00aaa3 110.50px,#00aaa0 116.50px,#00aa8b 124.00px,#00a668 124.25px,#00a55d 124.50px,#00a55d 125.25px,#00a353 125.50px,#00a353 126.25px,#00a248 126.50px,#00a248 127.25px,#00a13d 127.50px,#00a13d 128.50px,#009f33 128.75px,#009f33 129.75px,#009e28 130.00px,#009e28 131.25px,#009d1d 131.50px,#009d1d 142.75px,#009e28 143.00px,#009e28 144.00px,#009f33 144.25px,#009f33 145.50px,#00a13d 145.75px,#00a13d 146.00px,#00a668 146.25px,#00a668 147.00px,#00a773 147.25px,#00a773 147.50px,#00a97d 147.75px,#00a97d 148.00px,#00aa88 148.25px,#00a8af 156.25px,#00a3bf 159.50px,#009cd3 160.00px,#009bd7 162.75px,#009adb 163.75px,#0098dd 165.50px,#0085dd 165.75px,#0078dd 168.00px,#0070dd 168.25px,#0070dd 168.50px,#0067dd 168.75px,#0067dd 169.00px,#005ddd 169.25px,#001cdd 169.50px,#0013dd 169.75px,#0013dd 171.25px,#0009dd 171.50px,#0009dd 173.75px,#0000dd 174.00px,#0000dd 176.25px,#0000d9 177.25px,#0000d9 178.75px,#0000d5 179.75px,#0000d5 181.00px,#0000d1 182.00px,#0000bd 187.00px,#0300aa 187.25px,#0300aa 187.50px,#0d00a8 187.75px,#0d00a8 189.00px,#1800a7 189.25px,#1800a7 190.25px,#2300a6 190.50px,#2300a6 191.50px,#2d00a4 191.75px,#2d00a4 192.75px,#3800a3 193.00px,#3800a3 193.75px,#83009a 194.00px,#4d00a0 194.25px,#4d00a0 194.75px,#58009f 195.00px,#58009f 195.25px,#850096 195.50px,#820093 198.50px,#0098dd 198.75px,#0098dd 199.75px,#0000dd 200.00px,#0000dd 203.00px,#0098dd 203.25px,#0098dd 204.00px,#0078dd 204.25px,#0078dd 206.00px,#0098dd 206.25px,#0098dd 207.50px,#0078dd 207.75px,#0078dd 209.50px,#008add 209.75px,#008add 211.75px,#0000dd 212.00px,#0000dd 214.00px,#009fcb 214.25px,#009fcb 216.25px,#0000dd 216.50px,#0000dd 220.50px,#820093 220.75px,#820093 228.25px,#0000dd 228.50px,#0000dd 230.50px,#820093 230.75px,#7e008f 241.75px,#700080 242.25px,#700080 243.00px,#670075 243.25px,#670075 244.25px,#5d006b 244.50px,#5d006b 245.50px,#540060 245.75px,#540060 246.75px,#4b0055 247.00px,#4b0055 247.50px,#41004b 247.75px,#41004b 248.50px,#380040 248.75px,#380040 249.50px,#2f0035 249.75px,#2f0035 250.50px,#25002b 250.75px,#25002b 252.00px,#1c0020 252.25px,#1c0020 253.25px,#130015 253.50px,#130015 255.00px,#09000b 255.25px,#09000b 256.50px,#000000 256.75px,#000000 267.00px)"></div><div style="left:327.90px;top:328.68px;width:267.10px;height:17.00px;background:linear-gradient(90deg,#0098dd 0.00px,#0098dd 0.75px,#78009b 1.00px,#1c0020 1.25px,#1c0020 42.50px,#25002b 42.75px,#25002b 44.00px,#2f0035 44.25px,#2f0035 45.50px,#380040 45.75px,#380040 47.00px,#41004b 47.25px,#41004b 48.50px,#4b0055 48.75px,#4b0055 50.00px,#540060 50.25px,#540060 52.75px,#5d006b 53.00px,#5d006b 53.25px,#7b008c 53.50px,#820093 53.75px,#820093 61.00px,#78009b 61.25px,#0000b9 61.50px,#0000d1 64.25px,#0000dd 65.50px,#0009dd 65.75px,#001cdd 66.00px,#0054dd 67.50px,#0054dd 67.75px,#0067dd 68.25px,#0067dd 68.50px,#0078dd 69.00px,#0088dd 71.75px,#009adb 76.75px,#009bd7 78.75px,#009cd3 79.75px,#009fcb 82.00px,#009fcb 82.25px,#00a7b3 82.75px,#00a7b3 86.25px,#00a8af 87.25px,#00a8af 90.25px,#00aaab 91.25px,#00aaa5 105.50px,#00aaa5 110.25px,#00aa9d 117.50px,#00aa88 125.00px,#00a97d 125.25px,#00a97d 126.00px,#00a773 126.25px,#00a773 127.00px,#00a668 127.25px,#00a668 128.25px,#00a55d 128.50px,#00a55d 129.75px,#00a353 130.00px,#00a353 131.00px,#00a248 131.25px,#00a248 143.00px,#00a353 143.25px,#00a353 144.25px,#00a55d 144.50px,#00a55d 145.50px,#00a668 145.75px,#00a668 147.00px,#00a773 147.25px,#00a773 147.50px,#00a97d 147.75px,#00a97d 148.00px,#00aa88 148.25px,#00a8af 156.25px,#00a3bf 159.50px,#009cd3 160.00px,#009bd7 162.75px,#009adb 163.75px,#0098dd 165.50px,#0085dd 165.75px,#0078dd 168.00px,#0070dd 168.25px,#0070dd 168.50px,#0067dd 168.75px,#0067dd 169.00px,#005ddd 169.25px,#001cdd 169.50px,#0013dd 169.75px,#0013dd 171.25px,#0009dd 171.50px,#0009dd 173.75px,#0000dd 174.00px,#0000dd 176.25px,#0000d9 177.25px,#0000d9 178.75px,#0000d5 179.75px,#0000d5 181.00px,#0000d1 182.00px,#0000bd 187.00px,#0300aa 187.25px,#0300aa 187.50px,#0d00a8 187.75px,#0d00a8 189.00px,#1800a7 189.25px,#1800a7 190.25px,#2300a6 190.50px,#2300a6 191.50px,#2d00a4 191.75px,#2d00a4 192.75px,#3800a3 193.00px,#3800a3 193.75px,#83009a 194.00px,#4d00a0 194.25px,#4d00a0 194.75px,#58009f 195.00px,#58009f 195.25px,#850096 195.50px,#820093 198.50px,#0098dd 198.75px,#0098dd 199.75px,#0000dd 200.00px,#0000dd 203.00px,#0098dd 203.25px,#0098dd 204.00px,#0078dd 204.25px,#0078dd 206.00px,#0098dd 206.25px,#0098dd 207.50px,#0078dd 207.75px,#0078dd 209.50px,#008add 209.75px,#008add 211.75px,#0000dd 212.00px,#0000dd 214.00px,#009fcb 214.25px,#009fcb 216.25px,#0000dd 216.50px,#0000dd 220.50px,#820093 220.75px,#820093 228.25px,#0000dd 228.50px,#0000dd 230.50px,#820093 230.75px,#7e008f 241.75px,#700080 242.25px,#700080 243.00px,#670075 243.25px,#670075 244.25px,#5d006b 244.50px,#5d006b 245.50px,#540060 245.75px,#540060 246.75px,#4b0055 247.00px,#4b0055 247.50px,#41004b 247.75px,#41004b 248.50px,#380040 248.75px,#380040 249.50px,#2f0035 249.75px,#2f0035 250.50px,#25002b 250.75px,#25002b 252.00px,#1c0020 252.25px,#1c0020 253.25px,#130015 253.50px,#130015 255.00px,#09000b 255.25px,#09000b 256.50px,#000000 256.75px,#000000 267.00px)"></div><div style="left:327.90px;top:345.39px;width:267.10px;height:17.00px;background:linear-gradient(90deg,#7a008b 0.00px,#7a008b 0.75px,#540060 1.00px,#1c0020 1.25px,#1c0020 61.50px,#2f0035 61.75px,#2f0035 69.75px,#380040 70.00px,#380040 79.00px,#41004b 79.25px,#41004b 171.00px,#2f0035 171.25px,#2f0035 236.75px,#1c0020 237.25px,#1c0020 240.50px,#130015 240.75px,#130015 246.00px,#09000b 246.25px,#09000b 248.75px,#000000 249.00px,#000000 267.00px)"></div><div style="left:327.90px;top:362.09px;width:267.10px;height:17.00px;background:linear-gradient(90deg,#7a008b 0.00px,#7a008b 0.75px,#540060 1.00px,#1c0020 1.25px,#1c0020 82.00px,#25002b 82.25px,#25002b 236.75px,#130015 237.25px,#130015 242.50px,#09000b 242.75px,#09000b 251.25px,#000000 251.50px,#000000 267.00px)"></div><div style="left:327.90px;top:378.80px;width:267.10px;height:17.00px;background:linear-gradient(90deg,#7a008b 0.00px,#7a008b 0.75px,#540060 1.00px,#1c0020 1.25px,#1c0020 43.00px,#41004b 43.25px,#4b0055 43.50px,#4b0055 44.00px,#540060 44.25px,#540060 44.75px,#5d006b 45.00px,#5d006b 45.50px,#670075 45.75px,#670075 46.00px,#700080 46.25px,#700080 46.75px,#7f0090 47.00px,#830094 51.50px,#3800a3 51.75px,#1800a7 52.00px,#0000b1 52.25px,#0000dd 53.25px,#0000dd 55.25px,#0078dd 55.50px,#009adb 55.75px,#009bd7 56.75px,#00a2c3 59.75px,#00a3bf 60.25px,#00a55d 60.50px,#00bc00 60.75px,#00fa00 71.50px,#00ff00 82.50px,#0fff00 82.75px,#0fff00 104.25px,#00ff00 104.50px,#00f700 136.75px,#00cf00 147.50px,#00c200 151.75px,#00a400 162.75px,#009a00 165.50px,#009a08 165.75px,#009a08 166.00px,#009b13 166.25px,#009b13 166.75px,#009d1d 167.00px,#009d1d 167.25px,#009e28 167.50px,#00a13d 167.75px,#00aa88 169.50px,#00aaa8 173.75px,#00a8af 174.00px,#009fcb 174.25px,#009fcb 175.25px,#009ecf 176.25px,#009adb 179.75px,#008add 186.75px,#0078dd 189.00px,#0070dd 189.25px,#0070dd 189.50px,#005ddd 190.00px,#005ddd 190.25px,#0054dd 190.50px,#0054dd 190.75px,#004bdd 191.00px,#004bdd 191.25px,#0041dd 191.50px,#0041dd 191.75px,#0038dd 192.00px,#0038dd 192.50px,#002fdd 192.75px,#002fdd 193.00px,#0025dd 193.25px,#0025dd 193.50px,#001cdd 193.75px,#001cdd 194.00px,#0013dd 194.25px,#0013dd 195.50px,#0009dd 195.75px,#0009dd 197.25px,#0000dd 197.50px,#0000dd 198.50px,#0098dd 198.75px,#0098dd 199.75px,#0000dd 200.00px,#0000dd 203.00px,#0098dd 203.25px,#0098dd 204.00px,#007ddd 204.25px,#007ddd 211.75px,#0000dd 212.00px,#0000dd 214.00px,#0098dd 214.25px,#0098dd 215.00px,#0000dd 215.25px,#0000dd 219.50px,#2300a6 219.75px,#2300a6 226.25px,#2d00a4 226.50px,#2d00a4 234.50px,#3800a3 234.75px,#3800a3 240.25px,#78009b 240.50px,#820093 240.75px,#7e008f 248.25px,#700080 248.75px,#700080 249.00px,#670075 249.25px,#670075 249.75px,#5d006b 250.00px,#5d006b 250.50px,#540060 250.75px,#540060 251.00px,#4b0055 251.25px,#4b0055 251.75px,#41004b 252.00px,#41004b 252.50px,#380040 252.75px,#380040 253.50px,#2f0035 253.75px,#2f0035 254.25px,#25002b 254.50px,#25002b 255.00px,#1c0020 255.25px,#1c0020 256.00px,#130015 256.25px,#130015 257.25px,#09000b 257.50px,#09000b 258.75px,#000000 259.00px,#000000 267.00px)"></div></div>
<svg width="640" height="440" viewBox="0 0 640 440"><defs><clipPath id="clipL"><rect x="47.9" y="28" width="267.1" height="368"/></clipPath></defs>
<g fill="none" stroke="#fff" stroke-width="2.1" stroke-linejoin="round" stroke-linecap="round"><polygon points="248.0,268.0 249.5,228.0 252.0,225.0 254.0,215.0 256.0,205.0 258.0,200.0 260.0,205.0 262.0,228.0 264.0,232.0 264.0,265.0 260.0,262.0 256.0,268.0 252.0,266.0" fill="#fff" stroke="#fff" stroke-width="1.5"/><polyline points="49.5,301.2 50.5,301.2 51.5,301.2 52.5,301.2 53.5,301.2 54.5,301.2 55.5,301.2 56.5,301.2 57.5,301.2 58.5,301.2 59.5,301.2 60.5,301.2 61.5,301.2 62.5,301.2 63.5,301.2 64.5,301.2 65.5,301.2 66.5,301.2 67.5,301.2 68.5,301.2 69.5,301.2 70.5,301.2 71.5,301.2 72.5,301.2 73.5,301.2 74.5,301.2 75.5,301.2 76.5,301.2 77.5,301.2 78.5,301.2 79.5,301.2 80.5,301.2 81.5,301.2 82.5,301.2 83.5,301.2 84.5,301.2 85.5,301.2 86.5,301.2 87.5,301.2 88.5,301.2 89.5,301.2 90.5,301.2 91.5,301.2 92.5,301.2 93.5,301.2 94.5,301.2 95.0,301.2 95.5,301.0 96.5,300.6 97.5,300.2 98.0,300.0 98.5,299.8 99.0,299.3 99.5,298.5 100.5,297.0 100.7,296.7 101.5,295.6 102.0,293.9 102.5,292.0 103.0,290.0 103.5,288.1 104.0,286.1 104.5,283.5 105.2,279.8 105.5,278.3 106.4,273.6 106.5,273.3 107.5,268.9 108.5,264.5 109.5,259.0 109.8,257.0 110.5,253.5 111.5,248.3 112.0,245.7 112.5,243.2 113.5,239.2 114.3,236.5 114.5,236.2 115.5,233.8 116.5,230.1 117.5,227.7 117.7,226.6 118.5,223.6 119.5,221.5 120.0,220.2 120.5,219.5 121.5,218.0 122.5,216.6 123.5,213.3 124.5,212.2 125.5,209.4 126.5,207.9 127.5,206.3 128.0,205.8 128.5,205.1 129.5,204.3 130.5,203.0 131.5,202.1 132.5,201.2 133.5,201.1 134.5,201.2 135.5,201.7 136.5,202.2 137.5,202.7 138.5,202.1 138.8,202.2 139.5,202.7 140.3,202.9 140.5,202.4 141.5,202.5 142.5,202.6 143.5,202.6 144.5,202.2 145.0,202.3 145.5,203.0 146.5,203.0 146.6,203.0 147.5,202.8 148.5,201.7 149.5,201.4 150.5,201.0 151.2,200.8 151.3,200.8 151.5,200.7 152.5,200.2 153.5,200.2 154.5,199.6 155.5,198.7 156.5,198.2 157.5,198.0 158.5,197.2 159.5,196.7 160.5,196.6 161.5,195.8 162.2,195.3 162.5,195.2 163.5,195.1 163.8,194.9 164.5,194.8 165.5,193.4 166.5,192.6 166.9,192.3 167.5,191.9 168.5,191.1 169.5,190.2 170.0,189.8 170.5,189.4 171.5,188.6 171.6,188.5 172.5,187.8 173.5,187.2 174.5,186.6 175.5,186.0 176.2,185.9 176.3,185.6 176.5,185.4 177.5,185.4 178.5,185.9 179.5,185.1 180.5,185.2 181.0,185.1 181.5,184.7 182.5,183.5 183.5,182.8 184.0,182.5 184.5,182.2 185.5,182.2 186.0,182.2 186.5,182.2 186.8,182.7 187.5,182.9 188.5,182.8 189.5,183.4 189.8,184.3 190.5,184.9 191.0,185.2 191.5,185.8 192.5,187.1 193.5,188.5 194.5,190.1 194.9,191.0 195.5,192.2 196.5,194.2 197.5,196.2 198.5,197.9 198.7,198.2 199.5,199.4 200.5,201.3 201.5,202.4 202.5,203.9 203.5,205.6 203.8,206.5 204.5,207.8 205.5,210.5 206.5,212.5 207.5,214.0 207.6,214.0 208.5,216.1 208.9,217.2 209.5,219.2 210.5,222.3 211.5,224.7 212.5,226.7 213.5,228.5 214.0,229.6 214.5,230.3 215.5,232.5 216.5,234.9 217.5,236.8 218.5,239.1 219.5,240.8 220.4,241.6 220.5,241.7 221.5,243.4 222.5,245.1 223.5,246.7 224.5,248.4 225.5,250.1 226.5,251.7 227.5,253.3 228.0,253.9 228.5,254.5 229.3,255.5 229.5,255.8 230.5,257.2 231.5,259.0 232.5,260.3 233.5,261.9 234.5,262.8 235.5,264.0 236.5,265.2 237.5,266.0 238.2,266.7 238.5,267.2 239.4,268.3 239.5,268.4 240.5,269.8 241.5,271.1 242.5,272.4 243.5,274.0 244.5,275.3 245.5,276.0 245.8,275.9"/><polyline points="49.5,301.2 50.5,301.2 51.5,301.2 52.5,301.2 53.5,301.2 54.5,301.2 55.5,301.2 56.5,301.2 57.5,301.2 58.5,301.2 59.5,301.2 60.5,301.2 61.5,301.2 62.5,301.2 63.5,301.2 64.5,301.2 65.5,301.2 66.5,301.2 67.5,301.2 68.5,301.2 69.5,301.2 70.5,301.2 71.5,301.2 72.5,301.2 73.5,301.2 74.5,301.2 75.5,301.2 76.5,301.2 77.5,301.2 78.5,301.2 79.5,301.2 80.5,301.2 81.5,301.2 82.5,301.2 83.5,301.2 84.5,301.2 85.5,301.2 86.5,301.2 87.5,301.2 88.5,301.2 89.5,301.2 90.5,301.2 91.5,301.2 92.5,301.2 93.5,301.2 94.5,301.2 95.0,301.2 95.5,301.0 96.5,300.6 97.5,300.2 98.0,300.0 98.5,299.8 99.0,299.3 99.5,298.5 100.5,297.1 100.7,296.9 101.5,295.8 102.0,294.5 102.5,292.7 103.0,291.0 103.5,288.9 104.0,286.7 104.5,283.9 105.2,280.3 105.5,278.9 106.4,274.8 106.5,274.8 107.5,270.1 108.5,264.9 109.5,259.9 109.8,257.9 110.5,254.2 111.5,249.1 112.0,246.7 112.5,245.0 113.5,240.7 114.3,237.9 114.5,237.3 115.5,233.8 116.5,230.1 117.5,227.2 117.7,226.0 118.5,224.2 119.5,222.7 120.0,222.0 120.5,220.5 121.5,219.4 122.5,216.8 123.5,214.8 124.5,213.0 125.5,210.9 126.5,208.8 127.5,208.5 128.0,208.4 128.5,207.3 129.5,207.6 130.5,207.6 131.5,206.6 132.5,205.8 133.5,204.9 134.5,204.6 135.5,204.3 136.5,204.0 137.5,204.0 138.5,203.9 138.8,204.1 139.5,204.2 140.3,203.8 140.5,203.2 141.5,203.9 142.5,203.4 143.5,203.5 144.5,203.7 145.0,204.2 145.5,204.6 146.5,204.5 146.6,203.8 147.5,204.0 148.5,203.4 149.5,203.1 150.5,203.1 151.2,203.6 151.3,203.2 151.5,203.2 152.5,201.9 153.5,201.1 154.5,199.7 155.5,198.8 156.5,198.6 157.5,198.0 158.5,197.5 159.5,197.8 160.5,197.8 161.5,197.2 162.2,197.0 162.5,197.0 163.5,196.1 163.8,196.2 164.5,195.3 165.5,194.7 166.5,193.9 166.9,193.8 167.5,192.8 168.5,191.9 169.5,191.4 170.0,190.9 170.5,190.6 171.5,189.6 171.6,189.5 172.5,188.9 173.5,189.1 174.5,188.0 175.5,188.0 176.2,188.2 176.3,188.1 176.5,188.1 177.5,188.3 178.5,187.1 179.5,187.0 180.5,186.6 181.0,186.4 181.5,185.6 182.5,185.2 183.5,183.8 184.0,183.5 184.5,182.3 185.5,182.7 186.0,183.2 186.5,183.9 186.8,184.3 187.5,184.7 188.5,185.2 189.5,185.3 189.8,185.8 190.5,186.5 191.0,186.9 191.5,186.8 192.5,187.7 193.5,188.5 194.5,190.1 194.9,191.0 195.5,192.2 196.5,194.4 197.5,196.6 198.5,198.5 198.7,199.0 199.5,200.5 200.5,201.9 201.5,203.5 202.5,205.1 203.5,206.9 203.8,207.9 204.5,209.0 205.5,211.4 206.5,212.8 207.5,215.1 207.6,214.3 208.5,216.9 208.9,217.1 209.5,219.4 210.5,222.1 211.5,225.3 212.5,228.0 213.5,230.3 214.0,230.6 214.5,231.0 215.5,232.9 216.5,234.9 217.5,237.5 218.5,240.0 219.5,242.4 220.4,244.3 220.5,244.0 221.5,245.1 222.5,246.2 223.5,247.4 224.5,248.9 225.5,250.4 226.5,252.1 227.5,254.1 228.0,254.9 228.5,255.6 229.3,256.7 229.5,257.2 230.5,258.0 231.5,259.7 232.5,260.5 233.5,261.8 234.5,263.0 235.5,264.6 236.5,265.3 237.5,266.7 238.2,267.9 238.5,268.0 239.4,268.9 239.5,269.2 240.5,270.6 241.5,271.7 242.5,273.2 243.5,274.5 244.5,275.8 245.5,276.4 245.8,276.5"/><polyline points="49.5,301.2 50.5,301.2 51.5,301.2 52.5,301.2 53.5,301.2 54.5,301.2 55.5,301.2 56.5,301.2 57.5,301.2 58.5,301.2 59.5,301.2 60.5,301.2 61.5,301.2 62.5,301.2 63.5,301.2 64.5,301.2 65.5,301.2 66.5,301.2 67.5,301.2 68.5,301.2 69.5,301.2 70.5,301.2 71.5,301.2 72.5,301.2 73.5,301.2 74.5,301.2 75.5,301.2 76.5,301.2 77.5,301.2 78.5,301.2 79.5,301.2 80.5,301.2 81.5,301.2 82.5,301.2 83.5,301.2 84.5,301.2 85.5,301.2 86.5,301.2 87.5,301.2 88.5,301.2 89.5,301.2 90.5,301.2 91.5,301.2 92.5,301.2 93.5,301.2 94.5,301.2 95.0,301.2 95.5,301.0 96.5,300.6 97.5,300.2 98.0,300.0 98.5,299.8 99.0,299.3 99.5,298.6 100.5,297.3 100.7,297.0 101.5,295.9 102.0,294.4 102.5,292.7 103.0,291.0 103.5,289.3 104.0,287.4 104.5,285.2 105.2,281.7 105.5,280.6 106.4,276.0 106.5,275.4 107.5,270.8 108.5,266.2 109.5,261.3 109.8,260.2 110.5,256.7 111.5,251.3 112.0,248.8 112.5,246.4 113.5,241.2 114.3,239.2 114.5,239.4 115.5,236.0 116.5,232.8 117.5,230.9 117.7,229.5 118.5,227.1 119.5,225.7 120.0,224.6 120.5,223.7 121.5,222.8 122.5,221.0 123.5,218.2 124.5,215.8 125.5,213.9 126.5,211.9 127.5,210.9 128.0,210.2 128.5,209.9 129.5,208.3 130.5,208.0 131.5,206.4 132.5,206.5 133.5,205.6 134.5,205.5 135.5,205.5 136.5,205.3 137.5,205.2 138.5,205.7 138.8,205.7 139.5,205.0 140.3,204.9 140.5,204.2 141.5,203.8 142.5,203.6 143.5,203.5 144.5,204.0 145.0,204.7 145.5,204.3 146.5,204.5 146.6,204.6 147.5,204.5 148.5,204.1 149.5,204.2 150.5,203.9 151.2,204.3 151.3,203.8 151.5,203.9 152.5,203.6 153.5,203.2 154.5,202.1 155.5,202.1 156.5,200.9 157.5,199.9 158.5,199.4 159.5,199.1 160.5,197.8 161.5,197.9 162.2,197.5 162.5,197.6 163.5,197.4 163.8,197.3 164.5,196.7 165.5,196.7 166.5,196.2 166.9,195.8 167.5,195.5 168.5,195.0 169.5,194.5 170.0,193.9 170.5,193.8 171.5,192.7 171.6,192.8 172.5,191.2 173.5,190.6 174.5,189.4 175.5,188.8 176.2,188.5 176.3,188.7 176.5,188.7 177.5,188.6 178.5,188.3 179.5,187.1 180.5,186.5 181.0,186.3 181.5,185.9 182.5,185.4 183.5,184.7 184.0,185.2 184.5,184.5 185.5,185.1 186.0,184.8 186.5,185.3 186.8,184.6 187.5,185.5 188.5,184.9 189.5,185.9 189.8,186.4 190.5,187.3 191.0,187.7 191.5,188.3 192.5,189.8 193.5,191.0 194.5,192.6 194.9,193.6 195.5,194.5 196.5,196.3 197.5,198.0 198.5,199.7 198.7,200.0 199.5,201.7 200.5,203.5 201.5,205.0 202.5,206.4 203.5,208.4 203.8,209.1 204.5,210.4 205.5,212.8 206.5,215.7 207.5,217.7 207.6,217.4 208.5,219.6 208.9,220.8 209.5,222.0 210.5,224.0 211.5,226.6 212.5,228.3 213.5,230.5 214.0,231.7 214.5,232.6 215.5,234.1 216.5,236.2 217.5,237.8 218.5,239.8 219.5,242.0 220.4,243.8 220.5,243.9 221.5,245.6 222.5,246.9 223.5,248.4 224.5,250.1 225.5,252.0 226.5,254.0 227.5,255.4 228.0,256.0 228.5,256.9 229.3,257.7 229.5,257.7 230.5,258.9 231.5,260.3 232.5,261.6 233.5,262.9 234.5,264.3 235.5,265.6 236.5,266.8 237.5,267.5 238.2,268.3 238.5,268.8 239.4,270.0 239.5,270.2 240.5,271.6 241.5,272.8 242.5,274.0 243.5,274.9 244.5,276.1 245.5,276.8 245.8,276.9"/><polyline points="49.5,301.2 50.5,301.2 51.5,301.2 52.5,301.2 53.5,301.2 54.5,301.2 55.5,301.2 56.5,301.2 57.5,301.2 58.5,301.2 59.5,301.2 60.5,301.2 61.5,301.2 62.5,301.2 63.5,301.2 64.5,301.2 65.5,301.2 66.5,301.2 67.5,301.2 68.5,301.2 69.5,301.2 70.5,301.2 71.5,301.2 72.5,301.2 73.5,301.2 74.5,301.2 75.5,301.2 76.5,301.2 77.5,301.2 78.5,301.2 79.5,301.2 80.5,301.2 81.5,301.2 82.5,301.2 83.5,301.2 84.5,301.2 85.5,301.2 86.5,301.2 87.5,301.2 88.5,301.2 89.5,301.2 90.5,301.2 91.5,301.2 92.5,301.2 93.5,301.2 94.5,301.2 95.0,301.2 95.5,301.0 96.5,300.6 97.5,300.2 98.0,300.0 98.5,299.8 99.0,299.3 99.5,298.7 100.5,297.5 100.7,297.3 101.5,296.3 102.0,295.0 102.5,293.6 103.0,292.3 103.5,290.2 104.0,288.1 104.5,286.0 105.2,282.5 105.5,281.3 106.4,277.3 106.5,277.1 107.5,272.6 108.5,269.0 109.5,264.3 109.8,262.7 110.5,259.2 111.5,254.6 112.0,251.6 112.5,249.2 113.5,244.9 114.3,242.3 114.5,241.4 115.5,237.8 116.5,233.4 117.5,230.9 117.7,230.8 118.5,228.3 119.5,227.2 120.0,226.5 120.5,225.4 121.5,222.3 122.5,221.0 123.5,219.0 124.5,217.9 125.5,215.8 126.5,215.1 127.5,212.9 128.0,211.9 128.5,210.8 129.5,209.9 130.5,208.0 131.5,207.6 132.5,207.2 133.5,207.4 134.5,207.7 135.5,207.8 136.5,207.0 137.5,206.7 138.5,207.0 138.8,206.4 139.5,206.7 140.3,207.1 140.5,207.0 141.5,206.1 142.5,206.2 143.5,206.0 144.5,206.3 145.0,206.6 145.5,206.8 146.5,206.9 146.6,206.8 147.5,206.2 148.5,205.3 149.5,205.4 150.5,205.1 151.2,205.3 151.3,204.9 151.5,205.0 152.5,204.6 153.5,204.4 154.5,203.9 155.5,203.4 156.5,203.1 157.5,202.2 158.5,201.3 159.5,200.6 160.5,200.6 161.5,200.3 162.2,200.1 162.5,200.1 163.5,200.1 163.8,199.4 164.5,199.2 165.5,197.9 166.5,196.9 166.9,196.2 167.5,195.9 168.5,194.8 169.5,194.1 170.0,193.8 170.5,193.0 171.5,193.0 171.6,193.0 172.5,192.8 173.5,192.1 174.5,192.4 175.5,191.3 176.2,191.1 176.3,191.2 176.5,191.5 177.5,190.1 178.5,190.1 179.5,189.2 180.5,188.5 181.0,188.2 181.5,188.4 182.5,187.5 183.5,187.6 184.0,187.4 184.5,187.6 185.5,187.5 186.0,187.7 186.5,187.2 186.8,187.1 187.5,187.5 188.5,187.3 189.5,187.9 189.8,188.5 190.5,189.3 191.0,189.9 191.5,190.4 192.5,191.2 193.5,192.0 194.5,193.6 194.9,193.6 195.5,195.1 196.5,197.2 197.5,199.4 198.5,200.8 198.7,201.5 199.5,203.0 200.5,204.4 201.5,205.9 202.5,207.4 203.5,209.1 203.8,209.2 204.5,210.9 205.5,213.0 206.5,215.5 207.5,218.3 207.6,218.9 208.5,220.7 208.9,221.4 209.5,222.4 210.5,224.2 211.5,226.1 212.5,228.3 213.5,230.7 214.0,232.4 214.5,233.2 215.5,235.7 216.5,237.8 217.5,240.0 218.5,241.3 219.5,243.3 220.4,244.7 220.5,245.1 221.5,246.4 222.5,248.5 223.5,250.2 224.5,251.6 225.5,252.6 226.5,254.4 227.5,255.6 228.0,256.5 228.5,257.0 229.3,258.2 229.5,258.1 230.5,259.2 231.5,260.4 232.5,261.8 233.5,263.1 234.5,264.6 235.5,266.3 236.5,267.6 237.5,268.9 238.2,270.1 238.5,270.1 239.4,270.7 239.5,270.6 240.5,271.6 241.5,272.8 242.5,274.2 243.5,275.5 244.5,276.8 245.5,277.6 245.8,277.6"/><polyline points="49.5,301.2 50.5,301.2 51.5,301.2 52.5,301.2 53.5,301.2 54.5,301.2 55.5,301.2 56.5,301.2 57.5,301.2 58.5,301.2 59.5,301.2 60.5,301.2 61.5,301.2 62.5,301.2 63.5,301.2 64.5,301.2 65.5,301.2 66.5,301.2 67.5,301.2 68.5,301.2 69.5,301.2 70.5,301.2 71.5,301.2 72.5,301.2 73.5,301.2 74.5,301.2 75.5,301.2 76.5,301.2 77.5,301.2 78.5,301.2 79.5,301.2 80.5,301.2 81.5,301.2 82.5,301.2 83.5,301.2 84.5,301.2 85.5,301.2 86.5,301.2 87.5,301.2 88.5,301.2 89.5,301.2 90.5,301.2 91.5,301.2 92.5,301.2 93.5,301.2 94.5,301.2 95.0,301.2 95.5,301.0 96.5,300.6 97.5,300.2 98.0,300.0 98.5,299.8 99.0,299.3 99.5,298.7 100.5,297.6 100.7,297.4 101.5,296.5 102.0,295.3 102.5,293.9 103.0,292.4 103.5,290.5 104.0,288.6 104.5,286.4 105.2,283.3 105.5,282.3 106.4,278.5 106.5,278.0 107.5,273.9 108.5,270.0 109.5,265.5 109.8,264.1 110.5,261.2 111.5,256.7 112.0,254.4 112.5,251.9 113.5,246.8 114.3,243.7 114.5,243.0 115.5,240.1 116.5,235.8 117.5,233.8 117.7,233.9 118.5,231.7 119.5,229.9 120.0,229.3 120.5,228.0 121.5,226.4 122.5,223.7 123.5,220.9 124.5,219.9 125.5,218.0 126.5,215.9 127.5,214.7 128.0,214.4 128.5,213.9 129.5,212.6 130.5,210.9 131.5,210.9 132.5,210.0 133.5,209.6 134.5,210.1 135.5,210.6 136.5,209.9 137.5,210.2 138.5,209.7 138.8,209.7 139.5,209.3 140.3,209.6 140.5,209.6 141.5,208.9 142.5,208.0 143.5,208.3 144.5,207.5 145.0,206.9 145.5,206.9 146.5,207.4 146.6,207.4 147.5,207.8 148.5,207.6 149.5,207.7 150.5,207.1 151.2,206.8 151.3,205.9 151.5,206.2 152.5,206.1 153.5,205.5 154.5,204.6 155.5,204.8 156.5,203.6 157.5,202.5 158.5,202.4 159.5,202.3 160.5,201.9 161.5,202.1 162.2,202.2 162.5,202.1 163.5,201.3 163.8,200.4 164.5,200.2 165.5,199.3 166.5,197.9 166.9,198.0 167.5,197.6 168.5,196.4 169.5,196.2 170.0,195.7 170.5,195.0 171.5,194.3 171.6,195.2 172.5,194.4 173.5,194.2 174.5,194.4 175.5,194.5 176.2,193.3 176.3,193.3 176.5,193.1 177.5,191.9 178.5,191.3 179.5,190.6 180.5,190.1 181.0,190.4 181.5,189.9 182.5,189.9 183.5,189.9 184.0,189.8 184.5,189.6 185.5,189.2 186.0,188.5 186.5,188.3 186.8,188.3 187.5,188.2 188.5,189.3 189.5,190.1 189.8,190.6 190.5,191.1 191.0,191.3 191.5,191.8 192.5,193.0 193.5,194.5 194.5,195.5 194.9,196.1 195.5,196.7 196.5,197.9 197.5,199.4 198.5,201.2 198.7,201.9 199.5,203.3 200.5,205.0 201.5,206.3 202.5,207.9 203.5,209.3 203.8,210.3 204.5,212.3 205.5,215.1 206.5,217.5 207.5,219.7 207.6,219.4 208.5,221.4 208.9,221.7 209.5,222.6 210.5,225.5 211.5,228.2 212.5,230.3 213.5,233.0 214.0,234.3 214.5,235.4 215.5,237.3 216.5,239.5 217.5,241.0 218.5,243.0 219.5,245.1 220.4,246.4 220.5,246.9 221.5,249.3 222.5,250.6 223.5,251.9 224.5,253.9 225.5,254.8 226.5,256.3 227.5,257.7 228.0,258.5 228.5,259.0 229.3,260.3 229.5,260.0 230.5,261.6 231.5,262.7 232.5,263.9 233.5,265.2 234.5,266.9 235.5,267.9 236.5,268.6 237.5,269.4 238.2,270.0 238.5,270.4 239.4,271.3 239.5,271.9 240.5,273.0 241.5,274.0 242.5,274.7 243.5,275.8 244.5,276.6 245.5,277.4 245.8,277.6"/><polyline points="49.5,301.2 50.5,301.2 51.5,301.2 52.5,301.2 53.5,301.2 54.5,301.2 55.5,301.2 56.5,301.2 57.5,301.2 58.5,301.2 59.5,301.2 60.5,301.2 61.5,301.2 62.5,301.2 63.5,301.2 64.5,301.2 65.5,301.2 66.5,301.2 67.5,301.2 68.5,301.2 69.5,301.2 70.5,301.2 71.5,301.2 72.5,301.2 73.5,301.2 74.5,301.2 75.5,301.2 76.5,301.2 77.5,301.2 78.5,301.2 79.5,301.2 80.5,301.2 81.5,301.2 82.5,301.2 83.5,301.2 84.5,301.2 85.5,301.2 86.5,301.2 87.5,301.2 88.5,301.2 89.5,301.2 90.5,301.2 91.5,301.2 92.5,301.2 93.5,301.2 94.5,301.2 95.0,301.2 95.5,301.0 96.5,300.6 97.5,300.2 98.0,300.0 98.5,299.8 99.0,299.3 99.5,298.7 100.5,297.7 100.7,297.5 101.5,296.6 102.0,295.6 102.5,294.5 103.0,293.1 103.5,291.2 104.0,289.1 104.5,286.8 105.2,284.0 105.5,283.1 106.4,279.9 106.5,279.4 107.5,275.9 108.5,271.8 109.5,266.7 109.8,264.5 110.5,261.2 111.5,256.3 112.0,254.4 112.5,252.8 113.5,248.5 114.3,246.6 114.5,245.5 115.5,242.0 116.5,238.2 117.5,236.2 117.7,235.8 118.5,233.5 119.5,231.3 120.0,230.3 120.5,229.4 121.5,227.9 122.5,226.5 123.5,224.5 124.5,223.3 125.5,221.5 126.5,218.8 127.5,217.7 128.0,217.2 128.5,215.6 129.5,214.3 130.5,213.2 131.5,211.5 132.5,211.6 133.5,212.1 134.5,212.1 135.5,212.4 136.5,212.6 137.5,212.0 138.5,212.0 138.8,212.3 139.5,211.5 140.3,211.0 140.5,210.2 141.5,210.1 142.5,209.2 143.5,209.6 144.5,209.3 145.0,209.4 145.5,208.7 146.5,208.4 146.6,208.1 147.5,208.2 148.5,208.0 149.5,207.7 150.5,207.7 151.2,207.4 151.3,207.6 151.5,207.8 152.5,207.4 153.5,207.0 154.5,206.4 155.5,205.9 156.5,205.6 157.5,205.0 158.5,205.0 159.5,204.6 160.5,204.3 161.5,203.0 162.2,202.8 162.5,202.2 163.5,201.3 163.8,200.7 164.5,200.9 165.5,200.4 166.5,199.4 166.9,199.8 167.5,200.1 168.5,199.7 169.5,199.4 170.0,199.1 170.5,198.5 171.5,198.0 171.6,198.1 172.5,197.1 173.5,197.5 174.5,197.8 175.5,197.3 176.2,197.2 176.3,196.5 176.5,195.4 177.5,193.8 178.5,192.2 179.5,191.7 180.5,191.1 181.0,191.8 181.5,192.2 182.5,192.1 183.5,190.8 184.0,190.8 184.5,189.8 185.5,189.7 186.0,189.7 186.5,189.5 186.8,189.7 187.5,190.1 188.5,189.5 189.5,190.3 189.8,191.3 190.5,191.8 191.0,192.7 191.5,193.4 192.5,193.9 193.5,195.3 194.5,197.2 194.9,197.5 195.5,198.8 196.5,200.5 197.5,201.5 198.5,202.5 198.7,203.0 199.5,204.3 200.5,206.0 201.5,208.2 202.5,210.5 203.5,212.2 203.8,212.6 204.5,213.9 205.5,215.8 206.5,217.7 207.5,220.5 207.6,221.6 208.5,223.8 208.9,225.0 209.5,226.8 210.5,229.0 211.5,230.3 212.5,232.3 213.5,233.6 214.0,234.1 214.5,234.3 215.5,236.5 216.5,238.8 217.5,241.5 218.5,243.7 219.5,245.8 220.4,247.7 220.5,248.1 221.5,249.2 222.5,251.0 223.5,252.9 224.5,254.7 225.5,256.4 226.5,258.0 227.5,259.3 228.0,259.4 228.5,259.6 229.3,260.8 229.5,261.0 230.5,262.6 231.5,264.2 232.5,265.8 233.5,266.3 234.5,267.7 235.5,268.6 236.5,269.2 237.5,269.9 238.2,270.7 238.5,270.8 239.4,271.5 239.5,271.6 240.5,272.7 241.5,274.0 242.5,275.1 243.5,276.5 244.5,277.5 245.5,278.5 245.8,278.6"/><polyline points="49.5,301.2 50.5,301.2 51.5,301.2 52.5,301.2 53.5,301.2 54.5,301.2 55.5,301.2 56.5,301.2 57.5,301.2 58.5,301.2 59.5,301.2 60.5,301.2 61.5,301.2 62.5,301.2 63.5,301.2 64.5,301.2 65.5,301.2 66.5,301.2 67.5,301.2 68.5,301.2 69.5,301.2 70.5,301.2 71.5,301.2 72.5,301.2 73.5,301.2 74.5,301.2 75.5,301.2 76.5,301.2 77.5,301.2 78.5,301.2 79.5,301.2 80.5,301.2 81.5,301.2 82.5,301.2 83.5,301.2 84.5,301.2 85.5,301.2 86.5,301.2 87.5,301.2 88.5,301.2 89.5,301.2 90.5,301.2 91.5,301.2 92.5,301.2 93.5,301.2 94.5,301.2 95.0,301.2 95.5,301.0 96.5,300.6 97.5,300.2 98.0,300.0 98.5,299.8 99.0,299.3 99.5,298.8 100.5,297.9 100.7,297.7 101.5,296.7 102.0,295.7 102.5,294.9 103.0,294.0 103.5,292.2 104.0,290.8 104.5,289.2 105.2,286.3 105.5,284.8 106.4,281.9 106.5,280.9 107.5,276.4 108.5,272.4 109.5,267.2 109.8,265.7 110.5,262.6 111.5,257.9 112.0,256.1 112.5,253.8 113.5,248.7 114.3,245.8 114.5,245.0 115.5,240.8 116.5,238.4 117.5,235.8 117.7,235.9 118.5,234.3 119.5,232.4 120.0,231.0 120.5,231.4 121.5,229.9 122.5,228.5 123.5,226.8 124.5,225.3 125.5,223.2 126.5,221.4 127.5,220.3 128.0,220.9 128.5,220.4 129.5,219.0 130.5,217.5 131.5,216.3 132.5,215.4 133.5,214.7 134.5,214.5 135.5,214.5 136.5,214.1 137.5,214.0 138.5,213.1 138.8,212.6 139.5,212.7 140.3,212.8 140.5,212.1 141.5,212.2 142.5,212.9 143.5,211.7 144.5,210.7 145.0,211.0 145.5,210.5 146.5,210.0 146.6,210.4 147.5,210.7 148.5,209.8 149.5,209.3 150.5,208.8 151.2,208.3 151.3,207.8 151.5,207.9 152.5,208.0 153.5,207.1 154.5,207.1 155.5,207.4 156.5,207.4 157.5,207.0 158.5,206.8 159.5,206.2 160.5,205.1 161.5,204.1 162.2,203.6 162.5,203.7 163.5,203.4 163.8,203.2 164.5,203.4 165.5,203.3 166.5,202.2 166.9,201.6 167.5,201.8 168.5,201.5 169.5,200.1 170.0,200.9 170.5,200.4 171.5,200.2 171.6,199.1 172.5,198.4 173.5,198.0 174.5,197.8 175.5,196.6 176.2,196.4 176.3,197.1 176.5,195.7 177.5,194.8 178.5,194.1 179.5,194.1 180.5,193.6 181.0,194.2 181.5,194.6 182.5,194.4 183.5,193.7 184.0,193.2 184.5,193.0 185.5,191.6 186.0,191.6 186.5,191.5 186.8,191.8 187.5,191.8 188.5,192.4 189.5,192.2 189.8,192.6 190.5,193.4 191.0,193.7 191.5,193.9 192.5,195.8 193.5,196.9 194.5,198.3 194.9,198.6 195.5,199.4 196.5,200.1 197.5,201.7 198.5,202.9 198.7,203.5 199.5,205.2 200.5,207.4 201.5,209.3 202.5,211.2 203.5,212.7 203.8,213.5 204.5,214.9 205.5,217.5 206.5,220.3 207.5,222.6 207.6,223.1 208.5,225.4 208.9,226.0 209.5,226.5 210.5,229.1 211.5,230.9 212.5,232.9 213.5,235.2 214.0,236.8 214.5,237.7 215.5,239.6 216.5,242.1 217.5,243.9 218.5,245.8 219.5,247.4 220.4,249.7 220.5,249.3 221.5,251.0 222.5,252.4 223.5,254.3 224.5,255.4 225.5,257.3 226.5,258.9 227.5,260.3 228.0,260.5 228.5,261.0 229.3,261.6 229.5,261.3 230.5,262.2 231.5,263.8 232.5,264.8 233.5,266.0 234.5,267.6 235.5,269.2 236.5,270.1 237.5,271.7 238.2,272.3 238.5,272.6 239.4,273.2 239.5,273.4 240.5,274.3 241.5,275.7 242.5,276.4 243.5,277.5 244.5,278.3 245.5,279.0 245.8,279.2"/><polyline points="49.5,301.2 50.5,301.2 51.5,301.2 52.5,301.2 53.5,301.2 54.5,301.2 55.5,301.2 56.5,301.2 57.5,301.2 58.5,301.2 59.5,301.2 60.5,301.2 61.5,301.2 62.5,301.2 63.5,301.2 64.5,301.2 65.5,301.2 66.5,301.2 67.5,301.2 68.5,301.2 69.5,301.2 70.5,301.2 71.5,301.2 72.5,301.2 73.5,301.2 74.5,301.2 75.5,301.2 76.5,301.2 77.5,301.2 78.5,301.2 79.5,301.2 80.5,301.2 81.5,301.2 82.5,301.2 83.5,301.2 84.5,301.2 85.5,301.2 86.5,301.2 87.5,301.2 88.5,301.2 89.5,301.2 90.5,301.2 91.5,301.2 92.5,301.2 93.5,301.2 94.5,301.2 95.0,301.2 95.5,301.0 96.5,300.6 97.5,300.2 98.0,300.0 98.5,299.8 99.0,299.3 99.5,298.8 100.5,297.9 100.7,297.7 101.5,296.8 102.0,295.8 102.5,295.2 103.0,294.4 103.5,292.9 104.0,291.1 104.5,289.3 105.2,286.2 105.5,285.1 106.4,281.4 106.5,281.3 107.5,278.0 108.5,274.9 109.5,270.8 109.8,269.2 110.5,265.5 111.5,260.5 112.0,258.0 112.5,255.6 113.5,251.0 114.3,248.3 114.5,247.7 115.5,244.4 116.5,241.0 117.5,238.9 117.7,238.5 118.5,237.2 119.5,235.5 120.0,234.7 120.5,233.8 121.5,232.1 122.5,230.4 123.5,228.7 124.5,226.8 125.5,224.9 126.5,223.0 127.5,221.4 128.0,220.9 128.5,220.4 129.5,219.4 130.5,218.3 131.5,217.3 132.5,216.7 133.5,216.3 134.5,215.9 135.5,215.5 136.5,215.1 137.5,214.7 138.5,214.3 138.8,214.1 139.5,213.3 140.3,212.9 140.5,213.7 141.5,213.5 142.5,213.3 143.5,213.1 144.5,212.8 145.0,212.7 145.5,212.5 146.5,212.1 146.6,212.1 147.5,211.7 148.5,211.4 149.5,211.0 150.5,210.6 151.2,210.3 151.3,210.2 151.5,210.0 152.5,209.2 153.5,208.9 154.5,208.6 155.5,208.2 156.5,207.7 157.5,207.2 158.5,206.8 159.5,206.1 160.5,205.2 161.5,205.1 162.2,204.3 162.5,204.7 163.5,204.4 163.8,204.5 164.5,204.2 165.5,203.8 166.5,203.4 166.9,203.3 167.5,203.0 168.5,202.6 169.5,202.2 170.0,202.0 170.5,201.7 171.5,201.1 171.6,201.1 172.5,200.6 173.5,200.1 174.5,199.5 175.5,199.0 176.2,198.3 176.3,198.3 176.5,198.3 177.5,196.7 178.5,195.9 179.5,196.0 180.5,195.5 181.0,195.2 181.5,195.1 182.5,194.6 183.5,194.0 184.0,193.7 184.5,192.9 185.5,192.7 186.0,192.5 186.5,192.7 186.8,192.9 187.5,193.3 188.5,193.9 189.5,194.4 189.8,194.6 190.5,195.0 191.0,195.3 191.5,195.6 192.5,196.6 193.5,197.8 194.5,199.0 194.9,199.4 195.5,200.1 196.5,201.3 197.5,202.5 198.5,203.8 198.7,204.2 199.5,205.8 200.5,207.9 201.5,209.9 202.5,211.9 203.5,213.8 203.8,214.4 204.5,216.1 205.5,217.8 206.5,221.2 207.5,223.8 207.6,224.2 208.5,226.5 208.9,227.3 209.5,228.4 210.5,230.4 211.5,232.4 212.5,234.4 213.5,236.4 214.0,237.4 214.5,238.1 215.5,239.8 216.5,241.5 217.5,243.0 218.5,245.1 219.5,247.7 220.4,249.6 220.5,249.8 221.5,251.9 222.5,253.4 223.5,254.5 224.5,256.3 225.5,257.8 226.5,259.3 227.5,260.7 228.0,261.4 228.5,262.1 229.3,263.3 229.5,263.5 230.5,264.7 231.5,265.8 232.5,266.8 233.5,267.8 234.5,268.8 235.5,269.8 236.5,270.9 237.5,271.9 238.2,272.4 238.5,272.9 239.4,273.8 239.5,273.9 240.5,274.8 241.5,275.8 242.5,276.7 243.5,277.6 244.5,278.5 245.5,279.2 245.8,279.4"/><polyline points="48.7,171.0 48.8,299.0 50.0,301.0"/><polyline points="246.5,274.0 247.3,192.5 248.2,272.0"/><polyline points="249.5,272.0 250.5,221.0 251.5,270.0"/><polyline points="252.8,270.0 254.2,207.0 255.2,268.0"/><polyline points="256.0,272.0 257.4,191.0 258.8,268.0"/><polyline points="259.0,265.0 259.8,196.0 260.6,262.0"/><polyline points="260.5,268.0 261.5,226.0 263.0,230.0 264.5,268.0"/><polyline points="265.8,280.0 267.2,253.6 268.6,283.0"/><polyline points="240.0,271.0 246.0,275.0 248.0,276.0 252.0,274.0 256.0,273.0 260.0,274.0 264.0,277.0 267.0,283.0 269.0,287.0 272.0,289.0 275.8,290.5 276.9,199.6 277.9,199.6 279.3,291.0 280.0,292.0 290.0,298.0 300.0,305.0 315.0,305.0"/><polyline points="128.9,212.0 128.9,199.4 129.7,199.4 129.7,212.0"/><polyline points="148.0,210.0 148.0,103.1 148.8,103.1 148.8,210.0"/><polyline points="152.1,208.0 152.1,147.1 152.9,147.1 152.9,208.0"/><polyline points="160.1,203.0 160.1,191.4 160.9,191.4 160.9,203.0"/><polyline points="166.8,200.0 166.8,120.0 167.6,120.0 167.6,200.0"/></g><g fill="none" stroke="#fff" stroke-width="2.1" stroke-linejoin="round" stroke-linecap="round"><polygon points="529.0,250.0 531.0,200.0 535.0,195.0 540.0,190.0 544.0,195.0 545.0,225.0 542.0,240.0 538.0,245.0 534.0,250.0" fill="#fff" stroke="#fff" stroke-width="1.5"/><polyline points="329.0,300.0 330.0,300.0 331.0,300.0 332.0,300.0 333.0,300.0 334.0,300.0 335.0,300.0 336.0,300.0 337.0,300.0 338.0,300.0 339.0,300.0 340.0,300.0 341.0,300.0 342.0,300.0 343.0,300.0 344.0,300.0 345.0,300.0 346.0,300.0 347.0,300.0 348.0,300.0 349.0,300.0 350.0,300.0 351.0,300.0 352.0,300.0 353.0,300.0 354.0,300.0 355.0,300.0 356.0,300.0 357.0,300.0 358.0,300.0 359.0,300.0 360.0,300.0 361.0,300.0 362.0,300.0 363.0,300.0 364.0,300.0 365.0,300.0 366.0,300.0 367.0,300.0 368.0,300.0 369.0,300.0 370.0,300.0 371.0,300.0 372.0,300.0 373.0,299.6 374.0,299.3 375.0,298.9 376.0,298.6 377.0,298.0 378.0,297.1 379.0,296.2 380.0,295.4 381.0,294.3 382.0,292.6 382.5,291.8 383.0,291.0 384.0,287.6 385.0,282.6 386.0,278.1 386.2,277.2 387.0,274.0 387.5,270.8 388.0,267.7 388.8,263.5 389.0,262.0 389.5,258.8 390.0,255.7 391.0,250.5 391.2,249.5 392.0,246.4 392.5,244.3 393.0,242.2 394.0,238.9 394.5,237.7 395.0,236.5 396.0,233.9 397.0,231.7 397.5,230.2 398.0,228.9 398.8,227.2 399.0,226.7 400.0,224.7 401.0,222.7 401.2,222.2 402.0,220.7 403.0,218.7 404.0,217.0 405.0,214.7 406.0,212.7 406.2,212.2 407.0,210.7 408.0,209.0 409.0,207.4 410.0,205.8 411.0,205.0 412.0,204.6 413.0,204.2 414.0,204.3 415.0,204.5 416.0,203.5 417.0,203.6 418.0,204.0 419.0,203.6 420.0,202.9 421.0,202.6 422.0,202.3 423.0,201.7 424.0,200.7 425.0,200.2 426.0,200.4 427.0,199.4 427.3,199.3 428.0,199.3 429.0,199.6 430.0,198.8 431.0,198.1 432.0,197.8 433.0,197.2 434.0,196.6 435.0,196.2 436.0,195.8 436.4,195.6 437.0,195.3 438.0,195.0 439.0,194.6 440.0,194.2 441.0,193.8 442.0,193.4 443.0,193.0 444.0,192.6 445.0,192.2 445.5,192.1 446.0,191.9 447.0,191.0 448.0,190.2 449.0,190.2 450.0,189.1 451.0,188.0 452.0,187.3 453.0,186.1 454.0,185.3 454.5,184.9 455.0,184.7 456.0,184.2 457.0,184.5 458.0,183.0 459.0,182.6 460.0,182.1 461.0,181.6 462.0,181.1 463.0,180.5 463.6,180.2 464.0,180.0 465.0,179.5 466.0,179.0 467.0,178.4 467.3,178.4 468.0,179.0 469.0,179.9 470.0,180.8 471.0,182.0 472.0,182.5 472.7,183.4 473.0,183.7 474.0,184.4 475.0,184.5 476.0,186.0 477.0,187.4 478.0,188.9 479.0,190.5 480.0,192.1 481.0,193.6 481.8,194.8 482.0,195.2 483.0,196.7 484.0,199.2 484.5,201.0 485.0,203.0 486.0,204.9 487.0,206.9 487.2,207.4 488.0,209.9 489.0,211.6 490.0,214.9 491.0,217.4 492.0,219.8 492.7,220.4 493.0,221.2 494.0,223.7 495.0,226.2 495.4,227.2 496.0,228.6 497.0,231.1 498.0,233.6 499.0,236.1 499.5,237.3 500.0,239.1 500.9,241.2 501.0,241.5 502.0,242.7 503.0,244.0 504.0,245.3 505.0,246.9 506.0,248.6 507.0,250.3 508.0,252.0 509.0,254.3 510.0,256.3 511.0,258.0 512.0,259.4 513.0,260.2 514.0,261.2 515.0,262.0 516.0,263.4 517.0,264.9 518.0,266.4 518.6,267.5 519.0,268.6 520.0,270.1 521.0,271.3 522.0,273.0 523.0,274.7 524.0,276.0 525.0,276.8 525.4,276.8 526.0,276.8"/><polyline points="329.0,300.0 330.0,300.0 331.0,300.0 332.0,300.0 333.0,300.0 334.0,300.0 335.0,300.0 336.0,300.0 337.0,300.0 338.0,300.0 339.0,300.0 340.0,300.0 341.0,300.0 342.0,300.0 343.0,300.0 344.0,300.0 345.0,300.0 346.0,300.0 347.0,300.0 348.0,300.0 349.0,300.0 350.0,300.0 351.0,300.0 352.0,300.0 353.0,300.0 354.0,300.0 355.0,300.0 356.0,300.0 357.0,300.0 358.0,300.0 359.0,300.0 360.0,300.0 361.0,300.0 362.0,300.0 363.0,300.0 364.0,300.0 365.0,300.0 366.0,300.0 367.0,300.0 368.0,300.0 369.0,300.0 370.0,300.0 371.0,300.0 372.0,300.0 373.0,299.7 374.0,299.3 375.0,299.0 376.0,298.6 377.0,298.1 378.0,297.4 379.0,296.7 380.0,295.9 381.0,294.8 382.0,293.3 382.5,292.5 383.0,291.7 384.0,288.8 385.0,284.8 386.0,279.6 386.2,278.1 387.0,273.9 387.5,270.8 388.0,268.5 388.8,265.1 389.0,263.5 389.5,260.6 390.0,257.9 391.0,252.2 391.2,250.7 392.0,247.5 392.5,244.9 393.0,243.3 394.0,239.8 394.5,238.5 395.0,236.8 396.0,234.5 397.0,232.0 397.5,231.1 398.0,230.2 398.8,228.6 399.0,228.2 400.0,226.1 401.0,224.7 401.2,223.7 402.0,223.1 403.0,221.5 404.0,219.1 405.0,216.7 406.0,214.8 406.2,214.4 407.0,213.0 408.0,211.4 409.0,209.4 410.0,207.7 411.0,206.8 412.0,206.3 413.0,205.7 414.0,205.4 415.0,205.1 416.0,203.9 417.0,203.1 418.0,202.8 419.0,202.7 420.0,202.1 421.0,201.7 422.0,201.5 423.0,200.9 424.0,201.3 425.0,201.1 426.0,201.1 427.0,200.6 427.3,200.8 428.0,199.8 429.0,199.4 430.0,198.7 431.0,198.0 432.0,198.0 433.0,198.0 434.0,197.7 435.0,198.0 436.0,197.9 436.4,197.6 437.0,197.2 438.0,196.9 439.0,196.5 440.0,196.7 441.0,196.5 442.0,196.6 443.0,195.9 444.0,195.0 445.0,194.7 445.5,193.7 446.0,192.7 447.0,192.5 448.0,191.9 449.0,190.4 450.0,189.8 451.0,189.6 452.0,188.3 453.0,187.6 454.0,186.9 454.5,186.9 455.0,186.5 456.0,186.0 457.0,185.7 458.0,185.7 459.0,184.9 460.0,183.8 461.0,183.2 462.0,181.9 463.0,181.3 463.6,181.5 464.0,181.5 465.0,181.2 466.0,180.7 467.0,180.6 467.3,179.5 468.0,179.9 469.0,181.3 470.0,182.0 471.0,182.0 472.0,183.7 472.7,184.4 473.0,184.4 474.0,185.6 475.0,186.3 476.0,186.9 477.0,188.5 478.0,190.4 479.0,191.3 480.0,192.7 481.0,194.3 481.8,195.5 482.0,195.4 483.0,197.7 484.0,200.3 484.5,201.5 485.0,203.1 486.0,206.0 487.0,208.9 487.2,209.4 488.0,212.2 489.0,214.0 490.0,215.5 491.0,217.9 492.0,220.2 492.7,221.3 493.0,222.8 494.0,225.6 495.0,228.3 495.4,229.3 496.0,231.4 497.0,233.8 498.0,236.9 499.0,238.7 499.5,240.6 500.0,241.5 500.9,242.3 501.0,242.3 502.0,244.3 503.0,245.0 504.0,247.1 505.0,249.3 506.0,250.9 507.0,251.9 508.0,254.4 509.0,255.5 510.0,256.9 511.0,258.5 512.0,260.2 513.0,261.2 514.0,262.0 515.0,263.4 516.0,264.6 517.0,265.8 518.0,267.3 518.6,268.7 519.0,269.0 520.0,270.4 521.0,271.9 522.0,273.2 523.0,274.8 524.0,276.2 525.0,277.0 525.4,277.1 526.0,277.1"/><polyline points="329.0,300.0 330.0,300.0 331.0,300.0 332.0,300.0 333.0,300.0 334.0,300.0 335.0,300.0 336.0,300.0 337.0,300.0 338.0,300.0 339.0,300.0 340.0,300.0 341.0,300.0 342.0,300.0 343.0,300.0 344.0,300.0 345.0,300.0 346.0,300.0 347.0,300.0 348.0,300.0 349.0,300.0 350.0,300.0 351.0,300.0 352.0,300.0 353.0,300.0 354.0,300.0 355.0,300.0 356.0,300.0 357.0,300.0 358.0,300.0 359.0,300.0 360.0,300.0 361.0,300.0 362.0,300.0 363.0,300.0 364.0,300.0 365.0,300.0 366.0,300.0 367.0,300.0 368.0,300.0 369.0,300.0 370.0,300.0 371.0,300.0 372.0,300.0 373.0,299.7 374.0,299.4 375.0,299.0 376.0,298.7 377.0,298.1 378.0,297.4 379.0,296.7 380.0,296.1 381.0,295.0 382.0,293.5 382.5,292.6 383.0,291.8 384.0,288.8 385.0,285.1 386.0,280.0 386.2,279.3 387.0,274.9 387.5,272.8 388.0,269.9 388.8,265.9 389.0,263.9 389.5,261.6 390.0,258.2 391.0,253.0 391.2,252.1 392.0,249.5 392.5,247.4 393.0,244.9 394.0,242.3 394.5,240.9 395.0,239.0 396.0,235.7 397.0,233.6 397.5,232.4 398.0,231.9 398.8,230.5 399.0,230.1 400.0,228.1 401.0,225.5 401.2,224.3 402.0,222.6 403.0,221.5 404.0,219.4 405.0,217.3 406.0,215.6 406.2,215.7 407.0,214.2 408.0,213.1 409.0,212.5 410.0,210.8 411.0,209.4 412.0,208.5 413.0,207.3 414.0,206.6 415.0,206.2 416.0,205.5 417.0,205.7 418.0,205.5 419.0,205.2 420.0,205.4 421.0,206.1 422.0,205.0 423.0,204.6 424.0,204.7 425.0,203.9 426.0,202.6 427.0,202.0 427.3,202.2 428.0,201.2 429.0,200.8 430.0,200.4 431.0,200.6 432.0,200.2 433.0,200.3 434.0,199.8 435.0,199.3 436.0,199.3 436.4,198.9 437.0,198.8 438.0,198.8 439.0,198.8 440.0,197.4 441.0,196.8 442.0,196.4 443.0,195.3 444.0,194.4 445.0,195.0 445.5,195.9 446.0,195.8 447.0,195.7 448.0,195.2 449.0,193.8 450.0,192.3 451.0,191.6 452.0,191.2 453.0,191.1 454.0,190.1 454.5,190.1 455.0,189.3 456.0,188.3 457.0,187.2 458.0,186.6 459.0,185.7 460.0,184.6 461.0,184.4 462.0,183.5 463.0,183.2 463.6,183.0 464.0,182.8 465.0,182.6 466.0,182.7 467.0,182.1 467.3,182.8 468.0,183.9 469.0,184.8 470.0,185.3 471.0,185.9 472.0,185.8 472.7,186.4 473.0,186.1 474.0,186.4 475.0,187.7 476.0,189.4 477.0,191.2 478.0,192.2 479.0,193.7 480.0,195.2 481.0,196.3 481.8,197.8 482.0,198.3 483.0,200.7 484.0,202.8 484.5,205.0 485.0,204.8 486.0,207.5 487.0,209.8 487.2,209.8 488.0,211.6 489.0,214.8 490.0,218.1 491.0,220.5 492.0,223.3 492.7,224.6 493.0,224.9 494.0,227.5 495.0,230.4 495.4,231.4 496.0,233.0 497.0,235.1 498.0,237.0 499.0,239.3 499.5,240.3 500.0,241.5 500.9,243.6 501.0,243.6 502.0,245.0 503.0,246.6 504.0,248.6 505.0,249.6 506.0,251.3 507.0,252.6 508.0,254.2 509.0,255.7 510.0,257.2 511.0,258.5 512.0,260.2 513.0,261.7 514.0,262.7 515.0,264.4 516.0,265.7 517.0,266.8 518.0,268.2 518.6,269.4 519.0,270.0 520.0,271.5 521.0,272.9 522.0,274.2 523.0,275.4 524.0,276.8 525.0,277.6 525.4,277.7 526.0,277.9"/><polyline points="329.0,300.0 330.0,300.0 331.0,300.0 332.0,300.0 333.0,300.0 334.0,300.0 335.0,300.0 336.0,300.0 337.0,300.0 338.0,300.0 339.0,300.0 340.0,300.0 341.0,300.0 342.0,300.0 343.0,300.0 344.0,300.0 345.0,300.0 346.0,300.0 347.0,300.0 348.0,300.0 349.0,300.0 350.0,300.0 351.0,300.0 352.0,300.0 353.0,300.0 354.0,300.0 355.0,300.0 356.0,300.0 357.0,300.0 358.0,300.0 359.0,300.0 360.0,300.0 361.0,300.0 362.0,300.0 363.0,300.0 364.0,300.0 365.0,300.0 366.0,300.0 367.0,300.0 368.0,300.0 369.0,300.0 370.0,300.0 371.0,300.0 372.0,300.0 373.0,299.7 374.0,299.4 375.0,299.2 376.0,298.8 377.0,298.4 378.0,297.6 379.0,296.9 380.0,296.1 381.0,295.2 382.0,293.5 382.5,292.8 383.0,292.0 384.0,289.5 385.0,285.6 386.0,280.8 386.2,279.6 387.0,275.3 387.5,273.4 388.0,271.1 388.8,267.7 389.0,266.2 389.5,263.6 390.0,260.6 391.0,256.5 391.2,255.0 392.0,252.2 392.5,250.8 393.0,248.3 394.0,244.3 394.5,243.6 395.0,242.2 396.0,238.6 397.0,236.5 397.5,235.2 398.0,233.3 398.8,232.1 399.0,231.5 400.0,229.5 401.0,227.1 401.2,226.3 402.0,224.8 403.0,223.3 404.0,220.5 405.0,219.7 406.0,218.3 406.2,217.9 407.0,216.6 408.0,215.4 409.0,213.3 410.0,212.9 411.0,212.2 412.0,212.2 413.0,211.8 414.0,211.8 415.0,211.5 416.0,210.5 417.0,210.1 418.0,210.4 419.0,209.8 420.0,209.0 421.0,208.3 422.0,207.7 423.0,206.5 424.0,205.3 425.0,204.4 426.0,204.1 427.0,203.3 427.3,203.8 428.0,203.8 429.0,203.7 430.0,203.0 431.0,202.3 432.0,201.9 433.0,201.2 434.0,200.7 435.0,200.7 436.0,200.9 436.4,200.4 437.0,200.2 438.0,200.3 439.0,200.0 440.0,199.1 441.0,199.1 442.0,199.0 443.0,198.0 444.0,197.0 445.0,196.6 445.5,195.6 446.0,195.6 447.0,195.2 448.0,194.9 449.0,193.9 450.0,193.3 451.0,192.8 452.0,192.3 453.0,191.5 454.0,190.9 454.5,190.9 455.0,189.8 456.0,188.2 457.0,188.1 458.0,188.2 459.0,187.9 460.0,187.8 461.0,188.3 462.0,187.1 463.0,185.8 463.6,185.3 464.0,185.2 465.0,184.8 466.0,184.4 467.0,184.9 467.3,185.1 468.0,184.6 469.0,185.3 470.0,186.1 471.0,186.5 472.0,186.9 472.7,187.7 473.0,187.6 474.0,188.7 475.0,189.0 476.0,190.4 477.0,191.5 478.0,193.0 479.0,193.9 480.0,196.3 481.0,198.6 481.8,201.1 482.0,201.7 483.0,203.9 484.0,205.3 484.5,206.1 485.0,206.6 486.0,208.9 487.0,211.8 487.2,212.6 488.0,214.5 489.0,217.2 490.0,219.6 491.0,222.5 492.0,225.8 492.7,226.9 493.0,228.4 494.0,230.2 495.0,231.7 495.4,231.7 496.0,233.4 497.0,234.7 498.0,237.4 499.0,239.9 499.5,241.5 500.0,242.5 500.9,244.0 501.0,244.4 502.0,246.3 503.0,248.1 504.0,249.4 505.0,251.0 506.0,252.8 507.0,253.8 508.0,254.8 509.0,256.7 510.0,258.4 511.0,259.7 512.0,261.0 513.0,262.4 514.0,263.6 515.0,264.9 516.0,265.7 517.0,267.4 518.0,268.6 518.6,269.5 519.0,270.5 520.0,271.9 521.0,273.2 522.0,274.7 523.0,276.1 524.0,277.1 525.0,277.9 525.4,278.0 526.0,278.1"/><polyline points="329.0,300.0 330.0,300.0 331.0,300.0 332.0,300.0 333.0,300.0 334.0,300.0 335.0,300.0 336.0,300.0 337.0,300.0 338.0,300.0 339.0,300.0 340.0,300.0 341.0,300.0 342.0,300.0 343.0,300.0 344.0,300.0 345.0,300.0 346.0,300.0 347.0,300.0 348.0,300.0 349.0,300.0 350.0,300.0 351.0,300.0 352.0,300.0 353.0,300.0 354.0,300.0 355.0,300.0 356.0,300.0 357.0,300.0 358.0,300.0 359.0,300.0 360.0,300.0 361.0,300.0 362.0,300.0 363.0,300.0 364.0,300.0 365.0,300.0 366.0,300.0 367.0,300.0 368.0,300.0 369.0,300.0 370.0,300.0 371.0,300.0 372.0,300.0 373.0,299.7 374.0,299.5 375.0,299.2 376.0,298.9 377.0,298.6 378.0,297.9 379.0,297.3 380.0,296.7 381.0,295.5 382.0,293.7 382.5,293.0 383.0,292.2 384.0,289.5 385.0,286.2 386.0,281.9 386.2,281.0 387.0,277.6 387.5,275.7 388.0,273.1 388.8,269.2 389.0,267.9 389.5,264.9 390.0,261.4 391.0,257.5 391.2,257.2 392.0,253.6 392.5,251.4 393.0,249.2 394.0,245.3 394.5,243.7 395.0,242.3 396.0,239.1 397.0,236.5 397.5,235.1 398.0,233.3 398.8,231.6 399.0,231.3 400.0,229.5 401.0,227.6 401.2,227.4 402.0,226.4 403.0,225.2 404.0,223.0 405.0,221.8 406.0,220.3 406.2,219.8 407.0,217.9 408.0,217.0 409.0,215.4 410.0,215.0 411.0,214.3 412.0,214.2 413.0,213.1 414.0,212.6 415.0,212.5 416.0,212.1 417.0,211.8 418.0,211.3 419.0,210.2 420.0,208.9 421.0,207.9 422.0,208.0 423.0,208.5 424.0,208.2 425.0,207.5 426.0,207.3 427.0,205.8 427.3,205.2 428.0,204.7 429.0,204.1 430.0,203.9 431.0,203.7 432.0,203.5 433.0,203.4 434.0,203.6 435.0,202.8 436.0,202.6 436.4,202.2 437.0,202.1 438.0,201.0 439.0,201.3 440.0,200.5 441.0,199.6 442.0,198.9 443.0,199.3 444.0,198.8 445.0,199.1 445.5,199.2 446.0,199.5 447.0,198.1 448.0,196.4 449.0,195.0 450.0,194.8 451.0,193.9 452.0,193.3 453.0,193.4 454.0,193.4 454.5,192.3 455.0,191.9 456.0,191.7 457.0,190.3 458.0,189.5 459.0,189.3 460.0,189.1 461.0,188.7 462.0,189.1 463.0,188.4 463.6,188.5 464.0,188.5 465.0,187.5 466.0,186.7 467.0,186.3 467.3,186.3 468.0,185.3 469.0,186.7 470.0,187.3 471.0,188.2 472.0,188.9 472.7,190.2 473.0,190.0 474.0,190.6 475.0,191.7 476.0,192.6 477.0,194.8 478.0,197.0 479.0,198.8 480.0,199.7 481.0,201.2 481.8,202.3 482.0,202.4 483.0,204.7 484.0,207.6 484.5,208.6 485.0,209.2 486.0,211.5 487.0,214.5 487.2,214.2 488.0,217.3 489.0,219.5 490.0,222.4 491.0,223.9 492.0,226.8 492.7,228.3 493.0,229.8 494.0,232.6 495.0,234.6 495.4,235.4 496.0,236.7 497.0,238.1 498.0,240.5 499.0,243.7 499.5,245.1 500.0,246.1 500.9,247.9 501.0,247.7 502.0,248.2 503.0,249.4 504.0,250.7 505.0,252.5 506.0,254.4 507.0,257.0 508.0,258.4 509.0,259.7 510.0,260.6 511.0,261.3 512.0,262.5 513.0,264.2 514.0,265.3 515.0,266.9 516.0,268.7 517.0,269.9 518.0,271.5 518.6,272.8 519.0,273.1 520.0,274.1 521.0,274.6 522.0,275.6 523.0,276.3 524.0,277.3 525.0,278.1 525.4,278.3 526.0,278.4"/><polyline points="329.0,300.0 330.0,300.0 331.0,300.0 332.0,300.0 333.0,300.0 334.0,300.0 335.0,300.0 336.0,300.0 337.0,300.0 338.0,300.0 339.0,300.0 340.0,300.0 341.0,300.0 342.0,300.0 343.0,300.0 344.0,300.0 345.0,300.0 346.0,300.0 347.0,300.0 348.0,300.0 349.0,300.0 350.0,300.0 351.0,300.0 352.0,300.0 353.0,300.0 354.0,300.0 355.0,300.0 356.0,300.0 357.0,300.0 358.0,300.0 359.0,300.0 360.0,300.0 361.0,300.0 362.0,300.0 363.0,300.0 364.0,300.0 365.0,300.0 366.0,300.0 367.0,300.0 368.0,300.0 369.0,300.0 370.0,300.0 371.0,300.0 372.0,300.0 373.0,299.7 374.0,299.5 375.0,299.2 376.0,299.0 377.0,298.6 378.0,298.0 379.0,297.4 380.0,296.7 381.0,295.4 382.0,293.8 382.5,293.0 383.0,292.3 384.0,290.3 385.0,287.9 386.0,283.7 386.2,282.9 387.0,279.2 387.5,276.6 388.0,274.1 388.8,270.2 389.0,268.4 389.5,266.2 390.0,262.6 391.0,258.2 391.2,258.1 392.0,254.9 392.5,252.7 393.0,250.7 394.0,247.1 394.5,244.9 395.0,244.4 396.0,241.4 397.0,238.9 397.5,238.1 398.0,237.2 398.8,235.0 399.0,234.6 400.0,233.0 401.0,231.1 401.2,230.0 402.0,229.1 403.0,227.0 404.0,224.5 405.0,222.3 406.0,220.8 406.2,220.4 407.0,218.6 408.0,217.2 409.0,216.2 410.0,216.1 411.0,214.5 412.0,214.2 413.0,213.5 414.0,212.2 415.0,212.0 416.0,211.6 417.0,211.5 418.0,212.1 419.0,212.9 420.0,212.4 421.0,212.9 422.0,212.9 423.0,211.9 424.0,211.0 425.0,210.3 426.0,209.2 427.0,208.5 427.3,209.1 428.0,208.4 429.0,208.2 430.0,208.4 431.0,207.9 432.0,207.3 433.0,207.3 434.0,206.6 435.0,205.1 436.0,204.8 436.4,203.8 437.0,203.6 438.0,202.4 439.0,202.9 440.0,201.9 441.0,202.3 442.0,202.0 443.0,201.7 444.0,200.4 445.0,200.9 445.5,200.8 446.0,199.6 447.0,199.5 448.0,199.1 449.0,197.4 450.0,196.6 451.0,196.6 452.0,195.2 453.0,194.6 454.0,194.4 454.5,194.2 455.0,194.3 456.0,194.0 457.0,193.8 458.0,193.6 459.0,192.3 460.0,191.2 461.0,190.9 462.0,189.4 463.0,188.9 463.6,189.2 464.0,189.5 465.0,189.4 466.0,189.2 467.0,189.1 467.3,188.3 468.0,187.4 469.0,187.5 470.0,189.0 471.0,189.1 472.0,190.5 472.7,191.0 473.0,191.0 474.0,192.2 475.0,192.5 476.0,193.2 477.0,194.8 478.0,197.7 479.0,199.3 480.0,201.8 481.0,203.3 481.8,205.9 482.0,205.1 483.0,206.5 484.0,208.4 484.5,210.9 485.0,212.4 486.0,216.1 487.0,218.6 487.2,219.4 488.0,220.7 489.0,222.5 490.0,224.0 491.0,226.2 492.0,228.9 492.7,231.1 493.0,232.5 494.0,235.7 495.0,238.3 495.4,238.2 496.0,238.4 497.0,239.5 498.0,241.6 499.0,243.4 499.5,245.0 500.0,246.1 500.9,247.7 501.0,247.5 502.0,249.4 503.0,251.6 504.0,253.0 505.0,254.6 506.0,256.8 507.0,258.6 508.0,260.1 509.0,261.9 510.0,263.2 511.0,263.6 512.0,264.8 513.0,266.0 514.0,267.3 515.0,268.9 516.0,270.6 517.0,271.4 518.0,272.3 518.6,273.0 519.0,273.7 520.0,274.3 521.0,275.1 522.0,275.8 523.0,276.6 524.0,277.4 525.0,278.1 525.4,278.4 526.0,278.7"/><polyline points="329.0,300.0 330.0,300.0 331.0,300.0 332.0,300.0 333.0,300.0 334.0,300.0 335.0,300.0 336.0,300.0 337.0,300.0 338.0,300.0 339.0,300.0 340.0,300.0 341.0,300.0 342.0,300.0 343.0,300.0 344.0,300.0 345.0,300.0 346.0,300.0 347.0,300.0 348.0,300.0 349.0,300.0 350.0,300.0 351.0,300.0 352.0,300.0 353.0,300.0 354.0,300.0 355.0,300.0 356.0,300.0 357.0,300.0 358.0,300.0 359.0,300.0 360.0,300.0 361.0,300.0 362.0,300.0 363.0,300.0 364.0,300.0 365.0,300.0 366.0,300.0 367.0,300.0 368.0,300.0 369.0,300.0 370.0,300.0 371.0,300.0 372.0,300.0 373.0,299.8 374.0,299.5 375.0,299.3 376.0,299.1 377.0,298.8 378.0,298.3 379.0,297.7 380.0,297.0 381.0,295.7 382.0,294.3 382.5,293.5 383.0,292.8 384.0,291.1 385.0,289.1 386.0,284.5 386.2,283.0 387.0,279.3 387.5,276.5 388.0,274.4 388.8,270.9 389.0,269.6 389.5,266.7 390.0,264.7 391.0,259.7 391.2,259.0 392.0,256.0 392.5,253.5 393.0,251.5 394.0,248.9 394.5,247.3 395.0,246.8 396.0,244.5 397.0,242.0 397.5,240.0 398.0,239.2 398.8,236.9 399.0,235.9 400.0,233.1 401.0,230.9 401.2,230.0 402.0,228.3 403.0,227.0 404.0,225.4 405.0,224.1 406.0,223.0 406.2,223.7 407.0,222.5 408.0,220.5 409.0,220.0 410.0,218.8 411.0,218.4 412.0,217.2 413.0,216.7 414.0,215.3 415.0,215.1 416.0,214.6 417.0,215.2 418.0,215.1 419.0,215.3 420.0,214.0 421.0,213.2 422.0,211.6 423.0,211.6 424.0,210.6 425.0,210.0 426.0,209.7 427.0,209.7 427.3,209.1 428.0,208.7 429.0,209.1 430.0,208.3 431.0,208.3 432.0,207.6 433.0,207.2 434.0,206.8 435.0,206.6 436.0,205.9 436.4,206.5 437.0,206.4 438.0,205.2 439.0,204.5 440.0,203.5 441.0,202.3 442.0,202.0 443.0,201.7 444.0,202.0 445.0,201.8 445.5,202.2 446.0,202.2 447.0,202.1 448.0,201.4 449.0,201.2 450.0,200.3 451.0,199.0 452.0,198.1 453.0,196.8 454.0,195.8 454.5,195.2 455.0,194.9 456.0,194.0 457.0,193.6 458.0,192.5 459.0,191.9 460.0,191.1 461.0,190.9 462.0,190.4 463.0,189.8 463.6,189.4 464.0,189.7 465.0,189.3 466.0,189.1 467.0,189.8 467.3,190.5 468.0,190.1 469.0,190.6 470.0,191.4 471.0,191.6 472.0,191.5 472.7,192.1 473.0,193.2 474.0,194.5 475.0,195.2 476.0,196.1 477.0,198.7 478.0,199.7 479.0,200.3 480.0,202.0 481.0,204.0 481.8,205.6 482.0,205.8 483.0,208.8 484.0,211.0 484.5,212.2 485.0,212.6 486.0,215.8 487.0,218.0 487.2,219.5 488.0,222.1 489.0,224.9 490.0,226.6 491.0,229.4 492.0,231.6 492.7,233.9 493.0,233.9 494.0,236.8 495.0,238.8 495.4,238.6 496.0,239.9 497.0,243.0 498.0,245.1 499.0,246.7 499.5,248.7 500.0,249.7 500.9,250.8 501.0,251.4 502.0,252.6 503.0,253.6 504.0,254.9 505.0,256.3 506.0,257.3 507.0,259.4 508.0,261.1 509.0,262.2 510.0,263.4 511.0,264.5 512.0,265.3 513.0,266.7 514.0,268.2 515.0,269.4 516.0,270.7 517.0,272.3 518.0,273.1 518.6,273.3 519.0,274.2 520.0,274.8 521.0,275.6 522.0,276.3 523.0,277.3 524.0,278.0 525.0,278.7 525.4,278.9 526.0,279.3"/><polyline points="329.0,300.0 330.0,300.0 331.0,300.0 332.0,300.0 333.0,300.0 334.0,300.0 335.0,300.0 336.0,300.0 337.0,300.0 338.0,300.0 339.0,300.0 340.0,300.0 341.0,300.0 342.0,300.0 343.0,300.0 344.0,300.0 345.0,300.0 346.0,300.0 347.0,300.0 348.0,300.0 349.0,300.0 350.0,300.0 351.0,300.0 352.0,300.0 353.0,300.0 354.0,300.0 355.0,300.0 356.0,300.0 357.0,300.0 358.0,300.0 359.0,300.0 360.0,300.0 361.0,300.0 362.0,300.0 363.0,300.0 364.0,300.0 365.0,300.0 366.0,300.0 367.0,300.0 368.0,300.0 369.0,300.0 370.0,300.0 371.0,300.0 372.0,300.0 373.0,299.8 374.0,299.6 375.0,299.4 376.0,299.2 377.0,298.9 378.0,298.4 379.0,297.9 380.0,297.4 381.0,296.2 382.0,294.7 382.5,293.9 383.0,293.1 384.0,291.6 385.0,290.0 386.0,286.0 386.2,284.6 387.0,281.2 387.5,278.7 388.0,276.2 388.8,272.4 389.0,271.2 389.5,268.7 390.0,266.2 391.0,262.0 391.2,261.0 392.0,258.1 392.5,256.2 393.0,254.3 394.0,250.9 394.5,249.4 395.0,247.9 396.0,245.0 397.0,242.0 397.5,240.6 398.0,239.3 398.8,237.8 399.0,237.0 400.0,234.2 401.0,231.8 401.2,231.4 402.0,229.7 403.0,228.2 404.0,227.2 405.0,225.9 406.0,224.6 406.2,224.3 407.0,223.3 408.0,222.0 409.0,220.7 410.0,219.9 411.0,219.5 412.0,218.7 413.0,218.2 414.0,217.2 415.0,216.5 416.0,217.1 417.0,216.5 418.0,215.6 419.0,214.8 420.0,214.7 421.0,213.1 422.0,213.3 423.0,212.7 424.0,212.5 425.0,211.5 426.0,211.2 427.0,210.8 427.3,211.4 428.0,211.0 429.0,210.7 430.0,210.2 431.0,209.5 432.0,208.8 433.0,208.2 434.0,206.9 435.0,206.5 436.0,206.5 436.4,206.1 437.0,206.2 438.0,206.5 439.0,206.1 440.0,205.4 441.0,205.3 442.0,204.8 443.0,204.1 444.0,204.0 445.0,203.6 445.5,203.3 446.0,203.0 447.0,202.4 448.0,201.8 449.0,201.2 450.0,200.6 451.0,199.6 452.0,199.1 453.0,198.4 454.0,197.5 454.5,197.2 455.0,197.4 456.0,196.6 457.0,196.4 458.0,195.8 459.0,195.2 460.0,194.6 461.0,194.0 462.0,193.4 463.0,192.8 463.6,192.6 464.0,192.4 465.0,191.8 466.0,191.6 467.0,190.8 467.3,191.0 468.0,191.1 469.0,191.8 470.0,193.1 471.0,193.8 472.0,194.6 472.7,195.1 473.0,195.4 474.0,196.1 475.0,196.7 476.0,197.8 477.0,199.5 478.0,201.6 479.0,203.4 480.0,205.3 481.0,207.0 481.8,208.8 482.0,208.8 483.0,210.7 484.0,213.4 484.5,215.0 485.0,216.2 486.0,218.8 487.0,221.3 487.2,221.8 488.0,223.8 489.0,226.3 490.0,228.2 491.0,230.7 492.0,233.7 492.7,235.3 493.0,236.2 494.0,238.5 495.0,240.5 495.4,241.3 496.0,242.5 497.0,244.5 498.0,246.5 499.0,248.5 499.5,249.5 500.0,250.5 500.9,252.0 501.0,252.1 502.0,252.9 503.0,254.7 504.0,255.5 505.0,257.5 506.0,258.6 507.0,260.6 508.0,261.9 509.0,263.6 510.0,265.0 511.0,266.2 512.0,267.3 513.0,268.3 514.0,268.9 515.0,270.2 516.0,271.3 517.0,272.5 518.0,274.0 518.6,274.6 519.0,275.2 520.0,275.5 521.0,276.2 522.0,277.0 523.0,277.8 524.0,278.3 525.0,279.2 525.4,279.4 526.0,279.8"/><polyline points="328.6,238.6 328.7,299.0 330.0,300.0"/><polyline points="520.0,272.0 526.0,278.0 530.0,279.0"/><polyline points="527.0,276.0 527.8,177.0 529.5,185.0 530.3,275.0"/><polyline points="531.0,241.0 532.0,189.0 533.2,241.0"/><polyline points="534.0,263.0 535.5,187.0 537.2,262.0"/><polyline points="538.2,241.0 539.5,181.0 541.5,241.0"/><polyline points="542.3,227.0 543.5,184.0 544.6,227.0"/><polyline points="545.3,261.0 546.5,227.0 548.5,232.0 549.0,262.0"/><polyline points="545.5,262.0 547.0,275.0 549.0,284.0 551.7,286.5 556.2,288.0 557.4,186.6 558.4,186.6 559.8,289.0 562.8,291.0 575.5,300.6 588.3,305.3 595.0,305.5"/><polyline points="428.1,205.0 428.1,136.4 428.9,136.4 428.9,205.0"/><polyline points="432.6,203.0 432.6,177.4 433.4,177.4 433.4,203.0"/><polyline points="437.6,201.0 437.6,178.4 438.4,178.4 438.4,201.0"/><polyline points="441.4,200.0 441.4,181.4 442.2,181.4 442.2,200.0"/><polyline points="447.1,198.0 447.1,97.9 447.9,97.9 447.9,198.0"/></g>
<text x="180.8" y="15.8" font-size="16.67" text-anchor="middle">21.2 (Tile032=32) X</text><text x="460.8" y="15.8" font-size="16.67" text-anchor="middle">21.2 (Tile032=32) Y</text><text x="32.3" y="42.2" font-size="13.6" text-anchor="end">On</text><text x="611.8" y="42.2" font-size="13.6">On</text><text x="32.3" y="58.9" font-size="13.6" text-anchor="end">Y</text><text x="611.8" y="58.9" font-size="13.6">Y</text><text x="32.3" y="75.6" font-size="13.6" text-anchor="end">Off</text><text x="611.8" y="75.6" font-size="13.6">Off</text><text x="32.3" y="92.3" font-size="13.6" text-anchor="end">P</text><text x="611.8" y="92.3" font-size="13.6">P</text><text x="32.3" y="109.0" font-size="13.6" text-anchor="end">O</text><text x="611.8" y="109.0" font-size="13.6">O</text><text x="32.3" y="125.7" font-size="13.6" text-anchor="end">N</text><text x="611.8" y="125.7" font-size="13.6">N</text><text x="32.3" y="142.4" font-size="13.6" text-anchor="end">M</text><text x="611.8" y="142.4" font-size="13.6">M</text><text x="32.3" y="159.1" font-size="13.6" text-anchor="end">L</text><text x="611.8" y="159.1" font-size="13.6">L</text><text x="32.3" y="175.8" font-size="13.6" text-anchor="end">K</text><text x="611.8" y="175.8" font-size="13.6">K</text><text x="32.3" y="192.5" font-size="13.6" text-anchor="end">J</text><text x="611.8" y="192.5" font-size="13.6">J</text><text x="32.3" y="209.2" font-size="13.6" text-anchor="end">I</text><text x="611.8" y="209.2" font-size="13.6">I</text><text x="32.3" y="225.9" font-size="13.6" text-anchor="end">H</text><text x="611.8" y="225.9" font-size="13.6">H</text><text x="32.3" y="242.6" font-size="13.6" text-anchor="end">G</text><text x="611.8" y="242.6" font-size="13.6">G</text><text x="32.3" y="259.3" font-size="13.6" text-anchor="end">F</text><text x="611.8" y="259.3" font-size="13.6">F</text><text x="32.3" y="276.0" font-size="13.6" text-anchor="end">E</text><text x="611.8" y="276.0" font-size="13.6">E</text><text x="32.3" y="292.7" font-size="13.6" text-anchor="end">D</text><text x="611.8" y="292.7" font-size="13.6">D</text><text x="32.3" y="309.4" font-size="13.6" text-anchor="end">C</text><text x="611.8" y="309.4" font-size="13.6">C</text><text x="32.3" y="326.1" font-size="13.6" text-anchor="end">B</text><text x="611.8" y="326.1" font-size="13.6">B</text><text x="32.3" y="342.8" font-size="13.6" text-anchor="end">A</text><text x="611.8" y="342.8" font-size="13.6">A</text><text x="32.3" y="359.5" font-size="13.6" text-anchor="end">Off</text><text x="611.8" y="359.5" font-size="13.6">Off</text><text x="32.3" y="376.2" font-size="13.6" text-anchor="end">X</text><text x="611.8" y="376.2" font-size="13.6">X</text><text x="32.3" y="392.9" font-size="13.6" text-anchor="end">On</text><text x="611.8" y="392.9" font-size="13.6">On</text><rect x="48.90" y="408.1" width="1" height="5.7" fill="#222"/><text x="49.60" y="425.5" font-size="9.7" letter-spacing="-0.45" text-anchor="middle">0</text><rect x="89.35" y="408.1" width="1" height="5.7" fill="#222"/><text x="90.05" y="425.5" font-size="9.7" letter-spacing="-0.45" text-anchor="middle">50</text><rect x="129.80" y="408.1" width="1" height="5.7" fill="#222"/><text x="130.50" y="425.5" font-size="9.7" letter-spacing="-0.45" text-anchor="middle">100</text><rect x="170.25" y="408.1" width="1" height="5.7" fill="#222"/><text x="170.95" y="425.5" font-size="9.7" letter-spacing="-0.45" text-anchor="middle">150</text><rect x="210.70" y="408.1" width="1" height="5.7" fill="#222"/><text x="211.40" y="425.5" font-size="9.7" letter-spacing="-0.45" text-anchor="middle">200</text><rect x="251.15" y="408.1" width="1" height="5.7" fill="#222"/><text x="251.85" y="425.5" font-size="9.7" letter-spacing="-0.45" text-anchor="middle">250</text><rect x="291.60" y="408.1" width="1" height="5.7" fill="#222"/><text x="292.30" y="425.5" font-size="9.7" letter-spacing="-0.45" text-anchor="middle">300</text><rect x="328.90" y="408.1" width="1" height="5.7" fill="#222"/><text x="329.60" y="425.5" font-size="9.7" letter-spacing="-0.45" text-anchor="middle">0</text><rect x="369.35" y="408.1" width="1" height="5.7" fill="#222"/><text x="370.05" y="425.5" font-size="9.7" letter-spacing="-0.45" text-anchor="middle">50</text><rect x="409.80" y="408.1" width="1" height="5.7" fill="#222"/><text x="410.50" y="425.5" font-size="9.7" letter-spacing="-0.45" text-anchor="middle">100</text><rect x="450.25" y="408.1" width="1" height="5.7" fill="#222"/><text x="450.95" y="425.5" font-size="9.7" letter-spacing="-0.45" text-anchor="middle">150</text><rect x="490.70" y="408.1" width="1" height="5.7" fill="#222"/><text x="491.40" y="425.5" font-size="9.7" letter-spacing="-0.45" text-anchor="middle">200</text><rect x="531.15" y="408.1" width="1" height="5.7" fill="#222"/><text x="531.85" y="425.5" font-size="9.7" letter-spacing="-0.45" text-anchor="middle">250</text><rect x="571.60" y="408.1" width="1" height="5.7" fill="#222"/><text x="572.30" y="425.5" font-size="9.7" letter-spacing="-0.45" text-anchor="middle">300</text><rect x="69.3" y="282.85" width="5.4" height="1.1" fill="#fff"/><text x="79.2" y="289.0" font-size="13.7" fill="#fff">0</text><rect x="69.3" y="234.90" width="5.4" height="1.1" fill="#fff"/><text x="79.2" y="241.1" font-size="13.7" fill="#fff">5</text><rect x="69.3" y="186.95" width="5.4" height="1.1" fill="#fff"/><text x="79.2" y="193.1" font-size="13.7" fill="#fff">10</text><rect x="69.3" y="139.00" width="5.4" height="1.1" fill="#fff"/><text x="79.2" y="145.2" font-size="13.7" fill="#fff">15</text><rect x="69.3" y="91.05" width="5.4" height="1.1" fill="#fff"/><text x="79.2" y="97.2" font-size="13.7" fill="#fff">20</text><rect x="69.3" y="43.10" width="5.4" height="1.1" fill="#fff"/><text x="79.2" y="49.2" font-size="13.7" fill="#fff">25</text><rect x="350.0" y="282.85" width="5.4" height="1.1" fill="#fff"/><text x="359.2" y="289.0" font-size="13.7" fill="#fff">0</text><rect x="350.0" y="234.90" width="5.4" height="1.1" fill="#fff"/><text x="359.2" y="241.1" font-size="13.7" fill="#fff">5</text><rect x="350.0" y="186.95" width="5.4" height="1.1" fill="#fff"/><text x="359.2" y="193.1" font-size="13.7" fill="#fff">10</text><rect x="350.0" y="139.00" width="5.4" height="1.1" fill="#fff"/><text x="359.2" y="145.2" font-size="13.7" fill="#fff">15</text><rect x="350.0" y="91.05" width="5.4" height="1.1" fill="#fff"/><text x="359.2" y="97.2" font-size="13.7" fill="#fff">20</text><rect x="350.0" y="43.10" width="5.4" height="1.1" fill="#fff"/><text x="359.2" y="49.2" font-size="13.7" fill="#fff">25</text><text x="301.1" y="289.0" font-size="13.7" fill="#fff" clip-path="url(#clipL)">0</text><text x="301.1" y="241.1" font-size="13.7" fill="#fff" clip-path="url(#clipL)">5</text><text x="301.1" y="193.1" font-size="13.7" fill="#fff" clip-path="url(#clipL)">10</text><text x="301.1" y="145.2" font-size="13.7" fill="#fff" clip-path="url(#clipL)">15</text><text x="301.1" y="97.2" font-size="13.7" fill="#fff" clip-path="url(#clipL)">20</text><text x="301.1" y="49.2" font-size="13.7" fill="#fff" clip-path="url(#clipL)">25</text><text transform="translate(4.1,218.6) rotate(-90)" font-size="13.9" text-anchor="middle">Dipole</text>
</svg></body></html>
